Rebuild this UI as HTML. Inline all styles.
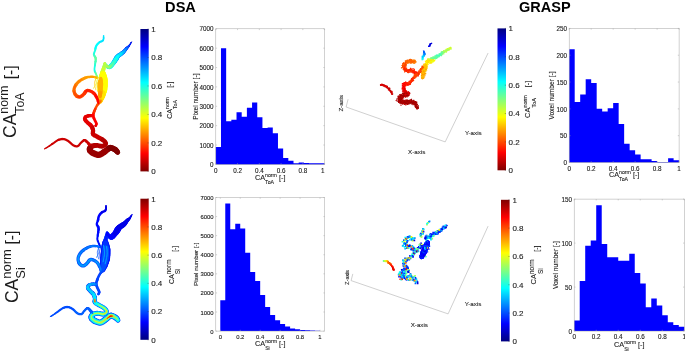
<!DOCTYPE html>
<html><head><meta charset="utf-8"><title>DSA vs GRASP</title>
<style>html,body{margin:0;padding:0;background:#fff;}svg{display:block;}#fig{width:685px;height:351px;overflow:hidden;will-change:transform;filter:blur(0.45px);}text{font-family:"Liberation Sans",sans-serif;}</style></head>
<body>
<div id="fig">
<svg width="685" height="351" viewBox="0 0 685 351" font-family="'Liberation Sans', sans-serif">
<rect width="685" height="351" fill="#fff"/>
<text x="180.50" y="11.80" font-size="14.60" text-anchor="middle" fill="#000" font-weight="bold">DSA</text>
<text x="544.80" y="11.90" font-size="14.50" text-anchor="middle" fill="#000" font-weight="bold">GRASP</text>
<g transform="translate(16.00 101.70) rotate(-90)" fill="#1c1c1c"><text x="-36.26" y="0" font-size="17.50">CA</text><text x="-11.94" y="-7.80" font-size="12.30">norm</text><text x="-11.94" y="8.10" font-size="12.30">ToA</text><text x="22.39" y="-0.50" font-size="15.60">[-]</text></g>
<g transform="translate(17.50 266.90) rotate(-90)" fill="#1c1c1c"><text x="-36.18" y="0" font-size="17.50">CA</text><text x="-11.87" y="-7.00" font-size="13.00">norm</text><text x="-11.87" y="7.60" font-size="13.00">Si</text><text x="22.31" y="-0.50" font-size="15.60">[-]</text></g>
<linearGradient id="cb1433" x1="0" y1="0" x2="0" y2="1"><stop offset="0.0000" stop-color="#000080"/><stop offset="0.0312" stop-color="#00009f"/><stop offset="0.0625" stop-color="#0000bf"/><stop offset="0.0938" stop-color="#0000df"/><stop offset="0.1250" stop-color="#0000ff"/><stop offset="0.1562" stop-color="#0020ff"/><stop offset="0.1875" stop-color="#0040ff"/><stop offset="0.2188" stop-color="#0060ff"/><stop offset="0.2500" stop-color="#0080ff"/><stop offset="0.2812" stop-color="#009fff"/><stop offset="0.3125" stop-color="#00bfff"/><stop offset="0.3438" stop-color="#00dfff"/><stop offset="0.3750" stop-color="#00ffff"/><stop offset="0.4062" stop-color="#20ffdf"/><stop offset="0.4375" stop-color="#40ffbf"/><stop offset="0.4688" stop-color="#60ff9f"/><stop offset="0.5000" stop-color="#80ff80"/><stop offset="0.5312" stop-color="#9fff60"/><stop offset="0.5625" stop-color="#bfff40"/><stop offset="0.5938" stop-color="#dfff20"/><stop offset="0.6250" stop-color="#ffff00"/><stop offset="0.6562" stop-color="#ffdf00"/><stop offset="0.6875" stop-color="#ffbf00"/><stop offset="0.7188" stop-color="#ff9f00"/><stop offset="0.7500" stop-color="#ff8000"/><stop offset="0.7812" stop-color="#ff6000"/><stop offset="0.8125" stop-color="#ff4000"/><stop offset="0.8438" stop-color="#ff2000"/><stop offset="0.8750" stop-color="#ff0000"/><stop offset="0.9062" stop-color="#df0000"/><stop offset="0.9375" stop-color="#bf0000"/><stop offset="0.9688" stop-color="#9f0000"/><stop offset="1.0000" stop-color="#800000"/></linearGradient>
<rect x="140.40" y="29.00" width="8.30" height="142.40" fill="url(#cb1433)"/>
<line x1="147.50" y1="29.00" x2="148.70" y2="29.00" stroke="#333" stroke-width="0.4"/>
<text x="151.20" y="31.88" font-size="8.00" text-anchor="start" fill="#1c1c1c" stroke="#1c1c1c" stroke-width="0.12">1</text>
<line x1="147.50" y1="57.48" x2="148.70" y2="57.48" stroke="#333" stroke-width="0.4"/>
<text x="151.20" y="60.36" font-size="8.00" text-anchor="start" fill="#1c1c1c" stroke="#1c1c1c" stroke-width="0.12">0.8</text>
<line x1="147.50" y1="85.96" x2="148.70" y2="85.96" stroke="#333" stroke-width="0.4"/>
<text x="151.20" y="88.84" font-size="8.00" text-anchor="start" fill="#1c1c1c" stroke="#1c1c1c" stroke-width="0.12">0.6</text>
<line x1="147.50" y1="114.44" x2="148.70" y2="114.44" stroke="#333" stroke-width="0.4"/>
<text x="151.20" y="117.32" font-size="8.00" text-anchor="start" fill="#1c1c1c" stroke="#1c1c1c" stroke-width="0.12">0.4</text>
<line x1="147.50" y1="142.92" x2="148.70" y2="142.92" stroke="#333" stroke-width="0.4"/>
<text x="151.20" y="145.80" font-size="8.00" text-anchor="start" fill="#1c1c1c" stroke="#1c1c1c" stroke-width="0.12">0.2</text>
<line x1="147.50" y1="171.40" x2="148.70" y2="171.40" stroke="#333" stroke-width="0.4"/>
<text x="151.20" y="174.28" font-size="8.00" text-anchor="start" fill="#1c1c1c" stroke="#1c1c1c" stroke-width="0.12">0</text>
<g transform="translate(172.20 100.15) rotate(-90)" fill="#1c1c1c" stroke="#1c1c1c" stroke-width="0.10"><text x="-18.55" y="0" font-size="7.00">CA</text><text x="-8.83" y="-3.40" font-size="5.20">norm</text><text x="-8.83" y="5.00" font-size="5.20">ToA</text><text x="12.33" y="0.00" font-size="7.00">[-]</text></g>
<linearGradient id="cb1602" x1="0" y1="0" x2="0" y2="1"><stop offset="0.0000" stop-color="#800000"/><stop offset="0.0312" stop-color="#9f0000"/><stop offset="0.0625" stop-color="#bf0000"/><stop offset="0.0938" stop-color="#df0000"/><stop offset="0.1250" stop-color="#ff0000"/><stop offset="0.1562" stop-color="#ff2000"/><stop offset="0.1875" stop-color="#ff4000"/><stop offset="0.2188" stop-color="#ff6000"/><stop offset="0.2500" stop-color="#ff8000"/><stop offset="0.2812" stop-color="#ff9f00"/><stop offset="0.3125" stop-color="#ffbf00"/><stop offset="0.3438" stop-color="#ffdf00"/><stop offset="0.3750" stop-color="#ffff00"/><stop offset="0.4062" stop-color="#dfff20"/><stop offset="0.4375" stop-color="#bfff40"/><stop offset="0.4688" stop-color="#9fff60"/><stop offset="0.5000" stop-color="#80ff80"/><stop offset="0.5312" stop-color="#60ff9f"/><stop offset="0.5625" stop-color="#40ffbf"/><stop offset="0.5938" stop-color="#20ffdf"/><stop offset="0.6250" stop-color="#00ffff"/><stop offset="0.6562" stop-color="#00dfff"/><stop offset="0.6875" stop-color="#00bfff"/><stop offset="0.7188" stop-color="#009fff"/><stop offset="0.7500" stop-color="#0080ff"/><stop offset="0.7812" stop-color="#0060ff"/><stop offset="0.8125" stop-color="#0040ff"/><stop offset="0.8438" stop-color="#0020ff"/><stop offset="0.8750" stop-color="#0000ff"/><stop offset="0.9062" stop-color="#0000df"/><stop offset="0.9375" stop-color="#0000bf"/><stop offset="0.9688" stop-color="#00009f"/><stop offset="1.0000" stop-color="#000080"/></linearGradient>
<rect x="140.40" y="198.70" width="8.30" height="141.10" fill="url(#cb1602)"/>
<line x1="147.50" y1="198.70" x2="148.70" y2="198.70" stroke="#333" stroke-width="0.4"/>
<text x="151.20" y="201.58" font-size="8.00" text-anchor="start" fill="#1c1c1c" stroke="#1c1c1c" stroke-width="0.12">1</text>
<line x1="147.50" y1="226.92" x2="148.70" y2="226.92" stroke="#333" stroke-width="0.4"/>
<text x="151.20" y="229.80" font-size="8.00" text-anchor="start" fill="#1c1c1c" stroke="#1c1c1c" stroke-width="0.12">0.8</text>
<line x1="147.50" y1="255.14" x2="148.70" y2="255.14" stroke="#333" stroke-width="0.4"/>
<text x="151.20" y="258.02" font-size="8.00" text-anchor="start" fill="#1c1c1c" stroke="#1c1c1c" stroke-width="0.12">0.6</text>
<line x1="147.50" y1="283.36" x2="148.70" y2="283.36" stroke="#333" stroke-width="0.4"/>
<text x="151.20" y="286.24" font-size="8.00" text-anchor="start" fill="#1c1c1c" stroke="#1c1c1c" stroke-width="0.12">0.4</text>
<line x1="147.50" y1="311.58" x2="148.70" y2="311.58" stroke="#333" stroke-width="0.4"/>
<text x="151.20" y="314.46" font-size="8.00" text-anchor="start" fill="#1c1c1c" stroke="#1c1c1c" stroke-width="0.12">0.2</text>
<line x1="147.50" y1="339.80" x2="148.70" y2="339.80" stroke="#333" stroke-width="0.4"/>
<text x="151.20" y="342.68" font-size="8.00" text-anchor="start" fill="#1c1c1c" stroke="#1c1c1c" stroke-width="0.12">0</text>
<g transform="translate(173.80 265.00) rotate(-90)" fill="#1c1c1c" stroke="#1c1c1c" stroke-width="0.10"><text x="-19.00" y="0" font-size="7.00">CA</text><text x="-9.28" y="-3.20" font-size="6.50">norm</text><text x="-9.28" y="6.00" font-size="6.50">Si</text><text x="13.22" y="3.30" font-size="6.50">[-]</text></g>
<linearGradient id="cb5003" x1="0" y1="0" x2="0" y2="1"><stop offset="0.0000" stop-color="#000080"/><stop offset="0.0312" stop-color="#00009f"/><stop offset="0.0625" stop-color="#0000bf"/><stop offset="0.0938" stop-color="#0000df"/><stop offset="0.1250" stop-color="#0000ff"/><stop offset="0.1562" stop-color="#0020ff"/><stop offset="0.1875" stop-color="#0040ff"/><stop offset="0.2188" stop-color="#0060ff"/><stop offset="0.2500" stop-color="#0080ff"/><stop offset="0.2812" stop-color="#009fff"/><stop offset="0.3125" stop-color="#00bfff"/><stop offset="0.3438" stop-color="#00dfff"/><stop offset="0.3750" stop-color="#00ffff"/><stop offset="0.4062" stop-color="#20ffdf"/><stop offset="0.4375" stop-color="#40ffbf"/><stop offset="0.4688" stop-color="#60ff9f"/><stop offset="0.5000" stop-color="#80ff80"/><stop offset="0.5312" stop-color="#9fff60"/><stop offset="0.5625" stop-color="#bfff40"/><stop offset="0.5938" stop-color="#dfff20"/><stop offset="0.6250" stop-color="#ffff00"/><stop offset="0.6562" stop-color="#ffdf00"/><stop offset="0.6875" stop-color="#ffbf00"/><stop offset="0.7188" stop-color="#ff9f00"/><stop offset="0.7500" stop-color="#ff8000"/><stop offset="0.7812" stop-color="#ff6000"/><stop offset="0.8125" stop-color="#ff4000"/><stop offset="0.8438" stop-color="#ff2000"/><stop offset="0.8750" stop-color="#ff0000"/><stop offset="0.9062" stop-color="#df0000"/><stop offset="0.9375" stop-color="#bf0000"/><stop offset="0.9688" stop-color="#9f0000"/><stop offset="1.0000" stop-color="#800000"/></linearGradient>
<rect x="497.50" y="28.40" width="8.50" height="141.90" fill="url(#cb5003)"/>
<line x1="504.80" y1="28.40" x2="506.00" y2="28.40" stroke="#333" stroke-width="0.4"/>
<text x="508.50" y="31.28" font-size="8.00" text-anchor="start" fill="#1c1c1c" stroke="#1c1c1c" stroke-width="0.12">1</text>
<line x1="504.80" y1="56.78" x2="506.00" y2="56.78" stroke="#333" stroke-width="0.4"/>
<text x="508.50" y="59.66" font-size="8.00" text-anchor="start" fill="#1c1c1c" stroke="#1c1c1c" stroke-width="0.12">0.8</text>
<line x1="504.80" y1="85.16" x2="506.00" y2="85.16" stroke="#333" stroke-width="0.4"/>
<text x="508.50" y="88.04" font-size="8.00" text-anchor="start" fill="#1c1c1c" stroke="#1c1c1c" stroke-width="0.12">0.6</text>
<line x1="504.80" y1="113.54" x2="506.00" y2="113.54" stroke="#333" stroke-width="0.4"/>
<text x="508.50" y="116.42" font-size="8.00" text-anchor="start" fill="#1c1c1c" stroke="#1c1c1c" stroke-width="0.12">0.4</text>
<line x1="504.80" y1="141.92" x2="506.00" y2="141.92" stroke="#333" stroke-width="0.4"/>
<text x="508.50" y="144.80" font-size="8.00" text-anchor="start" fill="#1c1c1c" stroke="#1c1c1c" stroke-width="0.12">0.2</text>
<line x1="504.80" y1="170.30" x2="506.00" y2="170.30" stroke="#333" stroke-width="0.4"/>
<text x="508.50" y="173.18" font-size="8.00" text-anchor="start" fill="#1c1c1c" stroke="#1c1c1c" stroke-width="0.12">0</text>
<g transform="translate(530.30 99.25) rotate(-90)" fill="#1c1c1c" stroke="#1c1c1c" stroke-width="0.10"><text x="-18.65" y="0" font-size="7.40">CA</text><text x="-8.37" y="-3.00" font-size="5.50">norm</text><text x="-8.37" y="5.50" font-size="5.50">ToA</text><text x="12.07" y="0.00" font-size="7.40">[-]</text></g>
<linearGradient id="cb5209" x1="0" y1="0" x2="0" y2="1"><stop offset="0.0000" stop-color="#800000"/><stop offset="0.0312" stop-color="#9f0000"/><stop offset="0.0625" stop-color="#bf0000"/><stop offset="0.0938" stop-color="#df0000"/><stop offset="0.1250" stop-color="#ff0000"/><stop offset="0.1562" stop-color="#ff2000"/><stop offset="0.1875" stop-color="#ff4000"/><stop offset="0.2188" stop-color="#ff6000"/><stop offset="0.2500" stop-color="#ff8000"/><stop offset="0.2812" stop-color="#ff9f00"/><stop offset="0.3125" stop-color="#ffbf00"/><stop offset="0.3438" stop-color="#ffdf00"/><stop offset="0.3750" stop-color="#ffff00"/><stop offset="0.4062" stop-color="#dfff20"/><stop offset="0.4375" stop-color="#bfff40"/><stop offset="0.4688" stop-color="#9fff60"/><stop offset="0.5000" stop-color="#80ff80"/><stop offset="0.5312" stop-color="#60ff9f"/><stop offset="0.5625" stop-color="#40ffbf"/><stop offset="0.5938" stop-color="#20ffdf"/><stop offset="0.6250" stop-color="#00ffff"/><stop offset="0.6562" stop-color="#00dfff"/><stop offset="0.6875" stop-color="#00bfff"/><stop offset="0.7188" stop-color="#009fff"/><stop offset="0.7500" stop-color="#0080ff"/><stop offset="0.7812" stop-color="#0060ff"/><stop offset="0.8125" stop-color="#0040ff"/><stop offset="0.8438" stop-color="#0020ff"/><stop offset="0.8750" stop-color="#0000ff"/><stop offset="0.9062" stop-color="#0000df"/><stop offset="0.9375" stop-color="#0000bf"/><stop offset="0.9688" stop-color="#00009f"/><stop offset="1.0000" stop-color="#000080"/></linearGradient>
<rect x="501.00" y="199.80" width="8.60" height="141.60" fill="url(#cb5209)"/>
<line x1="508.40" y1="199.80" x2="509.60" y2="199.80" stroke="#333" stroke-width="0.4"/>
<text x="512.40" y="202.68" font-size="8.00" text-anchor="start" fill="#1c1c1c" stroke="#1c1c1c" stroke-width="0.12">1</text>
<line x1="508.40" y1="228.12" x2="509.60" y2="228.12" stroke="#333" stroke-width="0.4"/>
<text x="512.40" y="231.00" font-size="8.00" text-anchor="start" fill="#1c1c1c" stroke="#1c1c1c" stroke-width="0.12">0.8</text>
<line x1="508.40" y1="256.44" x2="509.60" y2="256.44" stroke="#333" stroke-width="0.4"/>
<text x="512.40" y="259.32" font-size="8.00" text-anchor="start" fill="#1c1c1c" stroke="#1c1c1c" stroke-width="0.12">0.6</text>
<line x1="508.40" y1="284.76" x2="509.60" y2="284.76" stroke="#333" stroke-width="0.4"/>
<text x="512.40" y="287.64" font-size="8.00" text-anchor="start" fill="#1c1c1c" stroke="#1c1c1c" stroke-width="0.12">0.4</text>
<line x1="508.40" y1="313.08" x2="509.60" y2="313.08" stroke="#333" stroke-width="0.4"/>
<text x="512.40" y="315.96" font-size="8.00" text-anchor="start" fill="#1c1c1c" stroke="#1c1c1c" stroke-width="0.12">0.2</text>
<line x1="508.40" y1="341.40" x2="509.60" y2="341.40" stroke="#333" stroke-width="0.4"/>
<text x="512.40" y="344.28" font-size="8.00" text-anchor="start" fill="#1c1c1c" stroke="#1c1c1c" stroke-width="0.12">0</text>
<g transform="translate(536.40 265.10) rotate(-90)" fill="#1c1c1c" stroke="#1c1c1c" stroke-width="0.10"><text x="-19.50" y="0" font-size="7.60">CA</text><text x="-8.94" y="-2.80" font-size="6.50">norm</text><text x="-8.94" y="6.30" font-size="6.50">Si</text><text x="13.46" y="2.50" font-size="6.80">[-]</text></g>
<path d="M215.80 164.40V146.97H220.98V164.40ZM220.98 164.40V48.17H226.16V164.40ZM226.16 164.40V121.20H231.34V164.40ZM231.34 164.40V119.65H236.52V164.40ZM236.52 164.40V112.29H241.70V164.40ZM241.70 164.40V116.84H246.89V164.40ZM246.89 164.40V107.64H252.07V164.40ZM252.07 164.40V102.61H257.25V164.40ZM257.25 164.40V117.33H262.43V164.40ZM262.43 164.40V128.04H267.61V164.40ZM267.61 164.40V127.59H272.79V164.40ZM272.79 164.40V133.31H277.97V164.40ZM277.97 164.40V148.61H283.15V164.40ZM283.15 164.40V158.01H288.33V164.40ZM288.33 164.40V160.72H293.51V164.40ZM293.51 164.40V163.24H298.70V164.40ZM298.70 164.40V162.56H303.88V164.40ZM303.88 164.40V163.04H309.06V164.40ZM309.06 164.40V163.24H314.24V164.40ZM314.24 164.40V163.24H319.42V164.40ZM319.42 164.40V163.24H324.60V164.40Z" fill="#0000ff"/>
<rect x="215.80" y="28.80" width="108.80" height="135.60" fill="none" stroke="#a4a4a4" stroke-width="0.5"/>
<text x="215.80" y="173.06" font-size="6.30" text-anchor="middle" fill="#1c1c1c" stroke="#1c1c1c" stroke-width="0.12">0</text>
<text x="237.56" y="173.06" font-size="6.30" text-anchor="middle" fill="#1c1c1c" stroke="#1c1c1c" stroke-width="0.12">0.2</text>
<text x="259.32" y="173.06" font-size="6.30" text-anchor="middle" fill="#1c1c1c" stroke="#1c1c1c" stroke-width="0.12">0.4</text>
<text x="281.08" y="173.06" font-size="6.30" text-anchor="middle" fill="#1c1c1c" stroke="#1c1c1c" stroke-width="0.12">0.6</text>
<text x="302.84" y="173.06" font-size="6.30" text-anchor="middle" fill="#1c1c1c" stroke="#1c1c1c" stroke-width="0.12">0.8</text>
<text x="322.80" y="173.06" font-size="6.30" text-anchor="middle" fill="#1c1c1c" stroke="#1c1c1c" stroke-width="0.12">1</text>
<text x="213.50" y="167.07" font-size="6.30" text-anchor="end" fill="#1c1c1c" stroke="#1c1c1c" stroke-width="0.12">0</text>
<text x="213.50" y="147.70" font-size="6.30" text-anchor="end" fill="#1c1c1c" stroke="#1c1c1c" stroke-width="0.12">1000</text>
<text x="213.50" y="128.33" font-size="6.30" text-anchor="end" fill="#1c1c1c" stroke="#1c1c1c" stroke-width="0.12">2000</text>
<text x="213.50" y="108.95" font-size="6.30" text-anchor="end" fill="#1c1c1c" stroke="#1c1c1c" stroke-width="0.12">3000</text>
<text x="213.50" y="89.58" font-size="6.30" text-anchor="end" fill="#1c1c1c" stroke="#1c1c1c" stroke-width="0.12">4000</text>
<text x="213.50" y="70.21" font-size="6.30" text-anchor="end" fill="#1c1c1c" stroke="#1c1c1c" stroke-width="0.12">5000</text>
<text x="213.50" y="50.84" font-size="6.30" text-anchor="end" fill="#1c1c1c" stroke="#1c1c1c" stroke-width="0.12">6000</text>
<text x="213.50" y="31.47" font-size="6.30" text-anchor="end" fill="#1c1c1c" stroke="#1c1c1c" stroke-width="0.12">7000</text>
<path d="M215.80 164.40v-1.3M215.80 28.80v1.3M237.56 164.40v-1.3M237.56 28.80v1.3M259.32 164.40v-1.3M259.32 28.80v1.3M281.08 164.40v-1.3M281.08 28.80v1.3M302.84 164.40v-1.3M302.84 28.80v1.3M324.60 164.40v-1.3M324.60 28.80v1.3M215.80 164.40h1.3M324.60 164.40h-1.3M215.80 145.03h1.3M324.60 145.03h-1.3M215.80 125.66h1.3M324.60 125.66h-1.3M215.80 106.29h1.3M324.60 106.29h-1.3M215.80 86.91h1.3M324.60 86.91h-1.3M215.80 67.54h1.3M324.60 67.54h-1.3M215.80 48.17h1.3M324.60 48.17h-1.3M215.80 28.80h1.3M324.60 28.80h-1.3" stroke="#a4a4a4" stroke-width="0.5" fill="none"/>
<text x="197.60" y="96.60" font-size="6.60" text-anchor="middle" fill="#1c1c1c" transform="rotate(-90 197.60 96.60)" stroke="#1c1c1c" stroke-width="0.12">Pixel number [-]</text>
<g transform="translate(270.20 180.00) rotate(0)" fill="#1c1c1c" stroke="#1c1c1c" stroke-width="0.10"><text x="-15.25" y="0" font-size="7.30">CA</text><text x="-5.11" y="-3.00" font-size="5.20">norm</text><text x="-5.11" y="4.00" font-size="5.20">ToA</text><text x="8.76" y="0.00" font-size="7.30">[-]</text></g>
<path d="M220.29 331.10V300.37H225.27V331.10ZM225.27 331.10V203.42H230.26V331.10ZM230.26 331.10V229.37H235.25V331.10ZM235.25 331.10V223.84H240.23V331.10ZM240.23 331.10V228.42H245.22V331.10ZM245.22 331.10V252.85H250.21V331.10ZM250.21 331.10V271.93H255.19V331.10ZM255.19 331.10V280.90H260.18V331.10ZM260.18 331.10V295.03H265.16V331.10ZM265.16 331.10V306.96H270.15V331.10ZM270.15 331.10V314.88H275.14V331.10ZM275.14 331.10V320.22H280.12V331.10ZM280.12 331.10V324.04H285.11V331.10ZM285.11 331.10V326.52H290.10V331.10ZM290.10 331.10V328.43H295.08V331.10ZM295.08 331.10V329.29H300.07V331.10ZM300.07 331.10V329.95H305.05V331.10ZM305.05 331.10V330.24H310.04V331.10ZM310.04 331.10V330.62H315.03V331.10ZM315.03 331.10V330.81H320.01V331.10Z" fill="#0000ff"/>
<rect x="215.80" y="197.50" width="108.90" height="133.60" fill="none" stroke="#a4a4a4" stroke-width="0.5"/>
<text x="220.29" y="338.86" font-size="5.90" text-anchor="middle" fill="#1c1c1c" stroke="#1c1c1c" stroke-width="0.12">0</text>
<text x="240.23" y="338.86" font-size="5.90" text-anchor="middle" fill="#1c1c1c" stroke="#1c1c1c" stroke-width="0.12">0.2</text>
<text x="260.18" y="338.86" font-size="5.90" text-anchor="middle" fill="#1c1c1c" stroke="#1c1c1c" stroke-width="0.12">0.4</text>
<text x="280.12" y="338.86" font-size="5.90" text-anchor="middle" fill="#1c1c1c" stroke="#1c1c1c" stroke-width="0.12">0.6</text>
<text x="300.07" y="338.86" font-size="5.90" text-anchor="middle" fill="#1c1c1c" stroke="#1c1c1c" stroke-width="0.12">0.8</text>
<text x="320.01" y="338.86" font-size="5.90" text-anchor="middle" fill="#1c1c1c" stroke="#1c1c1c" stroke-width="0.12">1</text>
<text x="213.50" y="333.62" font-size="5.90" text-anchor="end" fill="#1c1c1c" stroke="#1c1c1c" stroke-width="0.12">0</text>
<text x="213.50" y="314.54" font-size="5.90" text-anchor="end" fill="#1c1c1c" stroke="#1c1c1c" stroke-width="0.12">1000</text>
<text x="213.50" y="295.45" font-size="5.90" text-anchor="end" fill="#1c1c1c" stroke="#1c1c1c" stroke-width="0.12">2000</text>
<text x="213.50" y="276.37" font-size="5.90" text-anchor="end" fill="#1c1c1c" stroke="#1c1c1c" stroke-width="0.12">3000</text>
<text x="213.50" y="257.28" font-size="5.90" text-anchor="end" fill="#1c1c1c" stroke="#1c1c1c" stroke-width="0.12">4000</text>
<text x="213.50" y="238.20" font-size="5.90" text-anchor="end" fill="#1c1c1c" stroke="#1c1c1c" stroke-width="0.12">5000</text>
<text x="213.50" y="219.11" font-size="5.90" text-anchor="end" fill="#1c1c1c" stroke="#1c1c1c" stroke-width="0.12">6000</text>
<text x="213.50" y="200.02" font-size="5.90" text-anchor="end" fill="#1c1c1c" stroke="#1c1c1c" stroke-width="0.12">7000</text>
<path d="M220.29 331.10v-1.3M220.29 197.50v1.3M240.23 331.10v-1.3M240.23 197.50v1.3M260.18 331.10v-1.3M260.18 197.50v1.3M280.12 331.10v-1.3M280.12 197.50v1.3M300.07 331.10v-1.3M300.07 197.50v1.3M320.01 331.10v-1.3M320.01 197.50v1.3M215.80 331.10h1.3M324.70 331.10h-1.3M215.80 312.01h1.3M324.70 312.01h-1.3M215.80 292.93h1.3M324.70 292.93h-1.3M215.80 273.84h1.3M324.70 273.84h-1.3M215.80 254.76h1.3M324.70 254.76h-1.3M215.80 235.67h1.3M324.70 235.67h-1.3M215.80 216.59h1.3M324.70 216.59h-1.3M215.80 197.50h1.3M324.70 197.50h-1.3" stroke="#a4a4a4" stroke-width="0.5" fill="none"/>
<text x="197.60" y="264.30" font-size="6.20" text-anchor="middle" fill="#1c1c1c" transform="rotate(-90 197.60 264.30)" stroke="#1c1c1c" stroke-width="0.12">Pixel number [-]</text>
<g transform="translate(270.25 346.00) rotate(0)" fill="#1c1c1c" stroke="#1c1c1c" stroke-width="0.10"><text x="-15.25" y="0" font-size="7.30">CA</text><text x="-5.11" y="-3.00" font-size="5.20">norm</text><text x="-5.11" y="4.00" font-size="5.20">Si</text><text x="8.76" y="0.00" font-size="7.30">[-]</text></g>
<path d="M569.20 162.50V49.32H574.70V162.50ZM574.70 162.50V101.89H580.19V162.50ZM580.19 162.50V94.38H585.69V162.50ZM585.69 162.50V79.36H591.18V162.50ZM591.18 162.50V83.11H596.68V162.50ZM596.68 162.50V108.86H602.17V162.50ZM602.17 162.50V111.54H607.67V162.50ZM607.67 162.50V108.32H613.16V162.50ZM613.16 162.50V102.96H618.66V162.50ZM618.66 162.50V123.88H624.15V162.50ZM624.15 162.50V143.73H629.64V162.50ZM629.64 162.50V150.16H635.14V162.50ZM635.14 162.50V154.45H640.63V162.50ZM640.63 162.50V159.28H646.13V162.50ZM646.13 162.50V159.28H651.62V162.50ZM651.62 162.50V160.89H657.12V162.50ZM657.12 162.50V161.96H662.62V162.50ZM662.62 162.50V161.96H668.11V162.50ZM668.11 162.50V158.21H673.61V162.50ZM673.61 162.50V160.35H679.10V162.50Z" fill="#0000ff"/>
<rect x="569.20" y="28.40" width="109.90" height="134.10" fill="none" stroke="#a4a4a4" stroke-width="0.5"/>
<text x="569.20" y="170.86" font-size="6.30" text-anchor="middle" fill="#1c1c1c" stroke="#1c1c1c" stroke-width="0.12">0</text>
<text x="591.18" y="170.86" font-size="6.30" text-anchor="middle" fill="#1c1c1c" stroke="#1c1c1c" stroke-width="0.12">0.2</text>
<text x="613.16" y="170.86" font-size="6.30" text-anchor="middle" fill="#1c1c1c" stroke="#1c1c1c" stroke-width="0.12">0.4</text>
<text x="635.14" y="170.86" font-size="6.30" text-anchor="middle" fill="#1c1c1c" stroke="#1c1c1c" stroke-width="0.12">0.6</text>
<text x="657.12" y="170.86" font-size="6.30" text-anchor="middle" fill="#1c1c1c" stroke="#1c1c1c" stroke-width="0.12">0.8</text>
<text x="679.10" y="170.86" font-size="6.30" text-anchor="middle" fill="#1c1c1c" stroke="#1c1c1c" stroke-width="0.12">1</text>
<text x="566.90" y="165.17" font-size="6.30" text-anchor="end" fill="#1c1c1c" stroke="#1c1c1c" stroke-width="0.12">0</text>
<text x="566.90" y="138.35" font-size="6.30" text-anchor="end" fill="#1c1c1c" stroke="#1c1c1c" stroke-width="0.12">50</text>
<text x="566.90" y="111.53" font-size="6.30" text-anchor="end" fill="#1c1c1c" stroke="#1c1c1c" stroke-width="0.12">100</text>
<text x="566.90" y="84.71" font-size="6.30" text-anchor="end" fill="#1c1c1c" stroke="#1c1c1c" stroke-width="0.12">150</text>
<text x="566.90" y="57.89" font-size="6.30" text-anchor="end" fill="#1c1c1c" stroke="#1c1c1c" stroke-width="0.12">200</text>
<text x="566.90" y="31.07" font-size="6.30" text-anchor="end" fill="#1c1c1c" stroke="#1c1c1c" stroke-width="0.12">250</text>
<path d="M569.20 162.50v-1.3M569.20 28.40v1.3M591.18 162.50v-1.3M591.18 28.40v1.3M613.16 162.50v-1.3M613.16 28.40v1.3M635.14 162.50v-1.3M635.14 28.40v1.3M657.12 162.50v-1.3M657.12 28.40v1.3M679.10 162.50v-1.3M679.10 28.40v1.3M569.20 162.50h1.3M679.10 162.50h-1.3M569.20 135.68h1.3M679.10 135.68h-1.3M569.20 108.86h1.3M679.10 108.86h-1.3M569.20 82.04h1.3M679.10 82.04h-1.3M569.20 55.22h1.3M679.10 55.22h-1.3M569.20 28.40h1.3M679.10 28.40h-1.3" stroke="#a4a4a4" stroke-width="0.5" fill="none"/>
<text x="554.00" y="95.45" font-size="6.60" text-anchor="middle" fill="#1c1c1c" transform="rotate(-90 554.00 95.45)" stroke="#1c1c1c" stroke-width="0.12">Voxel number [-]</text>
<g transform="translate(624.15 177.00) rotate(0)" fill="#1c1c1c" stroke="#1c1c1c" stroke-width="0.10"><text x="-15.25" y="0" font-size="7.30">CA</text><text x="-5.11" y="-3.00" font-size="5.20">norm</text><text x="-5.11" y="4.00" font-size="5.20">ToA</text><text x="8.76" y="0.00" font-size="7.30">[-]</text></g>
<path d="M574.20 331.10V320.54H579.71V331.10ZM579.71 331.10V280.94H585.21V331.10ZM585.21 331.10V245.74H590.72V331.10ZM590.72 331.10V240.46H596.22V331.10ZM596.22 331.10V205.26H601.73V331.10ZM601.73 331.10V243.98H607.23V331.10ZM607.23 331.10V257.18H612.74V331.10ZM612.74 331.10V257.18H618.24V331.10ZM618.24 331.10V260.70H623.75V331.10ZM623.75 331.10V260.70H629.25V331.10ZM629.25 331.10V253.66H634.75V331.10ZM634.75 331.10V273.02H640.26V331.10ZM640.26 331.10V283.58H645.76V331.10ZM645.76 331.10V307.34H651.27V331.10ZM651.27 331.10V298.54H656.77V331.10ZM656.77 331.10V305.58H662.28V331.10ZM662.28 331.10V315.26H667.78V331.10ZM667.78 331.10V322.30H673.29V331.10ZM673.29 331.10V324.94H678.79V331.10ZM678.79 331.10V326.70H684.30V331.10Z" fill="#0000ff"/>
<rect x="574.20" y="199.10" width="110.10" height="132.00" fill="none" stroke="#a4a4a4" stroke-width="0.5"/>
<text x="574.20" y="339.46" font-size="6.30" text-anchor="middle" fill="#1c1c1c" stroke="#1c1c1c" stroke-width="0.12">0</text>
<text x="596.22" y="339.46" font-size="6.30" text-anchor="middle" fill="#1c1c1c" stroke="#1c1c1c" stroke-width="0.12">0.2</text>
<text x="618.24" y="339.46" font-size="6.30" text-anchor="middle" fill="#1c1c1c" stroke="#1c1c1c" stroke-width="0.12">0.4</text>
<text x="640.26" y="339.46" font-size="6.30" text-anchor="middle" fill="#1c1c1c" stroke="#1c1c1c" stroke-width="0.12">0.6</text>
<text x="662.28" y="339.46" font-size="6.30" text-anchor="middle" fill="#1c1c1c" stroke="#1c1c1c" stroke-width="0.12">0.8</text>
<text x="684.30" y="339.46" font-size="6.30" text-anchor="middle" fill="#1c1c1c" stroke="#1c1c1c" stroke-width="0.12">1</text>
<text x="571.90" y="333.77" font-size="6.30" text-anchor="end" fill="#1c1c1c" stroke="#1c1c1c" stroke-width="0.12">0</text>
<text x="571.90" y="289.77" font-size="6.30" text-anchor="end" fill="#1c1c1c" stroke="#1c1c1c" stroke-width="0.12">50</text>
<text x="571.90" y="245.77" font-size="6.30" text-anchor="end" fill="#1c1c1c" stroke="#1c1c1c" stroke-width="0.12">100</text>
<text x="571.90" y="201.77" font-size="6.30" text-anchor="end" fill="#1c1c1c" stroke="#1c1c1c" stroke-width="0.12">150</text>
<path d="M574.20 331.10v-1.3M574.20 199.10v1.3M596.22 331.10v-1.3M596.22 199.10v1.3M618.24 331.10v-1.3M618.24 199.10v1.3M640.26 331.10v-1.3M640.26 199.10v1.3M662.28 331.10v-1.3M662.28 199.10v1.3M684.30 331.10v-1.3M684.30 199.10v1.3M574.20 331.10h1.3M684.30 331.10h-1.3M574.20 287.10h1.3M684.30 287.10h-1.3M574.20 243.10h1.3M684.30 243.10h-1.3M574.20 199.10h1.3M684.30 199.10h-1.3" stroke="#a4a4a4" stroke-width="0.5" fill="none"/>
<text x="558.50" y="265.10" font-size="6.60" text-anchor="middle" fill="#1c1c1c" transform="rotate(-90 558.50 265.10)" stroke="#1c1c1c" stroke-width="0.12">Voxel number [-]</text>
<g transform="translate(629.25 347.00) rotate(0)" fill="#1c1c1c" stroke="#1c1c1c" stroke-width="0.10"><text x="-15.25" y="0" font-size="7.30">CA</text><text x="-5.11" y="-3.00" font-size="5.20">norm</text><text x="-5.11" y="4.00" font-size="5.20">Si</text><text x="8.76" y="0.00" font-size="7.30">[-]</text></g>
<g id="dsa-toa">
<path d="M103.6 35.7L103.6 36.1M103.6 36.1L103.6 36.6M103.6 36.6L103.6 37.2M103.6 37.2L103.6 37.9" stroke="#00e5ff" stroke-width="1.50" stroke-linecap="round" fill="none"/>
<path d="M103.6 37.9L103.6 38.5M103.6 38.5L103.5 39.2M103.5 39.2L103.3 39.8M103.3 39.8L103.1 40.3" stroke="#00e5ff" stroke-width="1.75" stroke-linecap="round" fill="none"/>
<path d="M103.1 40.3L102.8 40.7M102.8 40.7L102.3 41.0M102.3 41.0L101.8 41.2M101.8 41.2L101.2 41.5M101.2 41.5L100.7 41.7M100.7 41.7L100.1 41.9M100.1 41.9L99.6 42.2M99.6 42.2L99.1 42.5M99.1 42.5L98.7 42.9" stroke="#00e5ff" stroke-width="2.00" stroke-linecap="round" fill="none"/>
<path d="M98.7 42.9L98.3 43.3M98.3 43.3L97.9 43.7M97.9 43.7L97.5 44.1M95.5 48.2L95.4 48.8M95.4 48.8L95.3 49.4" stroke="#00ffff" stroke-width="2.00" stroke-linecap="round" fill="none"/>
<path d="M97.5 44.1L97.1 44.6M97.1 44.6L96.8 45.0M96.8 45.0L96.5 45.5M96.5 45.5L96.2 46.0M96.2 46.0L96.0 46.5M96.0 46.5L95.8 47.1M95.8 47.1L95.7 47.6M95.7 47.6L95.5 48.2" stroke="#00ffff" stroke-width="2.25" stroke-linecap="round" fill="none"/>
<path d="M95.3 49.4L95.2 50.0M95.2 50.0L95.1 50.5M95.1 50.5L94.9 51.0M94.9 51.0L94.7 51.5M94.7 51.5L94.5 52.0M94.5 52.0L94.3 52.5M94.3 52.5L94.1 53.0M94.1 53.0L94.0 53.5M94.0 53.5L93.9 54.0M93.9 54.0L93.9 54.5" stroke="#1affe5" stroke-width="2.00" stroke-linecap="round" fill="none"/>
<path d="M93.9 54.5L94.0 55.0M94.0 55.0L94.2 55.5M94.2 55.5L94.5 55.9M94.5 55.9L94.8 56.4M95.4 62.0L95.3 62.7M95.3 62.7L95.2 63.5M95.2 63.5L95.1 64.2" stroke="#33ffcc" stroke-width="2.00" stroke-linecap="round" fill="none"/>
<path d="M94.8 56.4L95.1 56.9M95.1 56.9L95.3 57.4M95.3 57.4L95.6 57.9M95.7 59.1L95.7 59.8M95.7 59.8L95.7 60.5M95.7 60.5L95.6 61.2" stroke="#4cffb3" stroke-width="2.25" stroke-linecap="round" fill="none"/>
<path d="M95.6 57.9L95.7 58.5M95.7 58.5L95.7 59.1" stroke="#66ff99" stroke-width="2.25" stroke-linecap="round" fill="none"/>
<path d="M95.6 61.2L95.4 62.0" stroke="#4cffb3" stroke-width="2.00" stroke-linecap="round" fill="none"/>
<path d="M95.1 64.2L95.0 64.9M95.0 64.9L94.9 65.7M94.7 71.1L94.9 71.6M94.9 71.6L95.1 72.1M95.1 72.1L95.4 72.6" stroke="#33ffcc" stroke-width="1.75" stroke-linecap="round" fill="none"/>
<path d="M94.9 65.7L94.8 66.4M94.8 66.4L94.7 67.2M94.7 67.2L94.6 67.9M94.6 67.9L94.5 68.6M94.5 68.6L94.5 69.3M94.5 69.3L94.5 69.9M94.5 69.9L94.6 70.5M94.6 70.5L94.7 71.1" stroke="#1affe5" stroke-width="1.75" stroke-linecap="round" fill="none"/>
<path d="M95.4 72.6L95.6 73.1M95.6 73.1L95.8 73.5" stroke="#4cffb3" stroke-width="1.75" stroke-linecap="round" fill="none"/>
<path d="M95.8 73.5L96.0 74.0M96.0 74.0L96.2 74.5M96.2 74.5L96.4 75.0M96.4 75.0L96.6 75.4" stroke="#66ff99" stroke-width="1.75" stroke-linecap="round" fill="none"/>
<path d="M96.6 75.4L96.8 75.9M96.8 75.9L97.0 76.3M97.0 76.3L97.2 76.7M97.2 76.7L97.3 77.1" stroke="#80ff80" stroke-width="1.75" stroke-linecap="round" fill="none"/>
<path d="M97.3 77.1L97.4 77.3" stroke="#99ff66" stroke-width="1.75" stroke-linecap="round" fill="none"/>
<path d="M131.5 42.0L131.3 42.3" stroke="#0000b3" stroke-width="0.75" stroke-linecap="round" fill="none"/>
<path d="M131.3 42.3L131.1 42.7M131.1 42.7L130.8 43.2" stroke="#0000b3" stroke-width="1.00" stroke-linecap="round" fill="none"/>
<path d="M130.8 43.2L130.4 43.8M130.4 43.8L130.1 44.4" stroke="#0000cc" stroke-width="1.25" stroke-linecap="round" fill="none"/>
<path d="M130.1 44.4L129.7 44.9M129.7 44.9L129.3 45.4" stroke="#0000cc" stroke-width="1.50" stroke-linecap="round" fill="none"/>
<path d="M129.3 45.4L129.0 45.9M129.0 45.9L128.7 46.3" stroke="#0000e5" stroke-width="1.75" stroke-linecap="round" fill="none"/>
<path d="M128.7 46.3L128.4 46.6M128.4 46.6L128.0 46.9" stroke="#0000e5" stroke-width="2.00" stroke-linecap="round" fill="none"/>
<path d="M128.0 46.9L127.7 47.2" stroke="#0000e5" stroke-width="2.25" stroke-linecap="round" fill="none"/>
<path d="M127.7 47.2L127.4 47.5" stroke="#0000ff" stroke-width="2.25" stroke-linecap="round" fill="none"/>
<path d="M127.4 47.5L127.1 47.8M127.1 47.8L126.7 48.2" stroke="#0000ff" stroke-width="2.50" stroke-linecap="round" fill="none"/>
<path d="M126.7 48.2L126.4 48.5" stroke="#0000ff" stroke-width="2.75" stroke-linecap="round" fill="none"/>
<path d="M126.4 48.5L126.1 48.9" stroke="#001aff" stroke-width="2.75" stroke-linecap="round" fill="none"/>
<path d="M126.1 48.9L125.8 49.3M125.8 49.3L125.5 49.7" stroke="#001aff" stroke-width="3.00" stroke-linecap="round" fill="none"/>
<path d="M125.5 49.7L125.1 50.1" stroke="#0033ff" stroke-width="3.00" stroke-linecap="round" fill="none"/>
<path d="M125.1 50.1L124.8 50.5M124.8 50.5L124.5 50.9" stroke="#0033ff" stroke-width="3.25" stroke-linecap="round" fill="none"/>
<path d="M124.5 50.9L124.2 51.3M124.2 51.3L123.8 51.7M123.8 51.7L123.4 52.1" stroke="#004cff" stroke-width="3.50" stroke-linecap="round" fill="none"/>
<path d="M123.4 52.1L123.0 52.4" stroke="#004cff" stroke-width="3.75" stroke-linecap="round" fill="none"/>
<path d="M123.0 52.4L122.6 52.7M122.6 52.7L122.2 53.0" stroke="#0066ff" stroke-width="3.75" stroke-linecap="round" fill="none"/>
<path d="M122.2 53.0L121.8 53.3M121.8 53.3L121.4 53.6" stroke="#0066ff" stroke-width="4.00" stroke-linecap="round" fill="none"/>
<path d="M121.4 53.6L121.0 53.9M121.0 53.9L120.6 54.2M120.6 54.2L120.2 54.5M120.2 54.5L119.9 54.7M119.9 54.7L119.6 54.9M119.6 54.9L119.3 55.1M119.3 55.1L119.0 55.3" stroke="#0080ff" stroke-width="4.25" stroke-linecap="round" fill="none"/>
<path d="M119.0 55.3L118.7 55.5M117.8 56.3L117.6 56.6M117.6 56.6L117.3 56.9" stroke="#0099ff" stroke-width="4.25" stroke-linecap="round" fill="none"/>
<path d="M118.7 55.5L118.4 55.7M118.4 55.7L118.1 56.0M118.1 56.0L117.8 56.3" stroke="#0099ff" stroke-width="4.00" stroke-linecap="round" fill="none"/>
<path d="M117.3 56.9L117.1 57.3M117.1 57.3L116.9 57.6" stroke="#0099ff" stroke-width="4.50" stroke-linecap="round" fill="none"/>
<path d="M116.9 57.6L116.7 58.0M116.7 58.0L116.4 58.3" stroke="#0099ff" stroke-width="4.75" stroke-linecap="round" fill="none"/>
<path d="M116.4 58.3L116.2 58.7M116.0 59.1L115.7 59.5M115.7 59.5L115.5 59.9M115.5 59.9L115.2 60.3M115.2 60.3L115.0 60.7M115.0 60.7L114.7 61.1" stroke="#00b3ff" stroke-width="4.75" stroke-linecap="round" fill="none"/>
<path d="M116.2 58.7L116.0 59.1" stroke="#00b3ff" stroke-width="5.00" stroke-linecap="round" fill="none"/>
<path d="M114.7 61.1L114.5 61.5" stroke="#00ccff" stroke-width="4.75" stroke-linecap="round" fill="none"/>
<path d="M114.5 61.5L114.2 61.9M114.2 61.9L113.9 62.3M113.9 62.3L113.6 62.7M113.6 62.7L113.3 63.1" stroke="#00ccff" stroke-width="4.50" stroke-linecap="round" fill="none"/>
<path d="M113.3 63.1L113.0 63.6M113.0 63.6L112.7 64.0M112.7 64.0L112.3 64.4M112.3 64.4L112.0 64.8M112.0 64.8L111.7 65.1" stroke="#00e5ff" stroke-width="4.50" stroke-linecap="round" fill="none"/>
<path d="M111.7 65.1L111.4 65.4M111.4 65.4L111.1 65.8" stroke="#00ffff" stroke-width="4.50" stroke-linecap="round" fill="none"/>
<path d="M111.1 65.8L110.7 66.1M110.7 66.1L110.4 66.4" stroke="#00ffff" stroke-width="4.25" stroke-linecap="round" fill="none"/>
<path d="M110.4 66.4L110.1 66.7" stroke="#1affe5" stroke-width="4.25" stroke-linecap="round" fill="none"/>
<path d="M110.1 66.7L109.8 66.9M109.8 66.9L109.4 67.1M109.4 67.1L109.1 67.2" stroke="#1affe5" stroke-width="4.00" stroke-linecap="round" fill="none"/>
<path d="M109.1 67.2L108.8 67.2M108.8 67.2L108.4 67.1" stroke="#33ffcc" stroke-width="3.75" stroke-linecap="round" fill="none"/>
<path d="M108.4 67.1L108.1 67.0M108.1 67.0L107.7 66.8" stroke="#33ffcc" stroke-width="3.50" stroke-linecap="round" fill="none"/>
<path d="M107.7 66.8L107.4 66.6" stroke="#33ffcc" stroke-width="3.25" stroke-linecap="round" fill="none"/>
<path d="M107.4 66.6L107.1 66.3" stroke="#4cffb3" stroke-width="3.25" stroke-linecap="round" fill="none"/>
<path d="M107.1 66.3L106.8 66.1M106.8 66.1L106.5 65.8" stroke="#4cffb3" stroke-width="3.00" stroke-linecap="round" fill="none"/>
<path d="M106.5 65.8L106.2 65.5M106.2 65.5L106.0 65.2" stroke="#4cffb3" stroke-width="2.75" stroke-linecap="round" fill="none"/>
<path d="M106.0 65.2L105.7 64.8" stroke="#4cffb3" stroke-width="2.50" stroke-linecap="round" fill="none"/>
<path d="M105.7 64.8L105.5 64.4" stroke="#66ff99" stroke-width="2.50" stroke-linecap="round" fill="none"/>
<path d="M105.5 64.4L105.3 64.0M105.3 64.0L105.1 63.7" stroke="#66ff99" stroke-width="2.25" stroke-linecap="round" fill="none"/>
<path d="M105.1 63.7L104.9 63.4M104.9 63.4L104.8 63.2" stroke="#66ff99" stroke-width="2.00" stroke-linecap="round" fill="none"/>
<path d="M104.8 63.2L104.7 63.6" stroke="#b3ff4c" stroke-width="2.25" stroke-linecap="round" fill="none"/>
<path d="M104.7 63.6L104.6 64.1" stroke="#b3ff4c" stroke-width="2.50" stroke-linecap="round" fill="none"/>
<path d="M104.6 64.1L104.5 64.7M104.5 64.7L104.3 65.4" stroke="#b3ff4c" stroke-width="2.75" stroke-linecap="round" fill="none"/>
<path d="M104.3 65.4L104.2 66.2" stroke="#b3ff4c" stroke-width="3.00" stroke-linecap="round" fill="none"/>
<path d="M104.2 66.2L104.0 66.9M104.0 66.9L103.9 67.6" stroke="#b3ff4c" stroke-width="3.25" stroke-linecap="round" fill="none"/>
<path d="M103.9 67.6L103.7 68.3" stroke="#b3ff4c" stroke-width="3.50" stroke-linecap="round" fill="none"/>
<path d="M103.7 68.3L103.5 68.9" stroke="#b3ff4c" stroke-width="3.75" stroke-linecap="round" fill="none"/>
<path d="M103.5 68.9L103.4 69.6" stroke="#ccff33" stroke-width="3.75" stroke-linecap="round" fill="none"/>
<path d="M103.4 69.6L103.2 70.3M103.2 70.3L103.0 70.9" stroke="#ccff33" stroke-width="4.00" stroke-linecap="round" fill="none"/>
<path d="M103.0 70.9L102.8 71.6" stroke="#ccff33" stroke-width="4.25" stroke-linecap="round" fill="none"/>
<path d="M102.8 71.6L102.7 72.2M102.7 72.2L102.5 72.9" stroke="#ccff33" stroke-width="4.50" stroke-linecap="round" fill="none"/>
<path d="M102.5 72.9L102.4 73.5" stroke="#ccff33" stroke-width="4.75" stroke-linecap="round" fill="none"/>
<path d="M102.4 73.5L102.3 74.1M102.3 74.1L102.2 74.8" stroke="#ccff33" stroke-width="5.00" stroke-linecap="round" fill="none"/>
<path d="M102.2 74.8L102.1 75.4" stroke="#ccff33" stroke-width="5.25" stroke-linecap="round" fill="none"/>
<path d="M102.1 75.4L102.0 76.1M102.0 76.1L102.0 76.7" stroke="#e5ff1a" stroke-width="5.50" stroke-linecap="round" fill="none"/>
<path d="M102.0 76.7L101.9 77.2" stroke="#e5ff1a" stroke-width="5.75" stroke-linecap="round" fill="none"/>
<path d="M101.9 77.2L101.8 77.7M101.8 77.7L101.8 78.0" stroke="#e5ff1a" stroke-width="6.00" stroke-linecap="round" fill="none"/>
<path d="M103.0 73.0L103.0 73.5" stroke="#e5ff1a" stroke-width="5.00" stroke-linecap="round" fill="none"/>
<path d="M103.0 73.5L103.1 74.2" stroke="#e5ff1a" stroke-width="5.50" stroke-linecap="round" fill="none"/>
<path d="M103.1 74.2L103.2 75.1" stroke="#ffff00" stroke-width="5.75" stroke-linecap="round" fill="none"/>
<path d="M103.2 75.1L103.2 76.0" stroke="#ffff00" stroke-width="6.25" stroke-linecap="round" fill="none"/>
<path d="M103.2 76.0L103.3 77.0" stroke="#ffff00" stroke-width="6.75" stroke-linecap="round" fill="none"/>
<path d="M103.3 77.0L103.4 78.0" stroke="#ffff00" stroke-width="7.25" stroke-linecap="round" fill="none"/>
<path d="M103.4 78.0L103.4 79.0" stroke="#ffff00" stroke-width="7.75" stroke-linecap="round" fill="none"/>
<path d="M103.4 79.0L103.4 80.0M102.2 91.8L102.1 92.8" stroke="#ffff00" stroke-width="8.25" stroke-linecap="round" fill="none"/>
<path d="M103.4 80.0L103.4 81.0M102.4 90.9L102.2 91.8" stroke="#ffff00" stroke-width="8.50" stroke-linecap="round" fill="none"/>
<path d="M103.4 81.0L103.3 81.9M103.3 81.9L103.3 82.9M102.5 89.9L102.4 90.9" stroke="#ffff00" stroke-width="8.75" stroke-linecap="round" fill="none"/>
<path d="M103.3 82.9L103.2 84.0M103.2 84.0L103.1 85.0" stroke="#ffff00" stroke-width="9.00" stroke-linecap="round" fill="none"/>
<path d="M103.1 85.0L103.0 86.0M102.7 89.0L102.5 89.9" stroke="#ffff00" stroke-width="9.25" stroke-linecap="round" fill="none"/>
<path d="M103.0 86.0L102.9 87.0M102.9 87.0L102.8 88.0M102.8 88.0L102.7 89.0" stroke="#ffff00" stroke-width="9.50" stroke-linecap="round" fill="none"/>
<path d="M102.1 92.8L101.9 93.7" stroke="#ffff00" stroke-width="8.00" stroke-linecap="round" fill="none"/>
<path d="M101.9 93.7L101.8 94.6" stroke="#ffe500" stroke-width="7.50" stroke-linecap="round" fill="none"/>
<path d="M101.8 94.6L101.6 95.5" stroke="#ffe500" stroke-width="7.25" stroke-linecap="round" fill="none"/>
<path d="M101.6 95.5L101.4 96.4" stroke="#ffe500" stroke-width="6.75" stroke-linecap="round" fill="none"/>
<path d="M101.4 96.4L101.3 97.3" stroke="#ffe500" stroke-width="6.25" stroke-linecap="round" fill="none"/>
<path d="M101.3 97.3L101.1 98.3" stroke="#ffe500" stroke-width="5.75" stroke-linecap="round" fill="none"/>
<path d="M101.1 98.3L100.9 99.2" stroke="#ffe500" stroke-width="5.25" stroke-linecap="round" fill="none"/>
<path d="M100.9 99.2L100.7 100.1" stroke="#ffe500" stroke-width="4.75" stroke-linecap="round" fill="none"/>
<path d="M100.7 100.1L100.5 100.9" stroke="#ffcc00" stroke-width="4.25" stroke-linecap="round" fill="none"/>
<path d="M100.5 100.9L100.4 101.5" stroke="#ffcc00" stroke-width="3.75" stroke-linecap="round" fill="none"/>
<path d="M100.4 101.5L100.3 102.0" stroke="#ffcc00" stroke-width="3.00" stroke-linecap="round" fill="none"/>
<path d="M97.5 78.0L97.2 77.9M97.2 77.9L96.8 77.8M96.8 77.8L96.4 77.6M96.4 77.6L95.9 77.4M95.9 77.4L95.4 77.3M95.4 77.3L94.8 77.1M94.8 77.1L94.2 77.0M94.2 77.0L93.5 76.9M93.5 76.9L92.8 76.9M92.8 76.9L92.0 76.8" stroke="#ffb300" stroke-width="2.25" stroke-linecap="round" fill="none"/>
<path d="M92.0 76.8L91.2 76.8M91.2 76.8L90.4 76.8M90.4 76.8L89.5 76.9M89.5 76.9L88.6 77.0M88.6 77.0L87.7 77.1M87.7 77.1L86.9 77.3" stroke="#ffb300" stroke-width="2.50" stroke-linecap="round" fill="none"/>
<path d="M86.9 77.3L86.1 77.6M86.1 77.6L85.2 77.9" stroke="#ffb300" stroke-width="2.75" stroke-linecap="round" fill="none"/>
<path d="M85.2 77.9L84.3 78.3M84.3 78.3L83.4 78.7" stroke="#ff9900" stroke-width="2.75" stroke-linecap="round" fill="none"/>
<path d="M83.4 78.7L82.5 79.2M82.5 79.2L81.7 79.6M81.7 79.6L80.9 80.1M80.9 80.1L80.2 80.6M80.2 80.6L79.5 81.1" stroke="#ff9900" stroke-width="3.00" stroke-linecap="round" fill="none"/>
<path d="M79.5 81.1L78.9 81.6M78.9 81.6L78.3 82.1M78.3 82.1L77.7 82.7M77.7 82.7L77.2 83.2M77.2 83.2L76.7 83.8M76.7 83.8L76.2 84.4" stroke="#ff9900" stroke-width="3.25" stroke-linecap="round" fill="none"/>
<path d="M76.2 84.4L75.8 85.0M75.8 85.0L75.4 85.6M75.4 85.6L75.1 86.3M75.1 86.3L74.8 86.9M74.8 86.9L74.5 87.6M74.5 87.6L74.3 88.3M74.3 88.3L74.1 89.0M74.1 89.0L74.0 89.7M74.0 89.7L74.0 90.3M74.0 90.3L74.0 91.0" stroke="#ff8000" stroke-width="3.25" stroke-linecap="round" fill="none"/>
<path d="M74.0 91.0L74.1 91.6M74.1 91.6L74.3 92.3M74.3 92.3L74.5 93.0M74.5 93.0L74.8 93.6M74.8 93.6L75.1 94.2" stroke="#ff6600" stroke-width="3.25" stroke-linecap="round" fill="none"/>
<path d="M75.1 94.2L75.4 94.7M75.4 94.7L75.8 95.2M75.8 95.2L76.2 95.6M76.2 95.6L76.6 96.0M76.6 96.0L77.1 96.3" stroke="#ff6600" stroke-width="3.50" stroke-linecap="round" fill="none"/>
<path d="M77.1 96.3L77.7 96.5M77.7 96.5L78.2 96.7M78.2 96.7L78.7 96.9M78.7 96.9L79.3 96.9M79.3 96.9L79.8 96.9M79.8 96.9L80.3 96.8M80.3 96.8L80.8 96.5M80.8 96.5L81.3 96.2M81.3 96.2L81.9 95.8M81.9 95.8L82.4 95.4M82.4 95.4L82.9 94.9M82.9 94.9L83.4 94.5M83.4 94.5L83.8 94.1M83.8 94.1L84.2 93.7M84.2 93.7L84.6 93.2" stroke="#ff4c00" stroke-width="3.50" stroke-linecap="round" fill="none"/>
<path d="M84.6 93.2L84.9 92.7M84.9 92.7L85.3 92.2M85.3 92.2L85.6 91.7" stroke="#ff3300" stroke-width="3.50" stroke-linecap="round" fill="none"/>
<path d="M85.6 91.7L85.9 91.3M85.9 91.3L86.3 90.9M86.3 90.9L86.7 90.7M86.7 90.7L87.1 90.6M87.1 90.6L87.6 90.5M87.6 90.5L88.1 90.5M88.1 90.5L88.6 90.6M88.6 90.6L89.2 90.7M89.2 90.7L89.7 90.8M89.7 90.8L90.2 91.0M90.2 91.0L90.7 91.2M90.7 91.2L91.2 91.4M91.2 91.4L91.7 91.7M91.7 91.7L92.2 92.0M92.2 92.0L92.7 92.4M92.7 92.4L93.2 92.7M93.2 92.7L93.7 93.2" stroke="#ff3300" stroke-width="3.25" stroke-linecap="round" fill="none"/>
<path d="M93.7 93.2L94.2 93.6M94.2 93.6L94.6 94.1M94.6 94.1L95.0 94.6M95.0 94.6L95.4 95.2M95.4 95.2L95.8 95.9M95.8 95.9L96.2 96.6M96.2 96.6L96.6 97.2" stroke="#ff1a00" stroke-width="3.25" stroke-linecap="round" fill="none"/>
<path d="M96.6 97.2L96.9 97.9M96.9 97.9L97.2 98.6M97.2 98.6L97.5 99.2M97.5 99.2L97.7 99.8M97.7 99.8L97.9 100.4M97.9 100.4L98.1 101.1" stroke="#ff1a00" stroke-width="3.00" stroke-linecap="round" fill="none"/>
<path d="M98.1 101.1L98.2 101.7M98.2 101.7L98.3 102.2M98.3 102.2L98.4 102.7M98.4 102.7L98.5 103.2" stroke="#ff1a00" stroke-width="2.75" stroke-linecap="round" fill="none"/>
<path d="M98.5 103.2L98.6 103.5" stroke="#ff1a00" stroke-width="2.50" stroke-linecap="round" fill="none"/>
<path d="M100.7 100.9L100.4 101.2M100.4 101.2L100.1 101.6M100.1 101.6L99.6 102.1" stroke="#ff8000" stroke-width="2.50" stroke-linecap="round" fill="none"/>
<path d="M99.6 102.1L99.2 102.7M99.2 102.7L98.7 103.3M98.7 103.3L98.2 103.9M98.2 103.9L97.7 104.5" stroke="#ff6600" stroke-width="2.50" stroke-linecap="round" fill="none"/>
<path d="M97.7 104.5L97.3 105.1M97.3 105.1L96.9 105.7M96.9 105.7L96.6 106.3M96.6 106.3L96.2 107.0M96.2 107.0L95.9 107.6M95.9 107.6L95.6 108.3M95.6 108.3L95.3 109.0" stroke="#ff4c00" stroke-width="2.50" stroke-linecap="round" fill="none"/>
<path d="M95.3 109.0L95.0 109.6M95.0 109.6L94.7 110.3M94.7 110.3L94.4 110.9" stroke="#ff3300" stroke-width="2.50" stroke-linecap="round" fill="none"/>
<path d="M94.4 110.9L94.2 111.6M94.2 111.6L93.9 112.3M93.9 112.3L93.7 112.9M93.7 112.9L93.5 113.6" stroke="#ff3300" stroke-width="2.75" stroke-linecap="round" fill="none"/>
<path d="M93.5 113.6L93.3 114.2M93.3 114.2L93.2 114.8M93.2 114.8L93.2 115.4M93.2 115.4L93.2 116.0M93.2 116.0L93.3 116.5M93.3 116.5L93.5 117.1M93.5 117.1L93.7 117.6M93.7 117.6L93.9 118.2" stroke="#ff1a00" stroke-width="2.75" stroke-linecap="round" fill="none"/>
<path d="M93.9 118.2L94.2 118.7M94.2 118.7L94.4 119.2M94.4 119.2L94.6 119.7M94.6 119.7L94.8 120.2M94.8 120.2L95.1 120.7M95.1 120.7L95.4 121.3M95.4 121.3L95.6 121.8M95.6 121.8L95.9 122.3M95.9 122.3L96.1 122.7M96.1 122.7L96.3 123.2M96.3 123.2L96.4 123.6M96.4 123.6L96.4 124.0" stroke="#ff0000" stroke-width="2.75" stroke-linecap="round" fill="none"/>
<path d="M96.4 124.0L96.3 124.4M96.3 124.4L96.2 124.7M96.2 124.7L96.1 125.0" stroke="#ff0000" stroke-width="2.50" stroke-linecap="round" fill="none"/>
<path d="M96.1 125.0L95.9 125.3M95.9 125.3L95.7 125.6" stroke="#ff0000" stroke-width="2.25" stroke-linecap="round" fill="none"/>
<path d="M95.7 125.6L95.6 125.8" stroke="#e50000" stroke-width="2.25" stroke-linecap="round" fill="none"/>
<path d="M95.6 125.8L95.5 126.0" stroke="#e50000" stroke-width="2.00" stroke-linecap="round" fill="none"/>
<path d="M93.2 115.8L92.9 115.8M92.9 115.8L92.6 115.7M92.6 115.7L92.1 115.7" stroke="#ff0000" stroke-width="3.00" stroke-linecap="round" fill="none"/>
<path d="M92.1 115.7L91.6 115.6M91.6 115.6L91.1 115.6M91.1 115.6L90.6 115.6" stroke="#ff0000" stroke-width="3.25" stroke-linecap="round" fill="none"/>
<path d="M90.6 115.6L90.1 115.6M90.1 115.6L89.6 115.6M89.6 115.6L89.1 115.7M89.1 115.7L88.6 115.8" stroke="#e50000" stroke-width="3.25" stroke-linecap="round" fill="none"/>
<path d="M88.6 115.8L88.1 115.9M88.1 115.9L87.5 116.0M87.5 116.0L87.0 116.2M87.0 116.2L86.6 116.4M86.6 116.4L86.1 116.6M86.1 116.6L85.8 116.8M85.8 116.8L85.5 117.1" stroke="#e50000" stroke-width="3.50" stroke-linecap="round" fill="none"/>
<path d="M85.5 117.1L85.3 117.3M85.3 117.3L85.1 117.6M85.1 117.6L84.9 118.0M84.9 118.0L84.8 118.3M84.8 118.3L84.8 118.7M84.8 118.7L84.8 119.0M84.8 119.0L84.9 119.4M84.9 119.4L85.1 119.8M85.1 119.8L85.3 120.2M85.3 120.2L85.6 120.5" stroke="#e50000" stroke-width="3.75" stroke-linecap="round" fill="none"/>
<path d="M85.6 120.5L86.0 121.0M86.0 121.0L86.4 121.4M86.4 121.4L86.8 121.8M86.8 121.8L87.2 122.2M87.2 122.2L87.6 122.6M87.6 122.6L88.0 123.0M88.0 123.0L88.5 123.4M88.5 123.4L89.0 123.8M89.0 123.8L89.5 124.2M89.5 124.2L90.0 124.7" stroke="#e50000" stroke-width="4.00" stroke-linecap="round" fill="none"/>
<path d="M90.0 124.7L90.5 125.1M90.5 125.1L90.9 125.5M90.9 125.5L91.3 126.0M91.3 126.0L91.6 126.5M91.6 126.5L91.9 127.0" stroke="#e50000" stroke-width="4.25" stroke-linecap="round" fill="none"/>
<path d="M91.9 127.0L92.1 127.4M92.1 127.4L92.4 127.9M92.4 127.9L92.6 128.5M92.6 128.5L92.7 129.0M93.1 130.5L93.1 131.1M93.1 131.1L93.0 131.6M93.0 131.6L92.9 132.2M92.9 132.2L92.9 132.7M92.9 132.7L92.9 133.3M92.9 133.3L93.0 133.8" stroke="#cc0000" stroke-width="4.25" stroke-linecap="round" fill="none"/>
<path d="M92.7 129.0L92.9 129.5M92.9 129.5L93.0 130.0M93.0 130.0L93.1 130.5" stroke="#cc0000" stroke-width="4.00" stroke-linecap="round" fill="none"/>
<path d="M93.0 133.8L93.2 134.2M93.2 134.2L93.5 134.6M93.5 134.6L93.9 134.9M93.9 134.9L94.4 135.3M94.4 135.3L94.9 135.5M94.9 135.5L95.5 135.8M95.5 135.8L96.1 136.1M96.1 136.1L96.7 136.4M96.7 136.4L97.3 136.8M97.3 136.8L98.0 137.2M98.0 137.2L98.7 137.6M98.7 137.6L99.6 138.0M99.6 138.0L100.4 138.4M100.4 138.4L101.2 138.9M101.2 138.9L102.0 139.3" stroke="#cc0000" stroke-width="4.50" stroke-linecap="round" fill="none"/>
<path d="M102.0 139.3L102.7 139.8M102.7 139.8L103.3 140.2M103.3 140.2L103.8 140.6M103.8 140.6L104.3 141.1M104.3 141.1L104.8 141.5M104.8 141.5L105.1 142.0M105.1 142.0L105.4 142.5M105.4 142.5L105.7 142.9M105.7 142.9L105.8 143.3M105.8 143.3L105.8 143.7M105.8 143.7L105.7 144.1M105.7 144.1L105.4 144.5M105.4 144.5L105.1 144.9M105.1 144.9L104.6 145.2M104.6 145.2L104.1 145.5M104.1 145.5L103.6 145.8M103.6 145.8L103.0 146.1M103.0 146.1L102.4 146.2M102.4 146.2L101.8 146.2" stroke="#b30000" stroke-width="4.50" stroke-linecap="round" fill="none"/>
<path d="M101.8 146.2L101.1 146.2M101.1 146.2L100.3 146.1M100.3 146.1L99.5 145.9M99.5 145.9L98.7 145.7M98.7 145.7L97.9 145.5M97.9 145.5L97.1 145.4M97.1 145.4L96.4 145.4M96.4 145.4L95.7 145.4" stroke="#b30000" stroke-width="4.75" stroke-linecap="round" fill="none"/>
<path d="M95.7 145.4L95.0 145.5M95.0 145.5L94.3 145.6M94.3 145.6L93.6 145.8M93.6 145.8L92.9 145.9M92.9 145.9L92.3 146.1M92.3 146.1L91.8 146.4" stroke="#b30000" stroke-width="5.00" stroke-linecap="round" fill="none"/>
<path d="M91.8 146.4L91.3 146.6M91.3 146.6L90.9 146.9M90.9 146.9L90.5 147.2" stroke="#b30000" stroke-width="5.25" stroke-linecap="round" fill="none"/>
<path d="M90.5 147.2L90.2 147.6" stroke="#990000" stroke-width="5.25" stroke-linecap="round" fill="none"/>
<path d="M90.2 147.6L90.0 148.0M90.0 148.0L89.8 148.4M89.8 148.4L89.6 148.8M89.6 148.8L89.6 149.2" stroke="#990000" stroke-width="5.50" stroke-linecap="round" fill="none"/>
<path d="M89.6 149.2L89.6 149.6M89.6 149.6L89.7 150.0M89.7 150.0L89.9 150.4M89.9 150.4L90.1 150.8" stroke="#990000" stroke-width="5.75" stroke-linecap="round" fill="none"/>
<path d="M90.1 150.8L90.4 151.1M90.4 151.1L90.8 151.5M90.8 151.5L91.2 151.9M91.2 151.9L91.7 152.3M91.7 152.3L92.3 152.6M92.3 152.6L93.0 153.0M104.3 151.9L105.0 151.4M105.0 151.4L105.7 150.9M105.7 150.9L106.3 150.4M106.3 150.4L107.0 149.9M107.0 149.9L107.6 149.3M107.6 149.3L108.2 148.8M108.2 148.8L108.8 148.4" stroke="#990000" stroke-width="6.00" stroke-linecap="round" fill="none"/>
<path d="M93.0 153.0L93.7 153.3M93.7 153.3L94.6 153.7M94.6 153.7L95.4 154.1M95.4 154.1L96.4 154.4M96.4 154.4L97.3 154.7M97.3 154.7L98.2 154.8M98.2 154.8L99.0 154.8M99.0 154.8L99.8 154.6M99.8 154.6L100.6 154.3M100.6 154.3L101.3 153.9M101.3 153.9L102.1 153.5M102.1 153.5L102.8 152.9M102.8 152.9L103.6 152.4M103.6 152.4L104.3 151.9" stroke="#990000" stroke-width="6.25" stroke-linecap="round" fill="none"/>
<path d="M108.8 148.4L109.5 148.1M109.5 148.1L110.1 147.9M110.1 147.9L110.8 147.9" stroke="#800000" stroke-width="6.00" stroke-linecap="round" fill="none"/>
<path d="M110.8 147.9L111.4 148.0M111.4 148.0L112.1 148.1M112.1 148.1L112.8 148.4M112.8 148.4L113.5 148.7M113.5 148.7L114.1 149.1M114.1 149.1L114.7 149.4" stroke="#800000" stroke-width="5.75" stroke-linecap="round" fill="none"/>
<path d="M114.7 149.4L115.2 149.7M115.2 149.7L115.7 150.0M115.7 150.0L116.1 150.4" stroke="#800000" stroke-width="5.50" stroke-linecap="round" fill="none"/>
<path d="M116.1 150.4L116.5 150.8M116.5 150.8L116.8 151.2" stroke="#800000" stroke-width="5.25" stroke-linecap="round" fill="none"/>
<path d="M116.8 151.2L117.1 151.5M117.1 151.5L117.4 151.9" stroke="#800000" stroke-width="5.00" stroke-linecap="round" fill="none"/>
<path d="M117.4 151.9L117.6 152.2M117.6 152.2L117.8 152.4" stroke="#800000" stroke-width="4.75" stroke-linecap="round" fill="none"/>
<path d="M90.5 145.8L90.2 145.5" stroke="#b30000" stroke-width="3.25" stroke-linecap="round" fill="none"/>
<path d="M90.2 145.5L89.8 145.0" stroke="#b30000" stroke-width="3.00" stroke-linecap="round" fill="none"/>
<path d="M89.8 145.0L89.4 144.5M89.4 144.5L88.9 144.0M88.9 144.0L88.4 143.4" stroke="#cc0000" stroke-width="3.00" stroke-linecap="round" fill="none"/>
<path d="M88.4 143.4L87.9 142.8M87.9 142.8L87.4 142.3M87.4 142.3L87.0 141.9M87.0 141.9L86.6 141.6M86.6 141.6L86.3 141.2" stroke="#cc0000" stroke-width="2.75" stroke-linecap="round" fill="none"/>
<path d="M86.3 141.2L86.0 140.9M86.0 140.9L85.7 140.7M85.7 140.7L85.4 140.4M85.4 140.4L85.1 140.3M85.1 140.3L84.8 140.2M84.8 140.2L84.4 140.2M84.4 140.2L84.0 140.3M84.0 140.3L83.6 140.5" stroke="#cc0000" stroke-width="2.50" stroke-linecap="round" fill="none"/>
<path d="M83.6 140.5L83.2 140.8M83.2 140.8L82.8 141.1M82.8 141.1L82.3 141.5M82.3 141.5L81.9 141.9M81.9 141.9L81.4 142.3M81.4 142.3L81.0 142.7M81.0 142.7L80.6 143.1M80.6 143.1L80.2 143.6M80.2 143.6L79.8 144.1M79.8 144.1L79.4 144.7M79.4 144.7L78.9 145.2M78.9 145.2L78.5 145.6M78.5 145.6L78.1 146.0M78.1 146.0L77.6 146.2M77.6 146.2L77.1 146.3M77.1 146.3L76.6 146.4M76.6 146.4L76.1 146.3M76.1 146.3L75.6 146.2M75.6 146.2L75.0 146.1M75.0 146.1L74.5 145.9M74.5 145.9L73.9 145.6M73.9 145.6L73.3 145.3M73.3 145.3L72.7 144.9M72.7 144.9L72.1 144.4M72.1 144.4L71.4 143.8M71.4 143.8L70.8 143.2M70.8 143.2L70.1 142.6M70.1 142.6L69.5 142.0M69.5 142.0L68.8 141.5M68.8 141.5L68.2 141.0M68.2 141.0L67.6 140.6M67.6 140.6L66.9 140.3M66.9 140.3L66.3 139.9M66.3 139.9L65.7 139.7M65.7 139.7L65.0 139.4M65.0 139.4L64.4 139.2M64.4 139.2L63.7 139.1M63.7 139.1L63.1 139.0M63.1 139.0L62.5 139.0M62.5 139.0L61.8 139.0M61.8 139.0L61.2 139.1M61.2 139.1L60.5 139.3M60.5 139.3L59.8 139.4M59.8 139.4L59.2 139.7M59.2 139.7L58.5 139.9" stroke="#cc0000" stroke-width="2.25" stroke-linecap="round" fill="none"/>
<path d="M58.5 139.9L57.9 140.2M57.9 140.2L57.3 140.5M57.3 140.5L56.6 140.9M56.6 140.9L56.0 141.3M56.0 141.3L55.3 141.8M55.3 141.8L54.7 142.2M54.7 142.2L54.1 142.7M54.1 142.7L53.4 143.2M53.4 143.2L52.8 143.6M52.8 143.6L52.1 144.0" stroke="#cc0000" stroke-width="2.00" stroke-linecap="round" fill="none"/>
<path d="M52.1 144.0L51.5 144.5M51.5 144.5L50.8 144.9M50.8 144.9L50.1 145.4M50.1 145.4L49.5 145.8" stroke="#cc0000" stroke-width="1.75" stroke-linecap="round" fill="none"/>
<path d="M49.5 145.8L48.8 146.3M48.8 146.3L48.2 146.7M48.2 146.7L47.7 147.0M47.7 147.0L47.2 147.3M47.2 147.3L46.7 147.6" stroke="#cc0000" stroke-width="1.50" stroke-linecap="round" fill="none"/>
<path d="M46.7 147.6L46.3 147.9M46.3 147.9L45.8 148.1M45.8 148.1L45.4 148.3M45.4 148.3L45.1 148.5" stroke="#cc0000" stroke-width="1.25" stroke-linecap="round" fill="none"/>
<path d="M45.1 148.5L44.8 148.7M44.8 148.7L44.6 148.8" stroke="#cc0000" stroke-width="1.00" stroke-linecap="round" fill="none"/>
<path d="M131.5 42.0L131.3 42.3" stroke="#001aff" stroke-width="0.50" stroke-linecap="round" fill="none"/>
<path d="M131.3 42.3L131.1 42.7M131.1 42.7L130.8 43.2M130.8 43.2L130.4 43.8" stroke="#001aff" stroke-width="0.75" stroke-linecap="round" fill="none"/>
<path d="M130.4 43.8L130.1 44.4" stroke="#001aff" stroke-width="1.00" stroke-linecap="round" fill="none"/>
<path d="M130.1 44.4L129.7 44.9M129.7 44.9L129.3 45.4" stroke="#0033ff" stroke-width="1.00" stroke-linecap="round" fill="none"/>
<path d="M129.3 45.4L129.0 45.9M129.0 45.9L128.7 46.3" stroke="#0033ff" stroke-width="1.25" stroke-linecap="round" fill="none"/>
<path d="M128.7 46.3L128.4 46.6M128.4 46.6L128.0 46.9M128.0 46.9L127.7 47.2" stroke="#004cff" stroke-width="1.50" stroke-linecap="round" fill="none"/>
<path d="M127.7 47.2L127.4 47.5" stroke="#004cff" stroke-width="1.75" stroke-linecap="round" fill="none"/>
<path d="M127.4 47.5L127.1 47.8M127.1 47.8L126.7 48.2" stroke="#0066ff" stroke-width="1.75" stroke-linecap="round" fill="none"/>
<path d="M126.7 48.2L126.4 48.5M126.4 48.5L126.1 48.9" stroke="#0066ff" stroke-width="2.00" stroke-linecap="round" fill="none"/>
<path d="M126.1 48.9L125.8 49.3" stroke="#0080ff" stroke-width="2.00" stroke-linecap="round" fill="none"/>
<path d="M125.8 49.3L125.5 49.7M125.5 49.7L125.1 50.1" stroke="#0080ff" stroke-width="2.25" stroke-linecap="round" fill="none"/>
<path d="M125.1 50.1L124.8 50.5M124.8 50.5L124.5 50.9" stroke="#0099ff" stroke-width="2.25" stroke-linecap="round" fill="none"/>
<path d="M124.5 50.9L124.2 51.3M124.2 51.3L123.8 51.7" stroke="#0099ff" stroke-width="2.50" stroke-linecap="round" fill="none"/>
<path d="M123.8 51.7L123.4 52.1M123.4 52.1L123.0 52.4" stroke="#00b3ff" stroke-width="2.50" stroke-linecap="round" fill="none"/>
<path d="M123.0 52.4L122.6 52.7M122.6 52.7L122.2 53.0" stroke="#00b3ff" stroke-width="2.75" stroke-linecap="round" fill="none"/>
<path d="M122.2 53.0L121.8 53.3M121.8 53.3L121.4 53.6" stroke="#00ccff" stroke-width="2.75" stroke-linecap="round" fill="none"/>
<path d="M121.4 53.6L121.0 53.9M121.0 53.9L120.6 54.2" stroke="#00ccff" stroke-width="3.00" stroke-linecap="round" fill="none"/>
<path d="M120.6 54.2L120.2 54.5M120.2 54.5L119.9 54.7M119.9 54.7L119.6 54.9M119.6 54.9L119.3 55.1M119.3 55.1L119.0 55.3M119.0 55.3L118.7 55.5M118.7 55.5L118.4 55.7M118.1 56.0L117.8 56.3" stroke="#00e5ff" stroke-width="3.00" stroke-linecap="round" fill="none"/>
<path d="M118.4 55.7L118.1 56.0" stroke="#00e5ff" stroke-width="2.75" stroke-linecap="round" fill="none"/>
<path d="M117.8 56.3L117.6 56.6M117.6 56.6L117.3 56.9M117.3 56.9L117.1 57.3" stroke="#00ffff" stroke-width="3.00" stroke-linecap="round" fill="none"/>
<path d="M117.1 57.3L116.9 57.6M116.9 57.6L116.7 58.0M116.7 58.0L116.4 58.3" stroke="#00ffff" stroke-width="3.25" stroke-linecap="round" fill="none"/>
<path d="M116.4 58.3L116.2 58.7M116.2 58.7L116.0 59.1M116.0 59.1L115.7 59.5" stroke="#00ffff" stroke-width="3.50" stroke-linecap="round" fill="none"/>
<path d="M115.7 59.5L115.5 59.9" stroke="#1affe5" stroke-width="3.50" stroke-linecap="round" fill="none"/>
<path d="M115.5 59.9L115.2 60.3M115.2 60.3L115.0 60.7M115.0 60.7L114.7 61.1M114.7 61.1L114.5 61.5M114.5 61.5L114.2 61.9" stroke="#1affe5" stroke-width="3.25" stroke-linecap="round" fill="none"/>
<path d="M114.2 61.9L113.9 62.3M113.9 62.3L113.6 62.7M113.6 62.7L113.3 63.1M113.3 63.1L113.0 63.6M113.0 63.6L112.7 64.0" stroke="#33ffcc" stroke-width="3.25" stroke-linecap="round" fill="none"/>
<path d="M112.7 64.0L112.3 64.4M112.3 64.4L112.0 64.8M112.0 64.8L111.7 65.1M111.7 65.1L111.4 65.4M111.4 65.4L111.1 65.8" stroke="#4cffb3" stroke-width="3.25" stroke-linecap="round" fill="none"/>
<path d="M111.1 65.8L110.7 66.1M110.7 66.1L110.4 66.4M110.4 66.4L110.1 66.7M110.1 66.7L109.8 66.9" stroke="#66ff99" stroke-width="3.00" stroke-linecap="round" fill="none"/>
<path d="M109.8 66.9L109.4 67.1M109.4 67.1L109.1 67.2M109.1 67.2L108.8 67.2" stroke="#80ff80" stroke-width="2.75" stroke-linecap="round" fill="none"/>
<path d="M108.8 67.2L108.4 67.1M108.4 67.1L108.1 67.0" stroke="#80ff80" stroke-width="2.50" stroke-linecap="round" fill="none"/>
<path d="M108.1 67.0L107.7 66.8" stroke="#99ff66" stroke-width="2.50" stroke-linecap="round" fill="none"/>
<path d="M107.7 66.8L107.4 66.6M107.4 66.6L107.1 66.3" stroke="#99ff66" stroke-width="2.25" stroke-linecap="round" fill="none"/>
<path d="M107.1 66.3L106.8 66.1" stroke="#99ff66" stroke-width="2.00" stroke-linecap="round" fill="none"/>
<path d="M106.8 66.1L106.5 65.8M106.5 65.8L106.2 65.5" stroke="#b3ff4c" stroke-width="2.00" stroke-linecap="round" fill="none"/>
<path d="M106.2 65.5L106.0 65.2M106.0 65.2L105.7 64.8M105.7 64.8L105.5 64.4M105.5 64.4L105.3 64.0" stroke="#b3ff4c" stroke-width="1.75" stroke-linecap="round" fill="none"/>
<path d="M105.3 64.0L105.1 63.7" stroke="#b3ff4c" stroke-width="1.50" stroke-linecap="round" fill="none"/>
<path d="M105.1 63.7L104.9 63.4M104.9 63.4L104.8 63.2" stroke="#ccff33" stroke-width="1.50" stroke-linecap="round" fill="none"/>
<path d="M97.5 78.0L97.2 77.9M97.2 77.9L96.8 77.8" stroke="#ffb300" stroke-width="1.25" stroke-linecap="round" fill="none"/>
<path d="M96.8 77.8L96.4 77.6M96.4 77.6L95.9 77.4M95.9 77.4L95.4 77.3M95.4 77.3L94.8 77.1M94.8 77.1L94.2 77.0" stroke="#ff9900" stroke-width="1.25" stroke-linecap="round" fill="none"/>
<path d="M94.2 77.0L93.5 76.9M93.5 76.9L92.8 76.9M92.8 76.9L92.0 76.8M92.0 76.8L91.2 76.8M91.2 76.8L90.4 76.8M90.4 76.8L89.5 76.9M89.5 76.9L88.6 77.0M88.6 77.0L87.7 77.1M87.7 77.1L86.9 77.3M86.9 77.3L86.1 77.6M86.1 77.6L85.2 77.9" stroke="#ff9900" stroke-width="1.50" stroke-linecap="round" fill="none"/>
<path d="M85.2 77.9L84.3 78.3M84.3 78.3L83.4 78.7M83.4 78.7L82.5 79.2M82.5 79.2L81.7 79.6" stroke="#ff9900" stroke-width="1.75" stroke-linecap="round" fill="none"/>
<path d="M81.7 79.6L80.9 80.1M80.9 80.1L80.2 80.6M80.2 80.6L79.5 81.1" stroke="#ff8000" stroke-width="1.75" stroke-linecap="round" fill="none"/>
<path d="M79.5 81.1L78.9 81.6M78.9 81.6L78.3 82.1M78.3 82.1L77.7 82.7M77.7 82.7L77.2 83.2M77.2 83.2L76.7 83.8M76.7 83.8L76.2 84.4M76.2 84.4L75.8 85.0M75.8 85.0L75.4 85.6" stroke="#ff8000" stroke-width="2.00" stroke-linecap="round" fill="none"/>
<path d="M75.4 85.6L75.1 86.3M75.1 86.3L74.8 86.9M74.8 86.9L74.5 87.6M74.5 87.6L74.3 88.3M74.3 88.3L74.1 89.0M74.1 89.0L74.0 89.7M74.0 89.7L74.0 90.3M74.0 90.3L74.0 91.0M74.0 91.0L74.1 91.6M74.1 91.6L74.3 92.3" stroke="#ff6600" stroke-width="2.00" stroke-linecap="round" fill="none"/>
<path d="M74.3 92.3L74.5 93.0M74.5 93.0L74.8 93.6M74.8 93.6L75.1 94.2M75.1 94.2L75.4 94.7M75.4 94.7L75.8 95.2M75.8 95.2L76.2 95.6M76.2 95.6L76.6 96.0M76.6 96.0L77.1 96.3M77.1 96.3L77.7 96.5M77.7 96.5L78.2 96.7" stroke="#ff4c00" stroke-width="2.00" stroke-linecap="round" fill="none"/>
<path d="M78.2 96.7L78.7 96.9M78.7 96.9L79.3 96.9M79.3 96.9L79.8 96.9M79.8 96.9L80.3 96.8M80.3 96.8L80.8 96.5M80.8 96.5L81.3 96.2M81.3 96.2L81.9 95.8M81.9 95.8L82.4 95.4M82.4 95.4L82.9 94.9M82.9 94.9L83.4 94.5M83.4 94.5L83.8 94.1M83.8 94.1L84.2 93.7M84.2 93.7L84.6 93.2M84.6 93.2L84.9 92.7M84.9 92.7L85.3 92.2M85.3 92.2L85.6 91.7M85.6 91.7L85.9 91.3" stroke="#ff3300" stroke-width="2.00" stroke-linecap="round" fill="none"/>
<path d="M85.9 91.3L86.3 90.9M86.3 90.9L86.7 90.7M86.7 90.7L87.1 90.6M87.1 90.6L87.6 90.5M87.6 90.5L88.1 90.5M88.1 90.5L88.6 90.6M88.6 90.6L89.2 90.7M89.2 90.7L89.7 90.8M89.7 90.8L90.2 91.0M90.2 91.0L90.7 91.2M90.7 91.2L91.2 91.4M91.2 91.4L91.7 91.7M91.7 91.7L92.2 92.0M92.2 92.0L92.7 92.4M92.7 92.4L93.2 92.7M93.2 92.7L93.7 93.2M93.7 93.2L94.2 93.6M94.2 93.6L94.6 94.1M94.6 94.1L95.0 94.6M95.0 94.6L95.4 95.2" stroke="#ff1a00" stroke-width="2.00" stroke-linecap="round" fill="none"/>
<path d="M95.4 95.2L95.8 95.9M95.8 95.9L96.2 96.6M96.2 96.6L96.6 97.2" stroke="#ff0000" stroke-width="2.00" stroke-linecap="round" fill="none"/>
<path d="M96.6 97.2L96.9 97.9M96.9 97.9L97.2 98.6M97.2 98.6L97.5 99.2M97.5 99.2L97.7 99.8M97.7 99.8L97.9 100.4M97.9 100.4L98.1 101.1M98.1 101.1L98.2 101.7M98.2 101.7L98.3 102.2M98.3 102.2L98.4 102.7" stroke="#ff0000" stroke-width="1.75" stroke-linecap="round" fill="none"/>
<path d="M98.4 102.7L98.5 103.2M98.5 103.2L98.6 103.5" stroke="#ff0000" stroke-width="1.50" stroke-linecap="round" fill="none"/>
<path d="M93.2 115.8L92.9 115.8M92.9 115.8L92.6 115.7M92.6 115.7L92.1 115.7" stroke="#ff0000" stroke-width="1.75" stroke-linecap="round" fill="none"/>
<path d="M92.1 115.7L91.6 115.6M91.6 115.6L91.1 115.6M91.1 115.6L90.6 115.6" stroke="#ff0000" stroke-width="2.00" stroke-linecap="round" fill="none"/>
<path d="M90.6 115.6L90.1 115.6M90.1 115.6L89.6 115.6M89.6 115.6L89.1 115.7M89.1 115.7L88.6 115.8M88.6 115.8L88.1 115.9M88.1 115.9L87.5 116.0M87.5 116.0L87.0 116.2M87.0 116.2L86.6 116.4" stroke="#e50000" stroke-width="2.00" stroke-linecap="round" fill="none"/>
<path d="M86.6 116.4L86.1 116.6M86.1 116.6L85.8 116.8M85.8 116.8L85.5 117.1M85.5 117.1L85.3 117.3M85.3 117.3L85.1 117.6M85.1 117.6L84.9 118.0M84.9 118.0L84.8 118.3M84.8 118.3L84.8 118.7M84.8 118.7L84.8 119.0M84.8 119.0L84.9 119.4M84.9 119.4L85.1 119.8M85.1 119.8L85.3 120.2M85.3 120.2L85.6 120.5M85.6 120.5L86.0 121.0M86.0 121.0L86.4 121.4M86.4 121.4L86.8 121.8" stroke="#e50000" stroke-width="2.25" stroke-linecap="round" fill="none"/>
<path d="M86.8 121.8L87.2 122.2M87.2 122.2L87.6 122.6M87.6 122.6L88.0 123.0M88.0 123.0L88.5 123.4M88.5 123.4L89.0 123.8M89.0 123.8L89.5 124.2M89.5 124.2L90.0 124.7M90.0 124.7L90.5 125.1M90.5 125.1L90.9 125.5M90.9 125.5L91.3 126.0M91.3 126.0L91.6 126.5M91.6 126.5L91.9 127.0" stroke="#e50000" stroke-width="2.50" stroke-linecap="round" fill="none"/>
<path d="M91.9 127.0L92.1 127.4M92.1 127.4L92.4 127.9M92.4 127.9L92.6 128.5M92.6 128.5L92.7 129.0M92.7 129.0L92.9 129.5M92.9 129.5L93.0 130.0M93.0 130.0L93.1 130.5M93.1 130.5L93.1 131.1M93.1 131.1L93.0 131.6M93.0 131.6L92.9 132.2M92.9 132.2L92.9 132.7M92.9 132.7L92.9 133.3M92.9 133.3L93.0 133.8" stroke="#cc0000" stroke-width="2.50" stroke-linecap="round" fill="none"/>
<path d="M93.0 133.8L93.2 134.2M93.2 134.2L93.5 134.6M93.5 134.6L93.9 134.9M93.9 134.9L94.4 135.3M94.4 135.3L94.9 135.5M94.9 135.5L95.5 135.8M95.5 135.8L96.1 136.1M96.1 136.1L96.7 136.4M96.7 136.4L97.3 136.8M97.3 136.8L98.0 137.2M98.0 137.2L98.7 137.6M98.7 137.6L99.6 138.0M99.6 138.0L100.4 138.4M100.4 138.4L101.2 138.9M101.2 138.9L102.0 139.3" stroke="#cc0000" stroke-width="2.75" stroke-linecap="round" fill="none"/>
<path d="M102.0 139.3L102.7 139.8M102.7 139.8L103.3 140.2M103.3 140.2L103.8 140.6M103.8 140.6L104.3 141.1M104.3 141.1L104.8 141.5M104.8 141.5L105.1 142.0M105.1 142.0L105.4 142.5M105.4 142.5L105.7 142.9M105.7 142.9L105.8 143.3M105.8 143.3L105.8 143.7M105.8 143.7L105.7 144.1M105.7 144.1L105.4 144.5M105.4 144.5L105.1 144.9M105.1 144.9L104.6 145.2M104.6 145.2L104.1 145.5M104.1 145.5L103.6 145.8M103.6 145.8L103.0 146.1M103.0 146.1L102.4 146.2M102.4 146.2L101.8 146.2M101.8 146.2L101.1 146.2M101.1 146.2L100.3 146.1M100.3 146.1L99.5 145.9M99.5 145.9L98.7 145.7M98.7 145.7L97.9 145.5M97.9 145.5L97.1 145.4M97.1 145.4L96.4 145.4" stroke="#b30000" stroke-width="2.75" stroke-linecap="round" fill="none"/>
<path d="M96.4 145.4L95.7 145.4M95.7 145.4L95.0 145.5M95.0 145.5L94.3 145.6M94.3 145.6L93.6 145.8M93.6 145.8L92.9 145.9M92.9 145.9L92.3 146.1M92.3 146.1L91.8 146.4M91.8 146.4L91.3 146.6" stroke="#b30000" stroke-width="3.00" stroke-linecap="round" fill="none"/>
<path d="M91.3 146.6L90.9 146.9M90.9 146.9L90.5 147.2" stroke="#b30000" stroke-width="3.25" stroke-linecap="round" fill="none"/>
<path d="M90.5 147.2L90.2 147.6M90.2 147.6L90.0 148.0M90.0 148.0L89.8 148.4M89.8 148.4L89.6 148.8M89.6 148.8L89.6 149.2" stroke="#990000" stroke-width="3.25" stroke-linecap="round" fill="none"/>
<path d="M89.6 149.2L89.6 149.6M89.6 149.6L89.7 150.0M89.7 150.0L89.9 150.4M89.9 150.4L90.1 150.8M90.1 150.8L90.4 151.1M90.4 151.1L90.8 151.5M90.8 151.5L91.2 151.9M91.2 151.9L91.7 152.3M106.3 150.4L107.0 149.9M107.0 149.9L107.6 149.3M107.6 149.3L108.2 148.8M108.2 148.8L108.8 148.4" stroke="#990000" stroke-width="3.50" stroke-linecap="round" fill="none"/>
<path d="M91.7 152.3L92.3 152.6M92.3 152.6L93.0 153.0M93.0 153.0L93.7 153.3M93.7 153.3L94.6 153.7M94.6 153.7L95.4 154.1M95.4 154.1L96.4 154.4M96.4 154.4L97.3 154.7M97.3 154.7L98.2 154.8M98.2 154.8L99.0 154.8M99.0 154.8L99.8 154.6M99.8 154.6L100.6 154.3M100.6 154.3L101.3 153.9M101.3 153.9L102.1 153.5M102.1 153.5L102.8 152.9M102.8 152.9L103.6 152.4M103.6 152.4L104.3 151.9M104.3 151.9L105.0 151.4M105.0 151.4L105.7 150.9M105.7 150.9L106.3 150.4" stroke="#990000" stroke-width="3.75" stroke-linecap="round" fill="none"/>
<path d="M108.8 148.4L109.5 148.1M109.5 148.1L110.1 147.9M110.1 147.9L110.8 147.9M110.8 147.9L111.4 148.0M111.4 148.0L112.1 148.1M112.1 148.1L112.8 148.4M112.8 148.4L113.5 148.7M113.5 148.7L114.1 149.1M114.1 149.1L114.7 149.4" stroke="#800000" stroke-width="3.50" stroke-linecap="round" fill="none"/>
<path d="M114.7 149.4L115.2 149.7M115.2 149.7L115.7 150.0M115.7 150.0L116.1 150.4M116.1 150.4L116.5 150.8" stroke="#800000" stroke-width="3.25" stroke-linecap="round" fill="none"/>
<path d="M116.5 150.8L116.8 151.2M116.8 151.2L117.1 151.5M117.1 151.5L117.4 151.9" stroke="#800000" stroke-width="3.00" stroke-linecap="round" fill="none"/>
<path d="M117.4 151.9L117.6 152.2M117.6 152.2L117.8 152.4" stroke="#800000" stroke-width="2.75" stroke-linecap="round" fill="none"/>
<path d="M100.8 78.0L100.8 78.5" stroke="#ffb300" stroke-width="2.50" stroke-linecap="round" fill="none" opacity="0.85"/>
<path d="M100.8 78.5L100.7 79.1" stroke="#ffb300" stroke-width="3.00" stroke-linecap="round" fill="none" opacity="0.85"/>
<path d="M100.7 79.1L100.6 79.8" stroke="#ffb300" stroke-width="3.50" stroke-linecap="round" fill="none" opacity="0.85"/>
<path d="M100.6 79.8L100.6 80.6" stroke="#ffb300" stroke-width="4.00" stroke-linecap="round" fill="none" opacity="0.85"/>
<path d="M100.6 80.6L100.5 81.4" stroke="#ffb300" stroke-width="4.25" stroke-linecap="round" fill="none" opacity="0.85"/>
<path d="M100.5 81.4L100.4 82.3M100.2 91.0L100.2 91.8" stroke="#ffb300" stroke-width="4.75" stroke-linecap="round" fill="none" opacity="0.85"/>
<path d="M100.4 82.3L100.3 83.2M100.2 87.5L100.2 88.4M100.2 88.4L100.2 89.3M100.2 89.3L100.2 90.2" stroke="#ffb300" stroke-width="5.25" stroke-linecap="round" fill="none" opacity="0.85"/>
<path d="M100.3 83.2L100.3 84.0M100.2 85.7L100.2 86.6M100.2 86.6L100.2 87.5" stroke="#ffb300" stroke-width="5.50" stroke-linecap="round" fill="none" opacity="0.85"/>
<path d="M100.3 84.0L100.3 84.8M100.3 84.8L100.2 85.7" stroke="#ffb300" stroke-width="5.75" stroke-linecap="round" fill="none" opacity="0.85"/>
<path d="M100.2 90.2L100.2 91.0" stroke="#ffb300" stroke-width="5.00" stroke-linecap="round" fill="none" opacity="0.85"/>
<path d="M100.2 91.8L100.2 92.7" stroke="#ffb300" stroke-width="4.50" stroke-linecap="round" fill="none" opacity="0.85"/>
<path d="M100.2 92.7L100.2 93.6" stroke="#ff9900" stroke-width="4.25" stroke-linecap="round" fill="none" opacity="0.85"/>
<path d="M100.2 93.6L100.2 94.4" stroke="#ff9900" stroke-width="3.75" stroke-linecap="round" fill="none" opacity="0.85"/>
<path d="M100.2 94.4L100.2 95.2" stroke="#ff9900" stroke-width="3.50" stroke-linecap="round" fill="none" opacity="0.85"/>
<path d="M100.2 95.2L100.2 95.9" stroke="#ff9900" stroke-width="3.25" stroke-linecap="round" fill="none" opacity="0.85"/>
<path d="M100.2 95.9L100.2 96.5" stroke="#ff9900" stroke-width="3.00" stroke-linecap="round" fill="none" opacity="0.85"/>
<path d="M100.2 96.5L100.2 97.0" stroke="#ff9900" stroke-width="2.50" stroke-linecap="round" fill="none" opacity="0.85"/>
<path d="M96.5 77.5L96.3 77.9M96.3 77.9L96.1 78.5M96.1 78.5L95.8 79.1M95.8 79.1L95.4 79.8M95.4 79.8L95.1 80.6M95.1 80.6L94.8 81.4M94.8 81.4L94.6 82.2M94.6 82.2L94.5 83.0M94.5 83.0L94.5 83.9M94.5 83.9L94.6 84.8M94.6 84.8L94.8 85.8M94.8 85.8L95.0 86.8M95.0 86.8L95.3 87.8M95.3 87.8L95.5 88.7M95.5 88.7L95.7 89.4M95.7 89.4L95.8 90.0" stroke="#ffcc00" stroke-width="0.50" stroke-linecap="round" fill="none" opacity="0.80"/>
<path d="M94.5 76.8L94.7 77.2M94.7 77.2L94.9 77.8M94.9 77.8L95.2 78.5M95.2 78.5L95.5 79.3M95.5 79.3L95.8 80.1M95.8 80.1L96.0 80.9M96.0 80.9L96.2 81.7M96.2 81.7L96.2 82.5M96.2 82.5L96.1 83.3M96.1 83.3L95.8 84.1M95.8 84.1L95.4 85.0M95.4 85.0L95.0 85.9M95.0 85.9L94.5 86.7M94.5 86.7L94.1 87.4M94.1 87.4L93.7 88.0M93.7 88.0L93.5 88.5" stroke="#ffe500" stroke-width="0.50" stroke-linecap="round" fill="none" opacity="0.80"/>
<path d="M98.0 77.0L97.9 77.5M97.9 77.5L97.7 78.3M97.7 78.3L97.5 79.1M97.5 79.1L97.4 80.1M97.4 80.1L97.2 81.1M97.2 81.1L97.0 82.1M97.0 82.1L96.9 83.1M96.9 83.1L96.8 84.0M96.8 84.0L96.8 84.9M96.8 84.9L96.9 85.9M96.9 85.9L97.0 86.9M97.0 86.9L97.1 87.9M97.1 87.9L97.3 88.9" stroke="#e5ff1a" stroke-width="0.50" stroke-linecap="round" fill="none" opacity="0.80"/>
<path d="M97.3 88.9L97.4 89.7M97.4 89.7L97.5 90.5M97.5 90.5L97.6 91.0" stroke="#ffff00" stroke-width="0.50" stroke-linecap="round" fill="none" opacity="0.80"/>
</g>
<g id="dsa-si">
<path d="M106.0 205.8L106.0 206.1M106.0 206.1L106.0 206.7M106.0 206.7L106.0 207.2M106.0 207.2L106.0 207.9" stroke="#0000e6" stroke-width="1.75" stroke-linecap="round" fill="none"/>
<path d="M106.0 207.9L106.0 208.6M106.0 208.6L105.9 209.2M105.9 209.2L105.7 209.8" stroke="#0000e6" stroke-width="2.00" stroke-linecap="round" fill="none"/>
<path d="M105.7 209.8L105.5 210.3M105.5 210.3L105.2 210.7M105.2 210.7L104.8 211.0" stroke="#0000e6" stroke-width="2.25" stroke-linecap="round" fill="none"/>
<path d="M104.8 211.0L104.3 211.2M104.3 211.2L103.8 211.4M103.8 211.4L103.2 211.7M103.2 211.7L102.7 211.9M102.7 211.9L102.2 212.1" stroke="#0000ff" stroke-width="2.25" stroke-linecap="round" fill="none"/>
<path d="M102.2 212.1L101.8 212.5M101.8 212.5L101.3 212.8M101.3 212.8L101.0 213.2M101.0 213.2L100.6 213.6M100.6 213.6L100.2 214.0M100.2 214.0L99.9 214.5M99.9 214.5L99.6 214.9M99.6 214.9L99.3 215.4M99.3 215.4L99.0 215.9M99.0 215.9L98.8 216.4M98.8 216.4L98.6 216.9M98.6 216.9L98.5 217.5M98.5 217.5L98.4 218.1M98.4 218.1L98.3 218.6M98.3 218.6L98.2 219.2M98.2 219.2L98.1 219.8" stroke="#0000ff" stroke-width="2.50" stroke-linecap="round" fill="none"/>
<path d="M98.1 219.8L98.0 220.3M98.0 220.3L97.8 220.8M97.1 225.2L97.4 225.6M97.4 225.6L97.7 226.1M97.7 226.1L97.9 226.5M97.9 226.5L98.2 227.0M98.6 229.4L98.5 230.1M98.5 230.1L98.4 230.8M98.4 230.8L98.3 231.5M98.3 231.5L98.2 232.3" stroke="#001aff" stroke-width="2.50" stroke-linecap="round" fill="none"/>
<path d="M97.8 220.8L97.6 221.3M97.6 221.3L97.4 221.8M97.4 221.8L97.2 222.3M97.2 222.3L97.1 222.8M97.1 222.8L96.9 223.2M96.9 223.2L96.8 223.7M96.8 223.7L96.8 224.2M96.8 224.2L96.9 224.7M96.9 224.7L97.1 225.2M98.2 232.3L98.1 233.0M98.1 233.0L98.0 233.7M98.0 233.7L97.9 234.4" stroke="#001aff" stroke-width="2.25" stroke-linecap="round" fill="none"/>
<path d="M98.2 227.0L98.4 227.6M98.4 227.6L98.5 228.1M98.5 228.1L98.6 228.7M98.6 228.7L98.6 229.4" stroke="#001aff" stroke-width="2.75" stroke-linecap="round" fill="none"/>
<path d="M97.9 234.4L97.8 235.1M97.8 235.1L97.7 235.9" stroke="#0033ff" stroke-width="2.25" stroke-linecap="round" fill="none"/>
<path d="M97.7 235.9L97.6 236.6M97.6 236.6L97.5 237.3M97.5 237.3L97.4 238.0M97.4 238.0L97.4 238.7M97.4 238.7L97.4 239.3M97.4 239.3L97.5 239.9M97.5 239.9L97.6 240.4M97.6 240.4L97.8 241.0" stroke="#0033ff" stroke-width="2.00" stroke-linecap="round" fill="none"/>
<path d="M97.8 241.0L98.0 241.5M98.0 241.5L98.2 241.9M98.2 241.9L98.4 242.4M98.4 242.4L98.6 242.9M98.6 242.9L98.8 243.3M98.8 243.3L99.0 243.8M99.0 243.8L99.2 244.3M99.2 244.3L99.4 244.7M99.4 244.7L99.6 245.2M99.6 245.2L99.8 245.6M99.8 245.6L99.9 246.0M99.9 246.0L100.0 246.3M100.0 246.3L100.1 246.6" stroke="#004dff" stroke-width="2.00" stroke-linecap="round" fill="none"/>
<path d="M132.0 214.7L131.8 215.0" stroke="#0000e6" stroke-width="1.00" stroke-linecap="round" fill="none"/>
<path d="M131.8 215.0L131.5 215.4M131.5 215.4L131.3 215.8" stroke="#0000e6" stroke-width="1.25" stroke-linecap="round" fill="none"/>
<path d="M131.3 215.8L130.9 216.3" stroke="#0000e6" stroke-width="1.50" stroke-linecap="round" fill="none"/>
<path d="M130.9 216.3L130.6 216.9M130.6 216.9L130.3 217.4" stroke="#0000e6" stroke-width="1.75" stroke-linecap="round" fill="none"/>
<path d="M130.3 217.4L129.9 217.9" stroke="#0000e6" stroke-width="2.00" stroke-linecap="round" fill="none"/>
<path d="M129.9 217.9L129.6 218.3M129.6 218.3L129.3 218.6" stroke="#0000e6" stroke-width="2.25" stroke-linecap="round" fill="none"/>
<path d="M129.3 218.6L129.0 218.9" stroke="#0000e6" stroke-width="2.50" stroke-linecap="round" fill="none"/>
<path d="M129.0 218.9L128.7 219.2M128.7 219.2L128.4 219.5" stroke="#0000e6" stroke-width="2.75" stroke-linecap="round" fill="none"/>
<path d="M128.4 219.5L128.1 219.7" stroke="#0000e6" stroke-width="3.00" stroke-linecap="round" fill="none"/>
<path d="M128.1 219.7L127.8 220.0M127.8 220.0L127.5 220.3" stroke="#0000e6" stroke-width="3.25" stroke-linecap="round" fill="none"/>
<path d="M127.5 220.3L127.2 220.6" stroke="#0000e6" stroke-width="3.50" stroke-linecap="round" fill="none"/>
<path d="M127.2 220.6L126.9 220.9M126.9 220.9L126.6 221.3M126.6 221.3L126.3 221.6" stroke="#0000e6" stroke-width="3.75" stroke-linecap="round" fill="none"/>
<path d="M126.3 221.6L126.0 222.0M126.0 222.0L125.7 222.4" stroke="#0000e6" stroke-width="4.00" stroke-linecap="round" fill="none"/>
<path d="M125.7 222.4L125.4 222.8M125.4 222.8L125.1 223.1" stroke="#0000e6" stroke-width="4.25" stroke-linecap="round" fill="none"/>
<path d="M125.1 223.1L124.8 223.5M124.8 223.5L124.4 223.8" stroke="#0000e6" stroke-width="4.50" stroke-linecap="round" fill="none"/>
<path d="M124.4 223.8L124.1 224.1M124.1 224.1L123.7 224.4" stroke="#0000e6" stroke-width="4.75" stroke-linecap="round" fill="none"/>
<path d="M123.7 224.4L123.3 224.6M123.3 224.6L122.9 224.9" stroke="#0000e6" stroke-width="5.00" stroke-linecap="round" fill="none"/>
<path d="M122.9 224.9L122.5 225.2M122.5 225.2L122.2 225.4M120.9 226.2L120.6 226.4M120.6 226.4L120.3 226.6M120.3 226.6L120.0 226.8M120.0 226.8L119.7 226.9M119.7 226.9L119.5 227.2M119.5 227.2L119.2 227.4M119.2 227.4L119.0 227.7" stroke="#0000e6" stroke-width="5.25" stroke-linecap="round" fill="none"/>
<path d="M122.2 225.4L121.8 225.7M121.8 225.7L121.5 225.9M121.5 225.9L121.2 226.1M121.2 226.1L120.9 226.2M119.0 227.7L118.8 228.0" stroke="#0000e6" stroke-width="5.50" stroke-linecap="round" fill="none"/>
<path d="M118.8 228.0L118.6 228.3M118.6 228.3L118.4 228.6" stroke="#0000e6" stroke-width="5.75" stroke-linecap="round" fill="none"/>
<path d="M118.4 228.6L118.2 228.9M118.2 228.9L117.9 229.2" stroke="#0000e6" stroke-width="6.00" stroke-linecap="round" fill="none"/>
<path d="M117.9 229.2L117.7 229.6M117.7 229.6L117.5 229.9M117.5 229.9L117.3 230.3" stroke="#0000e6" stroke-width="6.25" stroke-linecap="round" fill="none"/>
<path d="M117.3 230.3L117.1 230.6" stroke="#0000ff" stroke-width="6.25" stroke-linecap="round" fill="none"/>
<path d="M117.1 230.6L116.8 231.0M116.8 231.0L116.6 231.4M116.6 231.4L116.4 231.7M116.4 231.7L116.1 232.1" stroke="#0000ff" stroke-width="6.00" stroke-linecap="round" fill="none"/>
<path d="M116.1 232.1L115.9 232.5M115.9 232.5L115.6 232.8M115.6 232.8L115.3 233.2M115.3 233.2L115.0 233.6M115.0 233.6L114.7 234.0M114.7 234.0L114.4 234.3M114.4 234.3L114.1 234.7M114.1 234.7L113.8 235.0M113.8 235.0L113.5 235.3M113.5 235.3L113.2 235.6M113.2 235.6L112.9 236.0" stroke="#0000ff" stroke-width="5.75" stroke-linecap="round" fill="none"/>
<path d="M112.9 236.0L112.6 236.3M112.6 236.3L112.3 236.5" stroke="#0000ff" stroke-width="5.50" stroke-linecap="round" fill="none"/>
<path d="M112.3 236.5L112.0 236.8M112.0 236.8L111.7 237.0" stroke="#0000ff" stroke-width="5.25" stroke-linecap="round" fill="none"/>
<path d="M111.7 237.0L111.4 237.1" stroke="#0000ff" stroke-width="5.00" stroke-linecap="round" fill="none"/>
<path d="M111.4 237.1L111.1 237.2" stroke="#001aff" stroke-width="5.00" stroke-linecap="round" fill="none"/>
<path d="M111.1 237.2L110.8 237.1M110.8 237.1L110.5 237.0" stroke="#001aff" stroke-width="4.75" stroke-linecap="round" fill="none"/>
<path d="M110.5 237.0L110.2 236.8" stroke="#001aff" stroke-width="4.50" stroke-linecap="round" fill="none"/>
<path d="M110.2 236.8L109.9 236.6M109.9 236.6L109.5 236.4" stroke="#001aff" stroke-width="4.25" stroke-linecap="round" fill="none"/>
<path d="M109.5 236.4L109.2 236.1" stroke="#001aff" stroke-width="4.00" stroke-linecap="round" fill="none"/>
<path d="M109.2 236.1L109.0 235.8M109.0 235.8L108.7 235.5" stroke="#001aff" stroke-width="3.75" stroke-linecap="round" fill="none"/>
<path d="M108.7 235.5L108.5 235.2" stroke="#001aff" stroke-width="3.50" stroke-linecap="round" fill="none"/>
<path d="M108.5 235.2L108.2 234.9M108.2 234.9L108.0 234.4" stroke="#001aff" stroke-width="3.25" stroke-linecap="round" fill="none"/>
<path d="M108.0 234.4L107.8 234.0M107.8 234.0L107.6 233.6" stroke="#001aff" stroke-width="3.00" stroke-linecap="round" fill="none"/>
<path d="M107.6 233.6L107.4 233.3M107.4 233.3L107.2 233.0" stroke="#001aff" stroke-width="2.75" stroke-linecap="round" fill="none"/>
<path d="M107.2 233.0L107.1 232.7" stroke="#001aff" stroke-width="2.50" stroke-linecap="round" fill="none"/>
<path d="M107.1 232.7L107.1 233.1" stroke="#001aff" stroke-width="2.25" stroke-linecap="round" fill="none"/>
<path d="M107.1 233.1L106.9 233.6" stroke="#0033ff" stroke-width="2.50" stroke-linecap="round" fill="none"/>
<path d="M106.9 233.6L106.8 234.2M106.8 234.2L106.7 234.9" stroke="#0033ff" stroke-width="2.75" stroke-linecap="round" fill="none"/>
<path d="M106.7 234.9L106.5 235.6" stroke="#0033ff" stroke-width="3.00" stroke-linecap="round" fill="none"/>
<path d="M106.5 235.6L106.4 236.4M106.4 236.4L106.2 237.1" stroke="#0033ff" stroke-width="3.25" stroke-linecap="round" fill="none"/>
<path d="M106.2 237.1L106.1 237.7" stroke="#0033ff" stroke-width="3.50" stroke-linecap="round" fill="none"/>
<path d="M106.1 237.7L105.9 238.4M105.9 238.4L105.8 239.0" stroke="#0033ff" stroke-width="3.75" stroke-linecap="round" fill="none"/>
<path d="M105.8 239.0L105.6 239.7M105.6 239.7L105.4 240.3" stroke="#0033ff" stroke-width="4.00" stroke-linecap="round" fill="none"/>
<path d="M105.4 240.3L105.3 241.0" stroke="#0033ff" stroke-width="4.25" stroke-linecap="round" fill="none"/>
<path d="M105.3 241.0L105.1 241.6M105.1 241.6L105.0 242.2" stroke="#0033ff" stroke-width="4.50" stroke-linecap="round" fill="none"/>
<path d="M105.0 242.2L104.9 242.8" stroke="#0033ff" stroke-width="4.75" stroke-linecap="round" fill="none"/>
<path d="M104.9 242.8L104.8 243.4M104.8 243.4L104.7 244.1" stroke="#0033ff" stroke-width="5.00" stroke-linecap="round" fill="none"/>
<path d="M104.7 244.1L104.6 244.7" stroke="#0033ff" stroke-width="5.25" stroke-linecap="round" fill="none"/>
<path d="M104.6 244.7L104.5 245.4M104.5 245.4L104.4 245.9" stroke="#004dff" stroke-width="5.50" stroke-linecap="round" fill="none"/>
<path d="M104.4 245.9L104.4 246.5" stroke="#004dff" stroke-width="5.75" stroke-linecap="round" fill="none"/>
<path d="M104.4 246.5L104.3 246.9M104.3 246.9L104.3 247.2" stroke="#004dff" stroke-width="6.00" stroke-linecap="round" fill="none"/>
<path d="M105.4 242.3L105.5 242.9" stroke="#001aff" stroke-width="5.25" stroke-linecap="round" fill="none"/>
<path d="M105.5 242.9L105.5 243.5" stroke="#001aff" stroke-width="5.75" stroke-linecap="round" fill="none"/>
<path d="M105.5 243.5L105.6 244.4M103.8 266.2L103.6 267.1" stroke="#001aff" stroke-width="6.25" stroke-linecap="round" fill="none"/>
<path d="M105.6 244.4L105.7 245.3M104.0 265.3L103.8 266.2" stroke="#001aff" stroke-width="6.75" stroke-linecap="round" fill="none"/>
<path d="M105.7 245.3L105.7 246.3M104.1 264.4L104.0 265.3" stroke="#001aff" stroke-width="7.25" stroke-linecap="round" fill="none"/>
<path d="M105.7 246.3L105.8 247.3M104.3 263.5L104.1 264.4" stroke="#001aff" stroke-width="7.75" stroke-linecap="round" fill="none"/>
<path d="M105.8 247.3L105.8 248.2" stroke="#001aff" stroke-width="8.25" stroke-linecap="round" fill="none"/>
<path d="M105.8 248.2L105.8 249.2M104.7 260.8L104.6 261.7" stroke="#001aff" stroke-width="8.75" stroke-linecap="round" fill="none"/>
<path d="M105.8 249.2L105.8 250.1M104.9 259.9L104.7 260.8" stroke="#001aff" stroke-width="9.00" stroke-linecap="round" fill="none"/>
<path d="M105.8 250.1L105.7 251.1" stroke="#001aff" stroke-width="9.25" stroke-linecap="round" fill="none"/>
<path d="M105.7 251.1L105.7 252.1M105.7 252.1L105.6 253.1M105.0 258.9L104.9 259.9" stroke="#001aff" stroke-width="9.50" stroke-linecap="round" fill="none"/>
<path d="M105.6 253.1L105.5 254.1M105.5 254.1L105.4 255.1M105.1 258.0L105.0 258.9" stroke="#001aff" stroke-width="9.75" stroke-linecap="round" fill="none"/>
<path d="M105.4 255.1L105.3 256.1M105.3 256.1L105.2 257.0M105.2 257.0L105.1 258.0" stroke="#001aff" stroke-width="10.00" stroke-linecap="round" fill="none"/>
<path d="M104.6 261.7L104.4 262.6" stroke="#001aff" stroke-width="8.50" stroke-linecap="round" fill="none"/>
<path d="M104.4 262.6L104.3 263.5" stroke="#001aff" stroke-width="8.00" stroke-linecap="round" fill="none"/>
<path d="M103.6 267.1L103.4 268.0" stroke="#001aff" stroke-width="5.50" stroke-linecap="round" fill="none"/>
<path d="M103.4 268.0L103.3 268.9" stroke="#001aff" stroke-width="5.00" stroke-linecap="round" fill="none"/>
<path d="M103.3 268.9L103.1 269.6" stroke="#001aff" stroke-width="4.50" stroke-linecap="round" fill="none"/>
<path d="M103.1 269.6L103.0 270.3" stroke="#001aff" stroke-width="3.75" stroke-linecap="round" fill="none"/>
<path d="M103.0 270.3L102.9 270.8" stroke="#001aff" stroke-width="3.25" stroke-linecap="round" fill="none"/>
<path d="M100.2 247.2L100.0 247.1M100.0 247.1L99.6 247.0M99.6 247.0L99.2 246.9M99.2 246.9L98.7 246.7M98.7 246.7L98.2 246.5M98.2 246.5L97.7 246.4M97.7 246.4L97.1 246.2M97.1 246.2L96.5 246.2M96.5 246.2L95.8 246.1M95.8 246.1L95.1 246.1" stroke="#004dff" stroke-width="2.25" stroke-linecap="round" fill="none"/>
<path d="M95.1 246.1L94.3 246.1M94.3 246.1L93.5 246.1M93.5 246.1L92.7 246.1M92.7 246.1L91.9 246.2M91.9 246.2L91.0 246.4M91.0 246.4L90.2 246.6M101.2 271.9L101.3 272.2" stroke="#004dff" stroke-width="2.50" stroke-linecap="round" fill="none"/>
<path d="M90.2 246.6L89.4 246.8M89.4 246.8L88.6 247.1M88.6 247.1L87.8 247.5M87.8 247.5L86.9 247.9M100.8 269.8L100.9 270.4M100.9 270.4L101.0 271.0M101.0 271.0L101.1 271.5M101.1 271.5L101.2 271.9" stroke="#004dff" stroke-width="2.75" stroke-linecap="round" fill="none"/>
<path d="M86.9 247.9L86.1 248.4M86.1 248.4L85.3 248.8M85.3 248.8L84.6 249.3M84.6 249.3L83.9 249.8M83.9 249.8L83.3 250.3M99.4 266.1L99.7 266.8M99.7 266.8L100.0 267.4M100.0 267.4L100.2 268.0M100.2 268.0L100.5 268.6M100.5 268.6L100.6 269.2M100.6 269.2L100.8 269.8" stroke="#004dff" stroke-width="3.00" stroke-linecap="round" fill="none"/>
<path d="M83.3 250.3L82.7 250.8M82.7 250.8L82.1 251.3M82.1 251.3L81.5 251.8M81.5 251.8L81.0 252.4M81.0 252.4L80.6 252.9M80.6 252.9L80.1 253.5M80.1 253.5L79.8 254.1M79.8 254.1L79.4 254.7M79.4 254.7L79.1 255.3M79.1 255.3L78.8 256.0M78.8 256.0L78.5 256.7M78.5 256.7L78.3 257.3M78.3 257.3L78.2 258.0M78.2 258.0L78.1 258.7M78.1 258.7L78.1 259.3M78.1 259.3L78.1 259.9M78.1 259.9L78.2 260.6M78.2 260.6L78.4 261.3M78.4 261.3L78.6 261.9M78.6 261.9L78.8 262.5M78.8 262.5L79.1 263.1M89.0 260.7L89.3 260.3M89.3 260.3L89.7 259.9M89.7 259.9L90.0 259.7M90.0 259.7L90.5 259.5M90.5 259.5L90.9 259.5M90.9 259.5L91.4 259.5M91.4 259.5L91.9 259.5M91.9 259.5L92.4 259.7M92.4 259.7L92.9 259.8M92.9 259.8L93.3 260.0M93.3 260.0L93.8 260.2M93.8 260.2L94.3 260.4M94.3 260.4L94.8 260.7M94.8 260.7L95.2 261.0M95.2 261.0L95.7 261.3M95.7 261.3L96.2 261.7M96.2 261.7L96.7 262.1M96.7 262.1L97.1 262.5M97.1 262.5L97.5 263.0M97.5 263.0L97.9 263.5M97.9 263.5L98.3 264.1M98.3 264.1L98.7 264.8M98.7 264.8L99.0 265.4M99.0 265.4L99.4 266.1" stroke="#004dff" stroke-width="3.25" stroke-linecap="round" fill="none"/>
<path d="M79.1 263.1L79.4 263.6M79.4 263.6L79.8 264.1M79.8 264.1L80.1 264.5M80.1 264.5L80.6 264.8M80.6 264.8L81.0 265.1M81.0 265.1L81.5 265.4M81.5 265.4L82.0 265.6M82.0 265.6L82.5 265.7M82.5 265.7L83.0 265.8M83.0 265.8L83.5 265.8M83.5 265.8L84.0 265.6M84.0 265.6L84.5 265.4M84.5 265.4L85.0 265.1M85.0 265.1L85.5 264.7M85.5 264.7L86.0 264.3M86.0 264.3L86.4 263.8M86.4 263.8L86.9 263.4M86.9 263.4L87.3 263.0M87.3 263.0L87.7 262.6M87.7 262.6L88.0 262.1M88.0 262.1L88.4 261.6M88.4 261.6L88.7 261.1M88.7 261.1L89.0 260.7" stroke="#004dff" stroke-width="3.50" stroke-linecap="round" fill="none"/>
<path d="M103.3 269.7L103.0 270.0M103.0 270.0L102.7 270.4M102.7 270.4L102.3 270.9M102.3 270.9L101.8 271.4M101.8 271.4L101.3 272.0M101.3 272.0L100.9 272.6M100.9 272.6L100.4 273.2M100.4 273.2L100.1 273.8M100.1 273.8L99.7 274.4M99.7 274.4L99.4 275.0M99.4 275.0L99.0 275.6M99.0 275.6L98.7 276.3M98.7 276.3L98.4 276.9M98.4 276.9L98.1 277.6M98.1 277.6L97.8 278.3M97.8 278.3L97.6 278.9M97.6 278.9L97.4 279.5M99.2 292.3L99.1 292.7M99.1 292.7L99.0 293.0M99.0 293.0L98.9 293.3" stroke="#0033ff" stroke-width="2.50" stroke-linecap="round" fill="none"/>
<path d="M97.4 279.5L97.1 280.2M97.1 280.2L96.9 280.8M96.9 280.8L96.7 281.4M96.7 281.4L96.5 282.1M96.5 282.1L96.3 282.7M96.3 282.7L96.2 283.3M96.2 283.3L96.2 283.9M96.2 283.9L96.2 284.5M96.2 284.5L96.3 285.0M96.3 285.0L96.5 285.5M96.5 285.5L96.6 286.1M96.6 286.1L96.9 286.6M96.9 286.6L97.1 287.1M97.1 287.1L97.3 287.6M97.3 287.6L97.5 288.1M97.5 288.1L97.7 288.6M97.7 288.6L98.0 289.1M98.0 289.1L98.2 289.6M98.2 289.6L98.5 290.1M98.5 290.1L98.7 290.6M98.7 290.6L98.9 291.1M98.9 291.1L99.1 291.5M99.1 291.5L99.2 291.9M99.2 291.9L99.2 292.3" stroke="#0033ff" stroke-width="2.75" stroke-linecap="round" fill="none"/>
<path d="M98.9 293.3L98.7 293.6M98.7 293.6L98.6 293.9M98.6 293.9L98.4 294.1" stroke="#0033ff" stroke-width="2.25" stroke-linecap="round" fill="none"/>
<path d="M98.4 294.1L98.4 294.3" stroke="#0033ff" stroke-width="2.00" stroke-linecap="round" fill="none"/>
<path d="M96.2 284.3L95.9 284.3M95.9 284.3L95.5 284.2M95.5 284.2L95.1 284.2" stroke="#0033ff" stroke-width="3.00" stroke-linecap="round" fill="none"/>
<path d="M95.1 284.2L94.6 284.1M94.6 284.1L94.1 284.1M94.1 284.1L93.6 284.0M93.6 284.0L93.1 284.0M93.1 284.0L92.6 284.1M92.6 284.1L92.1 284.2M92.1 284.2L91.6 284.3" stroke="#0033ff" stroke-width="3.25" stroke-linecap="round" fill="none"/>
<path d="M91.6 284.3L91.1 284.4M91.1 284.4L90.6 284.5M90.6 284.5L90.1 284.7M90.1 284.7L89.6 284.8M89.6 284.8L89.2 285.0M89.2 285.0L88.8 285.3M88.8 285.3L88.6 285.5" stroke="#0033ff" stroke-width="3.50" stroke-linecap="round" fill="none"/>
<path d="M88.6 285.5L88.3 285.8M88.3 285.8L88.1 286.1M88.1 286.1L87.9 286.4M87.9 286.4L87.8 286.8M87.8 286.8L87.8 287.1M87.8 287.1L87.8 287.5M87.8 287.5L87.8 287.8M87.8 287.8L87.9 288.2M87.9 288.2L88.1 288.6M88.1 288.6L88.4 288.9" stroke="#0033ff" stroke-width="3.75" stroke-linecap="round" fill="none"/>
<path d="M88.4 288.9L88.7 289.3M88.7 289.3L89.1 289.7M89.1 289.7L89.4 290.1M89.4 290.1L89.8 290.5M89.8 290.5L90.2 290.9M90.2 290.9L90.6 291.4M90.6 291.4L91.0 291.8M91.0 291.8L91.4 292.2M91.4 292.2L91.9 292.6M91.9 292.6L92.4 293.0M94.7 297.2L94.8 297.7M94.8 297.7L94.9 298.2M94.9 298.2L95.0 298.7" stroke="#0033ff" stroke-width="4.00" stroke-linecap="round" fill="none"/>
<path d="M92.4 293.0L92.8 293.4M92.8 293.4L93.2 293.8M93.2 293.8L93.5 294.3M93.5 294.3L93.8 294.7M93.8 294.7L94.0 295.2M94.0 295.2L94.2 295.7M94.2 295.7L94.4 296.2M94.4 296.2L94.6 296.7M94.6 296.7L94.7 297.2M95.0 298.7L94.9 299.3M94.9 299.3L94.9 299.8M94.9 299.8L94.8 300.3M94.8 300.3L94.7 300.9M94.7 300.9L94.7 301.4" stroke="#0033ff" stroke-width="4.25" stroke-linecap="round" fill="none"/>
<path d="M94.7 301.4L94.8 301.9" stroke="#004dff" stroke-width="4.25" stroke-linecap="round" fill="none"/>
<path d="M94.8 301.9L94.9 302.3M94.9 302.3L95.2 302.7M95.2 302.7L95.6 303.0M95.6 303.0L96.0 303.4M96.0 303.4L96.4 303.6M96.4 303.6L96.9 303.9M96.9 303.9L97.5 304.2M97.5 304.2L98.1 304.5M98.1 304.5L98.6 304.9M98.6 304.9L99.3 305.2M99.3 305.2L100.0 305.6M100.0 305.6L100.8 306.1M100.8 306.1L101.6 306.5M101.6 306.5L102.3 306.9M102.3 306.9L103.1 307.3M103.1 307.3L103.7 307.8M103.7 307.8L104.3 308.2M104.3 308.2L104.8 308.6M104.8 308.6L105.3 309.1M105.3 309.1L105.7 309.5M105.7 309.5L106.0 310.0M106.0 310.0L106.3 310.4M106.3 310.4L106.5 310.8M106.5 310.8L106.7 311.2M106.7 311.2L106.7 311.6M106.7 311.6L106.5 312.0M106.5 312.0L106.3 312.4M106.3 312.4L106.0 312.8M106.0 312.8L105.6 313.1M105.6 313.1L105.1 313.4M105.1 313.4L104.6 313.7M104.6 313.7L104.0 313.9M104.0 313.9L103.4 314.1M103.4 314.1L102.9 314.1" stroke="#004dff" stroke-width="4.50" stroke-linecap="round" fill="none"/>
<path d="M102.9 314.1L102.2 314.1M102.2 314.1L101.5 313.9M101.5 313.9L100.7 313.8M100.7 313.8L100.0 313.6M100.0 313.6L99.2 313.4M99.2 313.4L98.5 313.3M98.5 313.3L97.8 313.3M97.8 313.3L97.1 313.3M117.6 319.7L117.8 319.9M117.8 319.9L118.0 320.2" stroke="#004dff" stroke-width="4.75" stroke-linecap="round" fill="none"/>
<path d="M97.1 313.3L96.4 313.4M96.4 313.4L95.8 313.5M95.8 313.5L95.1 313.6M95.1 313.6L94.5 313.8M94.5 313.8L93.9 314.0M93.9 314.0L93.4 314.2M117.1 318.9L117.4 319.3M117.4 319.3L117.6 319.7" stroke="#004dff" stroke-width="5.00" stroke-linecap="round" fill="none"/>
<path d="M93.4 314.2L93.0 314.5M93.0 314.5L92.6 314.8M92.6 314.8L92.2 315.1M92.2 315.1L92.0 315.4M116.4 318.2L116.7 318.5M116.7 318.5L117.1 318.9" stroke="#004dff" stroke-width="5.25" stroke-linecap="round" fill="none"/>
<path d="M92.0 315.4L91.7 315.8M91.7 315.8L91.5 316.2M91.5 316.2L91.4 316.6M91.4 316.6L91.3 317.0M115.0 317.2L115.5 317.5M115.5 317.5L116.0 317.8M116.0 317.8L116.4 318.2" stroke="#004dff" stroke-width="5.50" stroke-linecap="round" fill="none"/>
<path d="M91.3 317.0L91.4 317.4M91.4 317.4L91.5 317.8M91.5 317.8L91.6 318.2M91.6 318.2L91.9 318.5M111.3 315.7L112.0 315.8M112.0 315.8L112.6 316.0M112.6 316.0L113.3 316.2M113.3 316.2L113.9 316.6M113.9 316.6L114.5 316.9M114.5 316.9L115.0 317.2" stroke="#004dff" stroke-width="5.75" stroke-linecap="round" fill="none"/>
<path d="M91.9 318.5L92.1 318.9M92.1 318.9L92.5 319.3M92.5 319.3L92.9 319.7M92.9 319.7L93.4 320.0M93.4 320.0L93.9 320.3M93.9 320.3L94.5 320.7M105.2 319.6L105.9 319.2M105.9 319.2L106.5 318.7M106.5 318.7L107.2 318.2M107.2 318.2L107.8 317.7M107.8 317.7L108.4 317.1M108.4 317.1L109.0 316.7M109.0 316.7L109.5 316.2M109.5 316.2L110.1 315.9M110.1 315.9L110.7 315.7M110.7 315.7L111.3 315.7" stroke="#004dff" stroke-width="6.00" stroke-linecap="round" fill="none"/>
<path d="M94.5 320.7L95.2 321.1M95.2 321.1L96.0 321.5M96.0 321.5L96.9 321.8M96.9 321.8L97.8 322.1M97.8 322.1L98.6 322.4M98.6 322.4L99.5 322.5M99.5 322.5L100.2 322.5M100.2 322.5L101.0 322.4M101.0 322.4L101.7 322.1M101.7 322.1L102.4 321.7M102.4 321.7L103.2 321.2M103.2 321.2L103.9 320.7M103.9 320.7L104.6 320.1M104.6 320.1L105.2 319.6" stroke="#004dff" stroke-width="6.25" stroke-linecap="round" fill="none"/>
<path d="M92.9 313.7L92.6 313.4" stroke="#004dff" stroke-width="3.25" stroke-linecap="round" fill="none"/>
<path d="M92.6 313.4L92.3 312.9M92.3 312.9L91.9 312.4M91.9 312.4L91.5 311.9M91.5 311.9L91.0 311.3" stroke="#004dff" stroke-width="3.00" stroke-linecap="round" fill="none"/>
<path d="M91.0 311.3L90.6 310.8M90.6 310.8L90.1 310.3M90.1 310.3L89.8 309.9M89.8 309.9L89.4 309.5M89.4 309.5L89.2 309.2" stroke="#004dff" stroke-width="2.75" stroke-linecap="round" fill="none"/>
<path d="M89.2 309.2L88.9 308.9M88.9 308.9L88.6 308.6M88.6 308.6L88.4 308.4M88.4 308.4L88.1 308.3M88.1 308.3L87.8 308.2M87.8 308.2L87.5 308.2M87.5 308.2L87.2 308.3M87.2 308.3L86.8 308.5" stroke="#004dff" stroke-width="2.50" stroke-linecap="round" fill="none"/>
<path d="M86.8 308.5L86.4 308.8M86.4 308.8L86.0 309.1M86.0 309.1L85.6 309.5M85.6 309.5L85.2 309.9M85.2 309.9L84.9 310.3M84.9 310.3L84.5 310.6M84.5 310.6L84.1 311.1M84.1 311.1L83.7 311.5M83.7 311.5L83.4 312.0M83.4 312.0L83.0 312.6M83.0 312.6L82.7 313.1M82.7 313.1L82.3 313.5M82.3 313.5L81.9 313.8M81.9 313.8L81.5 314.1M81.5 314.1L81.0 314.2M81.0 314.2L80.5 314.2M80.5 314.2L80.0 314.2M80.0 314.2L79.5 314.1M79.5 314.1L79.0 314.0M79.0 314.0L78.5 313.7M78.5 313.7L77.9 313.5M77.9 313.5L77.4 313.2M77.4 313.2L76.8 312.8M76.8 312.8L76.2 312.3M76.2 312.3L75.6 311.8M75.6 311.8L75.0 311.2M75.0 311.2L74.4 310.5M74.4 310.5L73.8 310.0M73.8 310.0L73.2 309.4M73.2 309.4L72.6 309.0M72.6 309.0L72.0 308.6M72.0 308.6L71.4 308.3M71.4 308.3L70.8 307.9M70.8 307.9L70.2 307.7M70.2 307.7L69.6 307.4M69.6 307.4L69.0 307.2M69.0 307.2L68.4 307.1M68.4 307.1L67.8 307.0M67.8 307.0L67.2 307.0M67.2 307.0L66.5 307.0M66.5 307.0L65.9 307.1M65.9 307.1L65.3 307.3M65.3 307.3L64.7 307.5M64.7 307.5L64.1 307.7M64.1 307.7L63.5 307.9" stroke="#004dff" stroke-width="2.25" stroke-linecap="round" fill="none"/>
<path d="M63.5 307.9L62.9 308.2M62.9 308.2L62.3 308.5M62.3 308.5L61.6 308.9M61.6 308.9L61.0 309.3M61.0 309.3L60.4 309.7M60.4 309.7L59.8 310.2M59.8 310.2L59.2 310.6M59.2 310.6L58.6 311.1M58.6 311.1L58.0 311.5M58.0 311.5L57.4 312.0" stroke="#004dff" stroke-width="2.00" stroke-linecap="round" fill="none"/>
<path d="M57.4 312.0L56.8 312.4M56.8 312.4L56.2 312.8M56.2 312.8L55.5 313.3M55.5 313.3L54.9 313.7" stroke="#004dff" stroke-width="1.75" stroke-linecap="round" fill="none"/>
<path d="M54.9 313.7L54.3 314.1M54.3 314.1L53.7 314.5M53.7 314.5L53.2 314.9M53.2 314.9L52.8 315.2M52.8 315.2L52.3 315.5" stroke="#004dff" stroke-width="1.50" stroke-linecap="round" fill="none"/>
<path d="M52.3 315.5L51.9 315.7M51.9 315.7L51.5 316.0M51.5 316.0L51.1 316.2M51.1 316.2L50.8 316.3" stroke="#004dff" stroke-width="1.25" stroke-linecap="round" fill="none"/>
<path d="M50.8 316.3L50.5 316.5M50.5 316.5L50.3 316.6" stroke="#004dff" stroke-width="1.00" stroke-linecap="round" fill="none"/>
<path d="M96.2 284.3L95.9 284.3M95.9 284.3L95.5 284.2M95.5 284.2L95.1 284.2" stroke="#0080ff" stroke-width="2.25" stroke-linecap="round" fill="none"/>
<path d="M95.1 284.2L94.6 284.1M94.6 284.1L94.1 284.1" stroke="#0080ff" stroke-width="2.50" stroke-linecap="round" fill="none"/>
<path d="M94.1 284.1L93.6 284.0M93.6 284.0L93.1 284.0M93.1 284.0L92.6 284.1M92.6 284.1L92.1 284.2M92.1 284.2L91.6 284.3M91.6 284.3L91.1 284.4M91.1 284.4L90.6 284.5" stroke="#0099ff" stroke-width="2.50" stroke-linecap="round" fill="none"/>
<path d="M90.6 284.5L90.1 284.7" stroke="#0099ff" stroke-width="2.75" stroke-linecap="round" fill="none"/>
<path d="M90.1 284.7L89.6 284.8M89.6 284.8L89.2 285.0M89.2 285.0L88.8 285.3M88.8 285.3L88.6 285.5M88.6 285.5L88.3 285.8M88.3 285.8L88.1 286.1M88.1 286.1L87.9 286.4M87.9 286.4L87.8 286.8" stroke="#00b2ff" stroke-width="2.75" stroke-linecap="round" fill="none"/>
<path d="M87.8 286.8L87.8 287.1M87.8 287.1L87.8 287.5" stroke="#00ccff" stroke-width="2.75" stroke-linecap="round" fill="none"/>
<path d="M87.8 287.5L87.8 287.8M87.8 287.8L87.9 288.2M87.9 288.2L88.1 288.6M88.1 288.6L88.4 288.9M88.4 288.9L88.7 289.3M88.7 289.3L89.1 289.7M89.1 289.7L89.4 290.1M89.4 290.1L89.8 290.5M89.8 290.5L90.2 290.9M90.2 290.9L90.6 291.4M90.6 291.4L91.0 291.8M91.0 291.8L91.4 292.2M91.4 292.2L91.9 292.6" stroke="#00ccff" stroke-width="3.00" stroke-linecap="round" fill="none"/>
<path d="M91.9 292.6L92.4 293.0M92.4 293.0L92.8 293.4M92.8 293.4L93.2 293.8M93.2 293.8L93.5 294.3M93.5 294.3L93.8 294.7" stroke="#00ccff" stroke-width="3.25" stroke-linecap="round" fill="none"/>
<path d="M93.8 294.7L94.0 295.2M94.0 295.2L94.2 295.7M94.2 295.7L94.4 296.2M94.4 296.2L94.6 296.7M94.6 296.7L94.7 297.2M94.7 297.2L94.8 297.7M94.9 298.2L95.0 298.7M95.0 298.7L94.9 299.3M94.9 299.3L94.9 299.8M94.9 299.8L94.8 300.3M94.8 300.3L94.7 300.9M94.7 300.9L94.7 301.4M94.7 301.4L94.8 301.9M94.8 301.9L94.9 302.3M94.9 302.3L95.2 302.7M95.2 302.7L95.6 303.0" stroke="#00e5ff" stroke-width="3.25" stroke-linecap="round" fill="none"/>
<path d="M94.8 297.7L94.9 298.2" stroke="#00e5ff" stroke-width="3.00" stroke-linecap="round" fill="none"/>
<path d="M95.6 303.0L96.0 303.4M96.0 303.4L96.4 303.6M96.4 303.6L96.9 303.9M96.9 303.9L97.5 304.2M97.5 304.2L98.1 304.5M98.1 304.5L98.6 304.9M98.6 304.9L99.3 305.2M99.3 305.2L100.0 305.6M100.0 305.6L100.8 306.1M100.8 306.1L101.6 306.5M101.6 306.5L102.3 306.9M102.3 306.9L103.1 307.3M103.1 307.3L103.7 307.8M103.7 307.8L104.3 308.2M104.3 308.2L104.8 308.6M104.8 308.6L105.3 309.1M105.3 309.1L105.7 309.5M105.7 309.5L106.0 310.0M106.0 310.0L106.3 310.4M106.3 310.4L106.5 310.8M106.5 310.8L106.7 311.2M106.7 311.2L106.7 311.6M106.7 311.6L106.5 312.0M106.5 312.0L106.3 312.4M106.3 312.4L106.0 312.8M106.0 312.8L105.6 313.1M105.6 313.1L105.1 313.4M105.1 313.4L104.6 313.7M104.6 313.7L104.0 313.9M104.0 313.9L103.4 314.1M103.4 314.1L102.9 314.1M102.9 314.1L102.2 314.1M102.2 314.1L101.5 313.9M101.5 313.9L100.7 313.8M100.7 313.8L100.0 313.6M100.0 313.6L99.2 313.4M99.2 313.4L98.5 313.3M117.8 319.9L118.0 320.2" stroke="#00e5ff" stroke-width="3.50" stroke-linecap="round" fill="none"/>
<path d="M98.5 313.3L97.8 313.3M97.8 313.3L97.1 313.3M97.1 313.3L96.4 313.4M96.4 313.4L95.8 313.5M95.8 313.5L95.1 313.6M95.1 313.6L94.5 313.8M94.5 313.8L93.9 314.0M117.1 318.9L117.4 319.3M117.4 319.3L117.6 319.7M117.6 319.7L117.8 319.9" stroke="#00e5ff" stroke-width="3.75" stroke-linecap="round" fill="none"/>
<path d="M93.9 314.0L93.4 314.2M93.4 314.2L93.0 314.5M93.0 314.5L92.6 314.8M92.6 314.8L92.2 315.1M92.2 315.1L92.0 315.4M92.0 315.4L91.7 315.8M116.0 317.8L116.4 318.2M116.4 318.2L116.7 318.5M116.7 318.5L117.1 318.9" stroke="#00e5ff" stroke-width="4.00" stroke-linecap="round" fill="none"/>
<path d="M91.7 315.8L91.5 316.2M91.5 316.2L91.4 316.6M91.4 316.6L91.3 317.0M91.3 317.0L91.4 317.4M91.4 317.4L91.5 317.8M113.3 316.2L113.9 316.6M113.9 316.6L114.5 316.9M114.5 316.9L115.0 317.2M115.0 317.2L115.5 317.5M115.5 317.5L116.0 317.8" stroke="#00e5ff" stroke-width="4.25" stroke-linecap="round" fill="none"/>
<path d="M91.5 317.8L91.6 318.2M91.6 318.2L91.9 318.5M91.9 318.5L92.1 318.9M92.1 318.9L92.5 319.3M92.5 319.3L92.9 319.7M92.9 319.7L93.4 320.0M93.4 320.0L93.9 320.3M106.5 318.7L107.2 318.2M107.2 318.2L107.8 317.7M107.8 317.7L108.4 317.1M108.4 317.1L109.0 316.7M109.0 316.7L109.5 316.2M109.5 316.2L110.1 315.9M110.1 315.9L110.7 315.7M110.7 315.7L111.3 315.7M111.3 315.7L112.0 315.8M112.0 315.8L112.6 316.0M112.6 316.0L113.3 316.2" stroke="#00e5ff" stroke-width="4.50" stroke-linecap="round" fill="none"/>
<path d="M93.9 320.3L94.5 320.7M94.5 320.7L95.2 321.1M95.2 321.1L96.0 321.5M96.0 321.5L96.9 321.8M96.9 321.8L97.8 322.1M97.8 322.1L98.6 322.4M98.6 322.4L99.5 322.5M99.5 322.5L100.2 322.5M100.2 322.5L101.0 322.4M101.0 322.4L101.7 322.1M101.7 322.1L102.4 321.7M102.4 321.7L103.2 321.2M103.2 321.2L103.9 320.7M103.9 320.7L104.6 320.1M104.6 320.1L105.2 319.6M105.2 319.6L105.9 319.2M105.9 319.2L106.5 318.7" stroke="#00e5ff" stroke-width="4.75" stroke-linecap="round" fill="none"/>
<path d="M106.0 205.8L106.0 206.1M106.0 206.1L106.0 206.7M106.0 206.7L106.0 207.2M106.0 207.2L106.0 207.9M106.0 207.9L106.0 208.6" stroke="#0000e6" stroke-width="0.75" stroke-linecap="round" fill="none"/>
<path d="M106.0 208.6L105.9 209.2M105.9 209.2L105.7 209.8M105.7 209.8L105.5 210.3M105.5 210.3L105.2 210.7M105.2 210.7L104.8 211.0M104.8 211.0L104.3 211.2M104.3 211.2L103.8 211.4M103.8 211.4L103.2 211.7M103.2 211.7L102.7 211.9M102.7 211.9L102.2 212.1M102.2 212.1L101.8 212.5M101.8 212.5L101.3 212.8M101.3 212.8L101.0 213.2" stroke="#0000e6" stroke-width="1.00" stroke-linecap="round" fill="none"/>
<path d="M101.0 213.2L100.6 213.6M100.6 213.6L100.2 214.0M98.4 218.1L98.3 218.6M98.3 218.6L98.2 219.2M98.2 219.2L98.1 219.8M98.1 219.8L98.0 220.3M98.0 220.3L97.8 220.8M97.8 220.8L97.6 221.3M97.6 221.3L97.4 221.8M97.4 221.8L97.2 222.3M97.2 222.3L97.1 222.8M97.1 222.8L96.9 223.2M96.9 223.2L96.8 223.7M96.8 223.7L96.8 224.2M96.8 224.2L96.9 224.7M96.9 224.7L97.1 225.2M97.1 225.2L97.4 225.6M97.4 225.6L97.7 226.1M98.4 230.8L98.3 231.5M98.3 231.5L98.2 232.3M98.2 232.3L98.1 233.0M98.1 233.0L98.0 233.7M98.0 233.7L97.9 234.4M97.9 234.4L97.8 235.1M97.8 235.1L97.7 235.9M97.7 235.9L97.6 236.6M97.6 236.6L97.5 237.3M97.5 237.3L97.4 238.0M97.4 238.0L97.4 238.7M97.4 238.7L97.4 239.3M97.4 239.3L97.5 239.9M97.5 239.9L97.6 240.4M97.6 240.4L97.8 241.0M97.8 241.0L98.0 241.5M98.0 241.5L98.2 241.9M98.2 241.9L98.4 242.4M98.4 242.4L98.6 242.9M98.6 242.9L98.8 243.3M98.8 243.3L99.0 243.8M99.0 243.8L99.2 244.3M99.2 244.3L99.4 244.7M99.4 244.7L99.6 245.2M99.6 245.2L99.8 245.6M99.8 245.6L99.9 246.0" stroke="#0000ff" stroke-width="1.00" stroke-linecap="round" fill="none"/>
<path d="M100.2 214.0L99.9 214.5M99.9 214.5L99.6 214.9M99.6 214.9L99.3 215.4M99.3 215.4L99.0 215.9M99.0 215.9L98.8 216.4M98.8 216.4L98.6 216.9M98.6 216.9L98.5 217.5M98.5 217.5L98.4 218.1M97.7 226.1L97.9 226.5M97.9 226.5L98.2 227.0M98.2 227.0L98.4 227.6M98.4 227.6L98.5 228.1M98.5 228.1L98.6 228.7M98.6 228.7L98.6 229.4M98.6 229.4L98.5 230.1M98.5 230.1L98.4 230.8" stroke="#0000ff" stroke-width="1.25" stroke-linecap="round" fill="none"/>
<path d="M99.9 246.0L100.0 246.3M100.0 246.3L100.1 246.6" stroke="#001aff" stroke-width="1.00" stroke-linecap="round" fill="none"/>
<path d="M132.0 214.7L131.8 215.0" stroke="#0000e6" stroke-width="0.50" stroke-linecap="round" fill="none"/>
<path d="M131.8 215.0L131.5 215.4M131.5 215.4L131.3 215.8" stroke="#0000e6" stroke-width="0.75" stroke-linecap="round" fill="none"/>
<path d="M131.3 215.8L130.9 216.3M130.9 216.3L130.6 216.9M130.6 216.9L130.3 217.4" stroke="#0000e6" stroke-width="1.00" stroke-linecap="round" fill="none"/>
<path d="M130.3 217.4L129.9 217.9M129.9 217.9L129.6 218.3" stroke="#0000e6" stroke-width="1.25" stroke-linecap="round" fill="none"/>
<path d="M129.6 218.3L129.3 218.6M129.3 218.6L129.0 218.9M129.0 218.9L128.7 219.2" stroke="#0000e6" stroke-width="1.50" stroke-linecap="round" fill="none"/>
<path d="M128.7 219.2L128.4 219.5M128.4 219.5L128.1 219.7" stroke="#0000e6" stroke-width="1.75" stroke-linecap="round" fill="none"/>
<path d="M128.1 219.7L127.8 220.0M127.8 220.0L127.5 220.3M127.5 220.3L127.2 220.6" stroke="#0000e6" stroke-width="2.00" stroke-linecap="round" fill="none"/>
<path d="M127.2 220.6L126.9 220.9M126.9 220.9L126.6 221.3M126.6 221.3L126.3 221.6" stroke="#0000e6" stroke-width="2.25" stroke-linecap="round" fill="none"/>
<path d="M126.3 221.6L126.0 222.0M126.0 222.0L125.7 222.4M125.7 222.4L125.4 222.8M125.4 222.8L125.1 223.1" stroke="#0000e6" stroke-width="2.50" stroke-linecap="round" fill="none"/>
<path d="M125.1 223.1L124.8 223.5M124.8 223.5L124.4 223.8M124.4 223.8L124.1 224.1" stroke="#0000e6" stroke-width="2.75" stroke-linecap="round" fill="none"/>
<path d="M124.1 224.1L123.7 224.4M123.7 224.4L123.3 224.6M123.3 224.6L122.9 224.9M122.9 224.9L122.5 225.2M119.7 226.9L119.5 227.2" stroke="#0000e6" stroke-width="3.00" stroke-linecap="round" fill="none"/>
<path d="M122.5 225.2L122.2 225.4M122.2 225.4L121.8 225.7M121.8 225.7L121.5 225.9M121.5 225.9L121.2 226.1M121.2 226.1L120.9 226.2M120.9 226.2L120.6 226.4M120.6 226.4L120.3 226.6M120.3 226.6L120.0 226.8M120.0 226.8L119.7 226.9M119.5 227.2L119.2 227.4M119.2 227.4L119.0 227.7M119.0 227.7L118.8 228.0" stroke="#0000e6" stroke-width="3.25" stroke-linecap="round" fill="none"/>
<path d="M118.8 228.0L118.6 228.3M118.6 228.3L118.4 228.6M118.4 228.6L118.2 228.9M116.8 231.0L116.6 231.4M116.6 231.4L116.4 231.7M116.4 231.7L116.1 232.1M116.1 232.1L115.9 232.5M115.9 232.5L115.6 232.8M115.6 232.8L115.3 233.2M115.3 233.2L115.0 233.6M115.0 233.6L114.7 234.0M114.7 234.0L114.4 234.3M114.4 234.3L114.1 234.7M114.1 234.7L113.8 235.0M113.8 235.0L113.5 235.3M113.5 235.3L113.2 235.6M113.2 235.6L112.9 236.0" stroke="#0000e6" stroke-width="3.50" stroke-linecap="round" fill="none"/>
<path d="M118.2 228.9L117.9 229.2M117.9 229.2L117.7 229.6M117.7 229.6L117.5 229.9M117.5 229.9L117.3 230.3M117.3 230.3L117.1 230.6M117.1 230.6L116.8 231.0" stroke="#0000e6" stroke-width="3.75" stroke-linecap="round" fill="none"/>
<path d="M112.9 236.0L112.6 236.3M112.6 236.3L112.3 236.5M112.3 236.5L112.0 236.8" stroke="#0000ff" stroke-width="3.25" stroke-linecap="round" fill="none"/>
<path d="M112.0 236.8L111.7 237.0M111.7 237.0L111.4 237.1M111.4 237.1L111.1 237.2M111.1 237.2L110.8 237.1" stroke="#0000ff" stroke-width="3.00" stroke-linecap="round" fill="none"/>
<path d="M110.8 237.1L110.5 237.0M110.5 237.0L110.2 236.8" stroke="#0000ff" stroke-width="2.75" stroke-linecap="round" fill="none"/>
<path d="M110.2 236.8L109.9 236.6M109.9 236.6L109.5 236.4M109.5 236.4L109.2 236.1" stroke="#0000ff" stroke-width="2.50" stroke-linecap="round" fill="none"/>
<path d="M109.2 236.1L109.0 235.8M109.0 235.8L108.7 235.5" stroke="#0000ff" stroke-width="2.25" stroke-linecap="round" fill="none"/>
<path d="M108.7 235.5L108.5 235.2M108.5 235.2L108.2 234.9M108.2 234.9L108.0 234.4" stroke="#0000ff" stroke-width="2.00" stroke-linecap="round" fill="none"/>
<path d="M108.0 234.4L107.8 234.0M107.8 234.0L107.6 233.6M107.6 233.6L107.4 233.3" stroke="#0000ff" stroke-width="1.75" stroke-linecap="round" fill="none"/>
<path d="M107.4 233.3L107.2 233.0M107.2 233.0L107.1 232.7" stroke="#0000ff" stroke-width="1.50" stroke-linecap="round" fill="none"/>
<path d="M107.1 232.7L107.1 233.1" stroke="#0000ff" stroke-width="1.25" stroke-linecap="round" fill="none"/>
<path d="M107.1 233.1L106.9 233.6M106.9 233.6L106.8 234.2" stroke="#0000ff" stroke-width="1.50" stroke-linecap="round" fill="none"/>
<path d="M106.8 234.2L106.7 234.9M106.7 234.9L106.5 235.6" stroke="#0000ff" stroke-width="1.75" stroke-linecap="round" fill="none"/>
<path d="M106.5 235.6L106.4 236.4" stroke="#0000ff" stroke-width="2.00" stroke-linecap="round" fill="none"/>
<path d="M106.4 236.4L106.2 237.1M106.2 237.1L106.1 237.7" stroke="#001aff" stroke-width="2.00" stroke-linecap="round" fill="none"/>
<path d="M106.1 237.7L105.9 238.4M105.9 238.4L105.8 239.0" stroke="#001aff" stroke-width="2.25" stroke-linecap="round" fill="none"/>
<path d="M105.8 239.0L105.6 239.7M105.6 239.7L105.4 240.3M105.4 240.3L105.3 241.0" stroke="#001aff" stroke-width="2.50" stroke-linecap="round" fill="none"/>
<path d="M105.3 241.0L105.1 241.6M105.1 241.6L105.0 242.2M105.0 242.2L104.9 242.8" stroke="#001aff" stroke-width="2.75" stroke-linecap="round" fill="none"/>
<path d="M104.9 242.8L104.8 243.4M104.8 243.4L104.7 244.1" stroke="#001aff" stroke-width="3.00" stroke-linecap="round" fill="none"/>
<path d="M104.7 244.1L104.6 244.7M104.6 244.7L104.5 245.4M104.5 245.4L104.4 245.9" stroke="#001aff" stroke-width="3.25" stroke-linecap="round" fill="none"/>
<path d="M104.4 245.9L104.4 246.5M104.4 246.5L104.3 246.9" stroke="#001aff" stroke-width="3.50" stroke-linecap="round" fill="none"/>
<path d="M104.3 246.9L104.3 247.2" stroke="#001aff" stroke-width="3.75" stroke-linecap="round" fill="none"/>
<path d="M105.4 242.3L105.5 242.9" stroke="#0033ff" stroke-width="3.75" stroke-linecap="round" fill="none"/>
<path d="M105.5 242.9L105.5 243.5" stroke="#0033ff" stroke-width="4.00" stroke-linecap="round" fill="none"/>
<path d="M105.5 243.5L105.6 244.4" stroke="#0033ff" stroke-width="4.50" stroke-linecap="round" fill="none"/>
<path d="M105.6 244.4L105.7 245.3" stroke="#0033ff" stroke-width="4.75" stroke-linecap="round" fill="none"/>
<path d="M105.7 245.3L105.7 246.3" stroke="#0033ff" stroke-width="5.00" stroke-linecap="round" fill="none"/>
<path d="M105.7 246.3L105.8 247.3" stroke="#0033ff" stroke-width="5.50" stroke-linecap="round" fill="none"/>
<path d="M105.8 247.3L105.8 248.2" stroke="#0033ff" stroke-width="5.75" stroke-linecap="round" fill="none"/>
<path d="M105.8 248.2L105.8 249.2M104.7 260.8L104.6 261.7M104.6 261.7L104.4 262.6" stroke="#004dff" stroke-width="6.00" stroke-linecap="round" fill="none"/>
<path d="M105.8 249.2L105.8 250.1M104.9 259.9L104.7 260.8" stroke="#004dff" stroke-width="6.25" stroke-linecap="round" fill="none"/>
<path d="M105.8 250.1L105.7 251.1M105.7 251.1L105.7 252.1M105.0 258.9L104.9 259.9" stroke="#004dff" stroke-width="6.50" stroke-linecap="round" fill="none"/>
<path d="M105.7 252.1L105.6 253.1M105.6 253.1L105.5 254.1M105.1 258.0L105.0 258.9" stroke="#004dff" stroke-width="6.75" stroke-linecap="round" fill="none"/>
<path d="M105.5 254.1L105.4 255.1M105.4 255.1L105.3 256.1M105.3 256.1L105.2 257.0M105.2 257.0L105.1 258.0" stroke="#004dff" stroke-width="7.00" stroke-linecap="round" fill="none"/>
<path d="M104.4 262.6L104.3 263.5" stroke="#004dff" stroke-width="5.75" stroke-linecap="round" fill="none"/>
<path d="M104.3 263.5L104.1 264.4" stroke="#004dff" stroke-width="5.50" stroke-linecap="round" fill="none"/>
<path d="M104.1 264.4L104.0 265.3" stroke="#004dff" stroke-width="5.00" stroke-linecap="round" fill="none"/>
<path d="M104.0 265.3L103.8 266.2" stroke="#004dff" stroke-width="4.75" stroke-linecap="round" fill="none"/>
<path d="M103.8 266.2L103.6 267.1" stroke="#004dff" stroke-width="4.25" stroke-linecap="round" fill="none"/>
<path d="M103.6 267.1L103.4 268.0" stroke="#004dff" stroke-width="4.00" stroke-linecap="round" fill="none"/>
<path d="M103.4 268.0L103.3 268.9" stroke="#004dff" stroke-width="3.50" stroke-linecap="round" fill="none"/>
<path d="M103.3 268.9L103.1 269.6" stroke="#004dff" stroke-width="3.00" stroke-linecap="round" fill="none"/>
<path d="M103.1 269.6L103.0 270.3" stroke="#004dff" stroke-width="2.75" stroke-linecap="round" fill="none"/>
<path d="M103.0 270.3L102.9 270.8" stroke="#004dff" stroke-width="2.25" stroke-linecap="round" fill="none"/>
<path d="M100.2 247.2L100.0 247.1M100.0 247.1L99.6 247.0M99.6 247.0L99.2 246.9M99.2 246.9L98.7 246.7M98.7 246.7L98.2 246.5M98.2 246.5L97.7 246.4M97.7 246.4L97.1 246.2M97.1 246.2L96.5 246.2M96.5 246.2L95.8 246.1M95.8 246.1L95.1 246.1M95.1 246.1L94.3 246.1M94.3 246.1L93.5 246.1M93.5 246.1L92.7 246.1" stroke="#0080ff" stroke-width="1.25" stroke-linecap="round" fill="none"/>
<path d="M92.7 246.1L91.9 246.2M91.9 246.2L91.0 246.4M91.0 246.4L90.2 246.6M90.2 246.6L89.4 246.8M89.4 246.8L88.6 247.1M88.6 247.1L87.8 247.5M87.8 247.5L86.9 247.9M86.9 247.9L86.1 248.4M86.1 248.4L85.3 248.8M100.5 268.6L100.6 269.2M100.6 269.2L100.8 269.8M100.8 269.8L100.9 270.4M100.9 270.4L101.0 271.0" stroke="#0080ff" stroke-width="1.50" stroke-linecap="round" fill="none"/>
<path d="M85.3 248.8L84.6 249.3M84.6 249.3L83.9 249.8M83.9 249.8L83.3 250.3M83.3 250.3L82.7 250.8M82.7 250.8L82.1 251.3M82.1 251.3L81.5 251.8M81.5 251.8L81.0 252.4M81.0 252.4L80.6 252.9M80.6 252.9L80.1 253.5M80.1 253.5L79.8 254.1M79.8 254.1L79.4 254.7M79.4 254.7L79.1 255.3M91.4 259.5L91.9 259.5M91.9 259.5L92.4 259.7M92.4 259.7L92.9 259.8M92.9 259.8L93.3 260.0M93.3 260.0L93.8 260.2M93.8 260.2L94.3 260.4M94.3 260.4L94.8 260.7M94.8 260.7L95.2 261.0M95.2 261.0L95.7 261.3M95.7 261.3L96.2 261.7M98.7 264.8L99.0 265.4M99.0 265.4L99.4 266.1M99.4 266.1L99.7 266.8M99.7 266.8L100.0 267.4M100.0 267.4L100.2 268.0M100.2 268.0L100.5 268.6" stroke="#0080ff" stroke-width="1.75" stroke-linecap="round" fill="none"/>
<path d="M79.1 255.3L78.8 256.0M78.8 256.0L78.5 256.7M78.5 256.7L78.3 257.3M78.3 257.3L78.2 258.0M78.2 258.0L78.1 258.7M78.1 258.7L78.1 259.3M78.1 259.3L78.1 259.9M78.1 259.9L78.2 260.6M78.2 260.6L78.4 261.3M78.4 261.3L78.6 261.9M78.6 261.9L78.8 262.5M78.8 262.5L79.1 263.1M79.1 263.1L79.4 263.6M79.4 263.6L79.8 264.1M79.8 264.1L80.1 264.5M88.7 261.1L89.0 260.7M89.0 260.7L89.3 260.3M89.3 260.3L89.7 259.9M89.7 259.9L90.0 259.7M90.0 259.7L90.5 259.5M90.5 259.5L90.9 259.5M90.9 259.5L91.4 259.5M96.2 261.7L96.7 262.1M96.7 262.1L97.1 262.5M97.1 262.5L97.5 263.0M97.5 263.0L97.9 263.5M97.9 263.5L98.3 264.1M98.3 264.1L98.7 264.8" stroke="#0099ff" stroke-width="1.75" stroke-linecap="round" fill="none"/>
<path d="M80.1 264.5L80.6 264.8M80.6 264.8L81.0 265.1M81.0 265.1L81.5 265.4M81.5 265.4L82.0 265.6M82.0 265.6L82.5 265.7M82.5 265.7L83.0 265.8M83.0 265.8L83.5 265.8M83.5 265.8L84.0 265.6M84.0 265.6L84.5 265.4M84.5 265.4L85.0 265.1M85.0 265.1L85.5 264.7M85.5 264.7L86.0 264.3M86.0 264.3L86.4 263.8M86.4 263.8L86.9 263.4M86.9 263.4L87.3 263.0M87.3 263.0L87.7 262.6M87.7 262.6L88.0 262.1M88.0 262.1L88.4 261.6M88.4 261.6L88.7 261.1" stroke="#0099ff" stroke-width="2.00" stroke-linecap="round" fill="none"/>
<path d="M101.0 271.0L101.1 271.5M101.1 271.5L101.2 271.9M101.2 271.9L101.3 272.2" stroke="#0066ff" stroke-width="1.50" stroke-linecap="round" fill="none"/>
<path d="M103.3 269.7L103.0 270.0M103.0 270.0L102.7 270.4M102.7 270.4L102.3 270.9M102.3 270.9L101.8 271.4M101.8 271.4L101.3 272.0M101.3 272.0L100.9 272.6M100.9 272.6L100.4 273.2M100.4 273.2L100.1 273.8M100.1 273.8L99.7 274.4M99.7 274.4L99.4 275.0M99.4 275.0L99.0 275.6M99.0 275.6L98.7 276.3M98.7 276.3L98.4 276.9M98.4 276.9L98.1 277.6M98.1 277.6L97.8 278.3M97.8 278.3L97.6 278.9M97.6 278.9L97.4 279.5M97.4 279.5L97.1 280.2M97.1 280.2L96.9 280.8M96.9 280.8L96.7 281.4M96.7 281.4L96.5 282.1M96.5 282.1L96.3 282.7M98.5 290.1L98.7 290.6M98.7 290.6L98.9 291.1M98.9 291.1L99.1 291.5M99.1 291.5L99.2 291.9M99.2 291.9L99.2 292.3M99.2 292.3L99.1 292.7M99.1 292.7L99.0 293.0M99.0 293.0L98.9 293.3M98.9 293.3L98.7 293.6" stroke="#004dff" stroke-width="1.25" stroke-linecap="round" fill="none"/>
<path d="M96.3 282.7L96.2 283.3M96.2 283.3L96.2 283.9M96.2 283.9L96.2 284.5M96.2 284.5L96.3 285.0M96.3 285.0L96.5 285.5M96.5 285.5L96.6 286.1M96.6 286.1L96.9 286.6M96.9 286.6L97.1 287.1M97.1 287.1L97.3 287.6M97.3 287.6L97.5 288.1M97.5 288.1L97.7 288.6M97.7 288.6L98.0 289.1M98.0 289.1L98.2 289.6M98.2 289.6L98.5 290.1" stroke="#004dff" stroke-width="1.50" stroke-linecap="round" fill="none"/>
<path d="M98.7 293.6L98.6 293.9M98.6 293.9L98.4 294.1M98.4 294.1L98.4 294.3" stroke="#004dff" stroke-width="1.00" stroke-linecap="round" fill="none"/>
<path d="M96.2 284.3L95.9 284.3M95.9 284.3L95.5 284.2M95.5 284.2L95.1 284.2M95.1 284.2L94.6 284.1M94.6 284.1L94.1 284.1" stroke="#0080ff" stroke-width="1.50" stroke-linecap="round" fill="none"/>
<path d="M94.1 284.1L93.6 284.0M93.6 284.0L93.1 284.0" stroke="#0099ff" stroke-width="1.50" stroke-linecap="round" fill="none"/>
<path d="M93.1 284.0L92.6 284.1M92.6 284.1L92.1 284.2M92.1 284.2L91.6 284.3M91.6 284.3L91.1 284.4M91.1 284.4L90.6 284.5M90.6 284.5L90.1 284.7" stroke="#0099ff" stroke-width="1.75" stroke-linecap="round" fill="none"/>
<path d="M90.1 284.7L89.6 284.8M89.6 284.8L89.2 285.0M89.2 285.0L88.8 285.3M88.8 285.3L88.6 285.5M88.6 285.5L88.3 285.8M88.3 285.8L88.1 286.1M88.1 286.1L87.9 286.4M87.9 286.4L87.8 286.8" stroke="#00b2ff" stroke-width="1.75" stroke-linecap="round" fill="none"/>
<path d="M87.8 286.8L87.8 287.1" stroke="#00ccff" stroke-width="1.75" stroke-linecap="round" fill="none"/>
<path d="M87.8 287.1L87.8 287.5M87.8 287.5L87.8 287.8M87.8 287.8L87.9 288.2M87.9 288.2L88.1 288.6M88.1 288.6L88.4 288.9M88.4 288.9L88.7 289.3M88.7 289.3L89.1 289.7M89.1 289.7L89.4 290.1M89.4 290.1L89.8 290.5M89.8 290.5L90.2 290.9M90.2 290.9L90.6 291.4M90.6 291.4L91.0 291.8M91.0 291.8L91.4 292.2M91.4 292.2L91.9 292.6M91.9 292.6L92.4 293.0M92.4 293.0L92.8 293.4M92.8 293.4L93.2 293.8M93.2 293.8L93.5 294.3" stroke="#00ccff" stroke-width="2.00" stroke-linecap="round" fill="none"/>
<path d="M93.5 294.3L93.8 294.7M93.8 294.7L94.0 295.2M94.0 295.2L94.2 295.7M94.2 295.7L94.4 296.2M94.4 296.2L94.6 296.7M94.6 296.7L94.7 297.2M94.7 297.2L94.8 297.7M94.8 297.7L94.9 298.2M94.9 298.2L95.0 298.7M95.0 298.7L94.9 299.3M94.9 299.3L94.9 299.8M94.9 299.8L94.8 300.3" stroke="#00e5ff" stroke-width="2.00" stroke-linecap="round" fill="none"/>
<path d="M94.8 300.3L94.7 300.9M94.7 300.9L94.7 301.4M94.7 301.4L94.8 301.9M94.8 301.9L94.9 302.3" stroke="#00e5ff" stroke-width="2.25" stroke-linecap="round" fill="none"/>
<path d="M94.9 302.3L95.2 302.7M95.2 302.7L95.6 303.0M95.6 303.0L96.0 303.4M96.0 303.4L96.4 303.6M96.4 303.6L96.9 303.9M117.8 319.9L118.0 320.2" stroke="#00ffff" stroke-width="2.25" stroke-linecap="round" fill="none"/>
<path d="M96.9 303.9L97.5 304.2M97.5 304.2L98.1 304.5M98.1 304.5L98.6 304.9M98.6 304.9L99.3 305.2M99.3 305.2L100.0 305.6M100.0 305.6L100.8 306.1" stroke="#1affe5" stroke-width="2.25" stroke-linecap="round" fill="none"/>
<path d="M100.8 306.1L101.6 306.5M101.6 306.5L102.3 306.9M102.3 306.9L103.1 307.3M103.1 307.3L103.7 307.8M103.7 307.8L104.3 308.2M100.0 313.6L99.2 313.4" stroke="#33ffcc" stroke-width="2.25" stroke-linecap="round" fill="none"/>
<path d="M104.3 308.2L104.8 308.6M104.8 308.6L105.3 309.1M105.3 309.1L105.7 309.5M105.7 309.5L106.0 310.0M106.0 310.0L106.3 310.4M106.3 310.4L106.5 310.8M105.1 313.4L104.6 313.7M104.6 313.7L104.0 313.9M104.0 313.9L103.4 314.1M103.4 314.1L102.9 314.1M102.9 314.1L102.2 314.1M102.2 314.1L101.5 313.9M101.5 313.9L100.7 313.8M100.7 313.8L100.0 313.6" stroke="#4dffb2" stroke-width="2.25" stroke-linecap="round" fill="none"/>
<path d="M106.5 310.8L106.7 311.2M106.7 311.2L106.7 311.6M106.7 311.6L106.5 312.0M106.5 312.0L106.3 312.4M106.3 312.4L106.0 312.8M106.0 312.8L105.6 313.1M105.6 313.1L105.1 313.4" stroke="#66ff99" stroke-width="2.25" stroke-linecap="round" fill="none"/>
<path d="M99.2 313.4L98.5 313.3M98.5 313.3L97.8 313.3M97.8 313.3L97.1 313.3M97.1 313.3L96.4 313.4M96.4 313.4L95.8 313.5M95.8 313.5L95.1 313.6M116.7 318.5L117.1 318.9" stroke="#33ffcc" stroke-width="2.50" stroke-linecap="round" fill="none"/>
<path d="M95.1 313.6L94.5 313.8M94.5 313.8L93.9 314.0M93.9 314.0L93.4 314.2M93.4 314.2L93.0 314.5M93.0 314.5L92.6 314.8M117.1 318.9L117.4 319.3M117.4 319.3L117.6 319.7" stroke="#1affe5" stroke-width="2.50" stroke-linecap="round" fill="none"/>
<path d="M92.6 314.8L92.2 315.1M92.2 315.1L92.0 315.4M92.0 315.4L91.7 315.8M91.7 315.8L91.5 316.2M91.5 316.2L91.4 316.6M91.4 316.6L91.3 317.0M91.3 317.0L91.4 317.4M91.4 317.4L91.5 317.8" stroke="#1affe5" stroke-width="2.75" stroke-linecap="round" fill="none"/>
<path d="M91.5 317.8L91.6 318.2M91.6 318.2L91.9 318.5M91.9 318.5L92.1 318.9" stroke="#1affe5" stroke-width="3.00" stroke-linecap="round" fill="none"/>
<path d="M92.1 318.9L92.5 319.3M92.5 319.3L92.9 319.7M92.9 319.7L93.4 320.0M93.4 320.0L93.9 320.3M93.9 320.3L94.5 320.7M94.5 320.7L95.2 321.1M95.2 321.1L96.0 321.5" stroke="#33ffcc" stroke-width="3.00" stroke-linecap="round" fill="none"/>
<path d="M96.0 321.5L96.9 321.8M96.9 321.8L97.8 322.1M97.8 322.1L98.6 322.4" stroke="#4dffb2" stroke-width="3.00" stroke-linecap="round" fill="none"/>
<path d="M98.6 322.4L99.5 322.5M99.5 322.5L100.2 322.5M100.2 322.5L101.0 322.4" stroke="#4dffb2" stroke-width="3.25" stroke-linecap="round" fill="none"/>
<path d="M101.0 322.4L101.7 322.1" stroke="#66ff99" stroke-width="3.25" stroke-linecap="round" fill="none"/>
<path d="M101.7 322.1L102.4 321.7M102.4 321.7L103.2 321.2M103.2 321.2L103.9 320.7M103.9 320.7L104.6 320.1" stroke="#66ff99" stroke-width="3.00" stroke-linecap="round" fill="none"/>
<path d="M104.6 320.1L105.2 319.6M105.2 319.6L105.9 319.2M105.9 319.2L106.5 318.7M106.5 318.7L107.2 318.2M112.6 316.0L113.3 316.2" stroke="#80ff80" stroke-width="3.00" stroke-linecap="round" fill="none"/>
<path d="M107.2 318.2L107.8 317.7M107.8 317.7L108.4 317.1M108.4 317.1L109.0 316.7M109.0 316.7L109.5 316.2M111.3 315.7L112.0 315.8M112.0 315.8L112.6 316.0" stroke="#99ff66" stroke-width="3.00" stroke-linecap="round" fill="none"/>
<path d="M109.5 316.2L110.1 315.9M110.1 315.9L110.7 315.7M110.7 315.7L111.3 315.7" stroke="#b3ff4c" stroke-width="3.00" stroke-linecap="round" fill="none"/>
<path d="M113.3 316.2L113.9 316.6" stroke="#80ff80" stroke-width="2.75" stroke-linecap="round" fill="none"/>
<path d="M113.9 316.6L114.5 316.9M114.5 316.9L115.0 317.2" stroke="#66ff99" stroke-width="2.75" stroke-linecap="round" fill="none"/>
<path d="M115.0 317.2L115.5 317.5M115.5 317.5L116.0 317.8M116.0 317.8L116.4 318.2" stroke="#4dffb2" stroke-width="2.75" stroke-linecap="round" fill="none"/>
<path d="M116.4 318.2L116.7 318.5" stroke="#33ffcc" stroke-width="2.75" stroke-linecap="round" fill="none"/>
<path d="M117.6 319.7L117.8 319.9" stroke="#00ffff" stroke-width="2.50" stroke-linecap="round" fill="none"/>
<path d="M92.9 313.7L92.6 313.4M92.6 313.4L92.3 312.9" stroke="#0080ff" stroke-width="1.50" stroke-linecap="round" fill="none"/>
<path d="M92.3 312.9L91.9 312.4M91.9 312.4L91.5 311.9M91.5 311.9L91.0 311.3M91.0 311.3L90.6 310.8M90.6 310.8L90.1 310.3" stroke="#0066ff" stroke-width="1.50" stroke-linecap="round" fill="none"/>
<path d="M90.1 310.3L89.8 309.9M89.8 309.9L89.4 309.5M89.4 309.5L89.2 309.2M89.2 309.2L88.9 308.9M88.9 308.9L88.6 308.6M88.6 308.6L88.4 308.4M88.4 308.4L88.1 308.3M88.1 308.3L87.8 308.2M87.8 308.2L87.5 308.2M87.5 308.2L87.2 308.3M87.2 308.3L86.8 308.5M86.8 308.5L86.4 308.8M86.4 308.8L86.0 309.1M86.0 309.1L85.6 309.5M85.6 309.5L85.2 309.9M85.2 309.9L84.9 310.3M84.9 310.3L84.5 310.6M84.5 310.6L84.1 311.1M84.1 311.1L83.7 311.5M83.7 311.5L83.4 312.0M83.4 312.0L83.0 312.6M83.0 312.6L82.7 313.1M82.7 313.1L82.3 313.5M82.3 313.5L81.9 313.8M81.9 313.8L81.5 314.1M81.5 314.1L81.0 314.2M81.0 314.2L80.5 314.2M80.5 314.2L80.0 314.2M80.0 314.2L79.5 314.1M79.5 314.1L79.0 314.0M79.0 314.0L78.5 313.7M78.5 313.7L77.9 313.5M77.9 313.5L77.4 313.2M77.4 313.2L76.8 312.8M76.8 312.8L76.2 312.3M76.2 312.3L75.6 311.8M75.6 311.8L75.0 311.2M75.0 311.2L74.4 310.5M74.4 310.5L73.8 310.0" stroke="#0066ff" stroke-width="1.25" stroke-linecap="round" fill="none"/>
<path d="M73.8 310.0L73.2 309.4M73.2 309.4L72.6 309.0M72.6 309.0L72.0 308.6M72.0 308.6L71.4 308.3M71.4 308.3L70.8 307.9M70.8 307.9L70.2 307.7M70.2 307.7L69.6 307.4M69.6 307.4L69.0 307.2M69.0 307.2L68.4 307.1M68.4 307.1L67.8 307.0M67.8 307.0L67.2 307.0M67.2 307.0L66.5 307.0" stroke="#004dff" stroke-width="1.25" stroke-linecap="round" fill="none"/>
<path d="M66.5 307.0L65.9 307.1M65.9 307.1L65.3 307.3M65.3 307.3L64.7 307.5M64.7 307.5L64.1 307.7M64.1 307.7L63.5 307.9M63.5 307.9L62.9 308.2M62.9 308.2L62.3 308.5M62.3 308.5L61.6 308.9M61.6 308.9L61.0 309.3M61.0 309.3L60.4 309.7M60.4 309.7L59.8 310.2M59.8 310.2L59.2 310.6M59.2 310.6L58.6 311.1M58.6 311.1L58.0 311.5M58.0 311.5L57.4 312.0M57.4 312.0L56.8 312.4M56.8 312.4L56.2 312.8" stroke="#004dff" stroke-width="1.00" stroke-linecap="round" fill="none"/>
<path d="M56.2 312.8L55.5 313.3M55.5 313.3L54.9 313.7M54.9 313.7L54.3 314.1M54.3 314.1L53.7 314.5M53.7 314.5L53.2 314.9M53.2 314.9L52.8 315.2M52.8 315.2L52.3 315.5M52.3 315.5L51.9 315.7M51.9 315.7L51.5 316.0" stroke="#004dff" stroke-width="0.75" stroke-linecap="round" fill="none"/>
<path d="M51.5 316.0L51.1 316.2M51.1 316.2L50.8 316.3M50.8 316.3L50.5 316.5M50.5 316.5L50.3 316.6" stroke="#004dff" stroke-width="0.50" stroke-linecap="round" fill="none"/>
<path d="M98.6 304.9L99.1 305.1M99.1 305.1L99.7 305.5M94.5 313.8L93.9 314.0M93.9 314.0L93.4 314.2M93.4 314.2L93.0 314.5M93.0 314.5L92.6 314.8M92.6 314.8L92.2 315.1M92.2 315.1L92.0 315.4M92.0 315.4L91.7 315.8M91.7 315.8L91.5 316.2M91.5 316.2L91.4 316.6M91.4 316.6L91.3 317.0M91.3 317.0L91.4 317.4M91.4 317.4L91.5 317.8M91.5 317.8L91.6 318.2M91.6 318.2L91.9 318.5M117.1 318.9L117.4 319.3M117.4 319.3L117.6 319.7" stroke="#ccff33" stroke-width="0.75" stroke-linecap="round" fill="none" opacity="0.85"/>
<path d="M99.7 305.5L100.5 305.9M100.5 305.9L101.3 306.3M101.3 306.3L102.2 306.8M102.2 306.8L103.0 307.3M103.0 307.3L103.7 307.8M99.2 313.4L98.5 313.3M98.5 313.3L97.8 313.3M97.8 313.3L97.1 313.3M97.1 313.3L96.4 313.4M96.4 313.4L95.8 313.5M95.8 313.5L95.1 313.6M95.1 313.6L94.5 313.8M91.9 318.5L92.1 318.9M92.1 318.9L92.5 319.3M92.5 319.3L92.9 319.7M92.9 319.7L93.4 320.0M93.4 320.0L93.9 320.3M93.9 320.3L94.5 320.7M94.5 320.7L95.2 321.1M116.4 318.2L116.7 318.5M116.7 318.5L117.1 318.9" stroke="#e5ff1a" stroke-width="0.75" stroke-linecap="round" fill="none" opacity="0.85"/>
<path d="M103.7 307.8L104.3 308.2M104.3 308.2L104.8 308.6M104.8 308.6L105.3 309.1M105.3 309.1L105.7 309.5M105.7 309.5L106.0 310.0M106.0 310.0L106.3 310.4M104.0 313.9L103.4 314.1M103.4 314.1L102.9 314.1M102.9 314.1L102.2 314.1M102.2 314.1L101.5 313.9M101.5 313.9L100.7 313.8M100.7 313.8L100.0 313.6M100.0 313.6L99.2 313.4M95.2 321.1L96.0 321.5M96.0 321.5L96.9 321.8M96.9 321.8L97.8 322.1M97.8 322.1L98.6 322.4M98.6 322.4L99.5 322.5M99.5 322.5L100.2 322.5M115.5 317.5L116.0 317.8M116.0 317.8L116.4 318.2" stroke="#ffff00" stroke-width="0.75" stroke-linecap="round" fill="none" opacity="0.85"/>
<path d="M106.3 310.4L106.5 310.8M106.5 310.8L106.7 311.2M106.7 311.2L106.7 311.6M106.7 311.6L106.5 312.0M106.5 312.0L106.3 312.4M106.3 312.4L106.0 312.8M106.0 312.8L105.6 313.1M105.6 313.1L105.1 313.4M105.1 313.4L104.6 313.7M104.6 313.7L104.0 313.9M100.2 322.5L101.0 322.4M101.0 322.4L101.7 322.1M101.7 322.1L102.4 321.7M102.4 321.7L103.2 321.2M103.2 321.2L103.9 320.7M113.9 316.6L114.5 316.9M114.5 316.9L115.0 317.2M115.0 317.2L115.5 317.5" stroke="#ffe500" stroke-width="0.75" stroke-linecap="round" fill="none" opacity="0.85"/>
<path d="M103.9 320.7L104.6 320.1M104.6 320.1L105.2 319.6M105.2 319.6L105.9 319.2M105.9 319.2L106.5 318.7M106.5 318.7L107.2 318.2M112.6 316.0L113.3 316.2M113.3 316.2L113.9 316.6" stroke="#ffcc00" stroke-width="0.75" stroke-linecap="round" fill="none" opacity="0.85"/>
<path d="M107.2 318.2L107.8 317.7M107.8 317.7L108.4 317.1M108.4 317.1L109.0 316.7M109.0 316.7L109.5 316.2M109.5 316.2L110.1 315.9M111.3 315.7L112.0 315.8M112.0 315.8L112.6 316.0" stroke="#ffb300" stroke-width="0.75" stroke-linecap="round" fill="none" opacity="0.85"/>
<path d="M110.1 315.9L110.7 315.7M110.7 315.7L111.3 315.7" stroke="#ff9900" stroke-width="0.75" stroke-linecap="round" fill="none" opacity="0.85"/>
<path d="M117.6 319.7L117.8 319.9M117.8 319.9L118.0 320.2" stroke="#b3ff4c" stroke-width="0.75" stroke-linecap="round" fill="none" opacity="0.85"/>
<path d="M99.3 246.8L99.1 247.2M99.1 247.2L98.9 247.7M98.9 247.7L98.6 248.3M98.6 248.3L98.3 249.0M98.3 249.0L98.0 249.8M98.0 249.8L97.7 250.6M97.7 250.6L97.5 251.4M97.5 251.4L97.4 252.1M97.4 252.1L97.4 253.0M97.4 253.0L97.5 253.9M97.5 253.9L97.7 254.9M97.7 254.9L97.9 255.9M97.9 255.9L98.1 256.9M98.1 256.9L98.3 257.7M98.3 257.7L98.5 258.5M98.5 258.5L98.6 259.0" stroke="#004dff" stroke-width="0.50" stroke-linecap="round" fill="none" opacity="0.80"/>
<path d="M97.4 246.1L97.6 246.5M97.6 246.5L97.8 247.1M97.8 247.1L98.1 247.7M98.1 247.7L98.4 248.5M98.4 248.5L98.6 249.3M98.6 249.3L98.9 250.1M98.9 250.1L99.0 250.9M99.0 250.9L99.0 251.7M99.0 251.7L98.9 252.4M98.9 252.4L98.6 253.2M98.6 253.2L98.2 254.1M98.2 254.1L97.8 254.9M97.8 254.9L97.4 255.7M97.4 255.7L97.0 256.5M97.0 256.5L96.7 257.1M96.7 257.1L96.5 257.5" stroke="#0066ff" stroke-width="0.50" stroke-linecap="round" fill="none" opacity="0.80"/>
<path d="M100.7 246.3L100.6 246.8M100.6 246.8L100.5 247.5M100.5 247.5L100.3 248.3M100.3 248.3L100.1 249.3M100.1 249.3L99.9 250.2M99.9 250.2L99.8 251.2M99.8 251.2L99.6 252.2M99.6 252.2L99.6 253.1M99.6 253.1L99.6 254.0M99.6 254.0L99.7 255.0M99.7 255.0L99.8 256.0M99.8 256.0L99.9 257.0M99.9 257.0L100.0 257.9M100.0 257.9L100.2 258.7M100.2 258.7L100.3 259.5M100.3 259.5L100.3 260.0" stroke="#0033ff" stroke-width="0.50" stroke-linecap="round" fill="none" opacity="0.80"/>
<path d="M103.5 245.3L103.6 245.9M103.6 245.9L103.8 246.7M103.8 246.7L103.9 247.6M103.9 247.6L104.1 248.6M104.1 248.6L104.3 249.8M104.3 249.8L104.4 250.9M104.4 250.9L104.5 252.0M104.5 252.0L104.5 253.1M104.5 253.1L104.4 254.2M104.4 254.2L104.3 255.5M104.3 255.5L104.1 256.7M104.1 256.7L103.8 258.0M103.8 258.0L103.6 259.2M103.6 259.2L103.4 260.3M103.4 260.3L103.2 261.3M103.2 261.3L103.1 261.9" stroke="#00b2ff" stroke-width="0.75" stroke-linecap="round" fill="none" opacity="0.80"/>
<path d="M106.6 246.3L106.6 246.9M106.6 246.9L106.7 247.6M106.7 247.6L106.8 248.5M106.8 248.5L107.0 249.6M107.0 249.6L107.1 250.7M107.1 250.7L107.1 251.8M107.1 251.8L107.2 253.0M107.2 253.0L107.1 254.1M107.1 254.1L107.0 255.3M107.0 255.3L106.8 256.6M106.8 256.6L106.5 258.1M106.5 258.1L106.2 259.5M106.2 259.5L105.9 260.9M105.9 260.9L105.6 262.1M105.6 262.1L105.4 263.1M105.4 263.1L105.2 263.9" stroke="#00b2ff" stroke-width="0.75" stroke-linecap="round" fill="none" opacity="0.80"/>
<path d="M107.3 318.4L107.5 318.2" stroke="#ff6600" stroke-width="1.00" stroke-linecap="round" fill="none"/>
<path d="M107.5 318.2L107.8 318.0M107.8 318.0L108.2 317.7M111.8 316.2L112.1 316.2" stroke="#ff4c00" stroke-width="1.00" stroke-linecap="round" fill="none"/>
<path d="M108.2 317.7L108.6 317.4M108.6 317.4L109.0 317.1M111.2 316.2L111.5 316.2M111.5 316.2L111.8 316.2" stroke="#ff3300" stroke-width="1.00" stroke-linecap="round" fill="none"/>
<path d="M109.0 317.1L109.4 316.8M109.4 316.8L109.8 316.6M110.5 316.3L110.8 316.3M110.8 316.3L111.2 316.2" stroke="#ff1a00" stroke-width="1.00" stroke-linecap="round" fill="none"/>
<path d="M109.8 316.6L110.2 316.4M110.2 316.4L110.5 316.3" stroke="#ff0000" stroke-width="1.00" stroke-linecap="round" fill="none"/>
<path d="M112.1 316.2L112.3 316.2" stroke="#ff4c00" stroke-width="0.75" stroke-linecap="round" fill="none"/>
<path d="M112.3 316.2L112.5 316.2" stroke="#ff6600" stroke-width="0.75" stroke-linecap="round" fill="none"/>
<path d="M94.7 299.2L94.7 299.4M94.7 299.4L94.7 299.8" stroke="#ff9900" stroke-width="1.00" stroke-linecap="round" fill="none"/>
<path d="M94.7 299.8L94.8 300.2M94.8 300.2L94.8 300.6M94.8 300.6L94.9 301.1M94.9 301.1L94.9 301.5" stroke="#ff8000" stroke-width="1.00" stroke-linecap="round" fill="none"/>
<path d="M94.9 301.5L94.9 301.9M94.9 301.9L95.0 302.1" stroke="#ff6600" stroke-width="1.00" stroke-linecap="round" fill="none"/>
</g>
<path d="M348.1 99.2L346.1 107.0L445.2 141.9L488.1 53.0" fill="none" stroke="#a8a8a8" stroke-width="0.55"/>
<text x="342.60" y="103.30" font-size="6.10" text-anchor="middle" fill="#1c1c1c" transform="rotate(-90 342.60 103.30)" stroke="#1c1c1c" stroke-width="0.10">Z-axis</text>
<text x="416.70" y="154.40" font-size="6.20" text-anchor="middle" fill="#1c1c1c" stroke="#1c1c1c" stroke-width="0.10">X-axis</text>
<text x="473.30" y="134.80" font-size="6.20" text-anchor="middle" fill="#1c1c1c" stroke="#1c1c1c" stroke-width="0.10">Y-axis</text>
<path d="M352.8 273.9L351.1 280.6L448.1 313.9L488.1 226.1" fill="none" stroke="#a8a8a8" stroke-width="0.55"/>
<text x="349.30" y="277.30" font-size="5.40" text-anchor="middle" fill="#1c1c1c" transform="rotate(-90 349.30 277.30)" stroke="#1c1c1c" stroke-width="0.10">Z-axis</text>
<text x="419.30" y="326.50" font-size="6.20" text-anchor="middle" fill="#1c1c1c" stroke="#1c1c1c" stroke-width="0.10">X-axis</text>
<text x="473.00" y="306.10" font-size="6.20" text-anchor="middle" fill="#1c1c1c" stroke="#1c1c1c" stroke-width="0.10">Y-axis</text>
<g id="grasp-toa">
<path d="M431.3 43.0L431.1 43.3M431.1 43.3L430.8 43.7M430.8 43.7L430.4 44.2" stroke="#0000cc" stroke-width="1.00" stroke-linecap="round" fill="none"/>
<path d="M430.4 44.2L429.9 44.8M429.9 44.8L429.5 45.4M429.5 45.4L429.1 45.9M429.1 45.9L428.8 46.3M428.8 46.3L428.6 46.6" stroke="#0000e5" stroke-width="1.00" stroke-linecap="round" fill="none"/>
<path d="M431.0 42.9h1.20v1.20h-1.20zM430.2 43.3h1.20v1.20h-1.20zM430.4 42.9h1.20v1.20h-1.20zM429.3 43.5h1.20v1.20h-1.20zM429.0 43.5h1.20v1.20h-1.20zM429.5 45.4h1.20v1.20h-1.20zM428.6 45.0h1.20v1.20h-1.20zM428.2 45.9h1.20v1.20h-1.20z" fill="#0000df"/>
<path d="M429.7 44.6h1.20v1.20h-1.20z" fill="#0000bf"/>
<path d="M428.9 45.6h1.20v1.20h-1.20z" fill="#0000ff"/>
<path d="M423.5 51.0L423.6 51.3M423.6 51.3L423.8 51.6" stroke="#004cff" stroke-width="1.00" stroke-linecap="round" fill="none"/>
<path d="M423.8 51.6L424.0 52.0M424.0 52.0L424.2 52.5" stroke="#0066ff" stroke-width="1.00" stroke-linecap="round" fill="none"/>
<path d="M424.2 52.5L424.4 53.0" stroke="#0066ff" stroke-width="1.25" stroke-linecap="round" fill="none"/>
<path d="M424.4 53.0L424.5 53.5M424.5 53.5L424.6 54.0M424.6 54.0L424.6 54.4" stroke="#0080ff" stroke-width="1.25" stroke-linecap="round" fill="none"/>
<path d="M424.6 54.4L424.5 54.8M424.5 54.8L424.2 55.2M424.2 55.2L423.9 55.5" stroke="#0099ff" stroke-width="1.25" stroke-linecap="round" fill="none"/>
<path d="M423.9 55.5L423.6 55.9M423.6 55.9L423.2 56.3" stroke="#00b3ff" stroke-width="1.25" stroke-linecap="round" fill="none"/>
<path d="M423.2 56.3L422.9 56.6M422.9 56.6L422.6 57.0" stroke="#00ccff" stroke-width="1.25" stroke-linecap="round" fill="none"/>
<path d="M422.6 57.0L422.4 57.3" stroke="#00ccff" stroke-width="1.00" stroke-linecap="round" fill="none"/>
<path d="M422.4 57.3L422.3 57.6M422.3 57.6L422.3 58.0M422.3 58.0L422.3 58.4M422.3 58.4L422.4 58.7M422.4 58.7L422.5 59.1" stroke="#00e5ff" stroke-width="1.00" stroke-linecap="round" fill="none"/>
<path d="M422.5 59.1L422.6 59.4M422.6 59.4L422.7 59.6M422.7 59.6L422.7 59.8" stroke="#00ffff" stroke-width="0.75" stroke-linecap="round" fill="none"/>
<path d="M423.3 50.4h1.20v1.20h-1.20zM423.0 51.0h1.20v1.20h-1.20z" fill="#0040ff"/>
<path d="M423.6 51.0h1.20v1.20h-1.20zM423.7 52.9h1.20v1.20h-1.20zM422.9 53.3h1.20v1.20h-1.20zM423.7 53.4h1.20v1.20h-1.20zM424.6 53.3h1.20v1.20h-1.20zM424.4 54.0h1.20v1.20h-1.20zM424.1 53.9h1.20v1.20h-1.20z" fill="#0080ff"/>
<path d="M423.1 51.7h1.20v1.20h-1.20zM423.0 51.5h1.20v1.20h-1.20zM424.2 52.4h1.20v1.20h-1.20zM423.8 52.3h1.20v1.20h-1.20z" fill="#0060ff"/>
<path d="M423.0 54.3h1.20v1.20h-1.20zM422.9 53.9h1.20v1.20h-1.20zM423.7 55.2h1.20v1.20h-1.20zM422.7 55.4h1.20v1.20h-1.20z" fill="#009fff"/>
<path d="M423.4 55.3h1.20v1.20h-1.20zM421.6 55.8h1.20v1.20h-1.20zM422.4 56.1h1.20v1.20h-1.20zM422.0 56.8h1.20v1.20h-1.20z" fill="#00bfff"/>
<path d="M422.5 55.4h1.20v1.20h-1.20zM422.6 56.6h1.20v1.20h-1.20zM422.5 56.7h1.20v1.20h-1.20zM422.2 57.4h1.20v1.20h-1.20zM422.4 57.7h1.20v1.20h-1.20z" fill="#00dfff"/>
<path d="M421.9 58.3h1.20v1.20h-1.20zM422.3 58.6h1.20v1.20h-1.20z" fill="#00ffff"/>
<path d="M421.5 59.1h1.20v1.20h-1.20z" fill="#20ffdf"/>
<path d="M451.0 47.8L450.5 48.1M450.5 48.1L450.0 48.4M450.0 48.4L449.2 48.9M449.2 48.9L448.4 49.3" stroke="#ccff33" stroke-width="1.50" stroke-linecap="round" fill="none"/>
<path d="M448.4 49.3L447.6 49.9" stroke="#ccff33" stroke-width="1.75" stroke-linecap="round" fill="none"/>
<path d="M447.6 49.9L446.7 50.4M446.7 50.4L445.9 50.9M445.9 50.9L445.1 51.4M445.1 51.4L444.3 51.9" stroke="#b3ff4c" stroke-width="1.75" stroke-linecap="round" fill="none"/>
<path d="M444.3 51.9L443.5 52.4M443.5 52.4L442.7 52.9" stroke="#99ff66" stroke-width="1.75" stroke-linecap="round" fill="none"/>
<path d="M442.7 52.9L441.9 53.5M441.9 53.5L441.1 54.0" stroke="#80ff80" stroke-width="1.75" stroke-linecap="round" fill="none"/>
<path d="M441.1 54.0L440.3 54.5M440.3 54.5L439.5 55.0" stroke="#66ff99" stroke-width="1.75" stroke-linecap="round" fill="none"/>
<path d="M439.5 55.0L438.7 55.5M438.7 55.5L437.9 56.0" stroke="#4cffb3" stroke-width="1.75" stroke-linecap="round" fill="none"/>
<path d="M437.9 56.0L437.1 56.5" stroke="#4cffb3" stroke-width="2.00" stroke-linecap="round" fill="none"/>
<path d="M437.1 56.5L436.2 56.9M436.2 56.9L435.4 57.4M435.4 57.4L434.5 57.8M434.5 57.8L433.7 58.2" stroke="#66ff99" stroke-width="2.00" stroke-linecap="round" fill="none"/>
<path d="M433.7 58.2L433.0 58.6M433.0 58.6L432.2 59.0M432.2 59.0L431.5 59.3" stroke="#80ff80" stroke-width="2.00" stroke-linecap="round" fill="none"/>
<path d="M431.5 59.3L430.7 59.7M430.7 59.7L429.9 59.9" stroke="#99ff66" stroke-width="2.00" stroke-linecap="round" fill="none"/>
<path d="M429.9 59.9L429.2 60.2M429.2 60.2L428.5 60.5" stroke="#b3ff4c" stroke-width="2.00" stroke-linecap="round" fill="none"/>
<path d="M428.5 60.5L427.9 60.7M427.9 60.7L427.4 60.9" stroke="#ccff33" stroke-width="2.00" stroke-linecap="round" fill="none"/>
<path d="M427.4 60.9L427.0 61.0" stroke="#e5ff1a" stroke-width="2.00" stroke-linecap="round" fill="none"/>
<path d="M450.7 48.4h1.20v1.20h-1.20zM449.9 46.7h1.20v1.20h-1.20zM449.9 48.4h1.20v1.20h-1.20zM448.6 47.3h1.20v1.20h-1.20zM450.0 48.0h1.20v1.20h-1.20zM449.1 48.9h1.20v1.20h-1.20zM448.0 48.7h1.20v1.20h-1.20zM448.5 47.7h1.20v1.20h-1.20zM447.0 48.1h1.20v1.20h-1.20zM448.3 49.8h1.20v1.20h-1.20zM447.1 47.9h1.20v1.20h-1.20zM445.6 48.7h1.20v1.20h-1.20zM446.7 50.0h1.20v1.20h-1.20zM445.7 48.8h1.20v1.20h-1.20zM445.7 51.6h1.20v1.20h-1.20zM445.2 49.5h1.20v1.20h-1.20zM444.7 50.5h1.20v1.20h-1.20zM444.6 50.0h1.20v1.20h-1.20zM445.7 50.9h1.20v1.20h-1.20zM444.5 49.8h1.20v1.20h-1.20zM443.1 50.2h1.20v1.20h-1.20zM443.1 49.9h1.20v1.20h-1.20zM444.4 51.0h1.20v1.20h-1.20zM442.9 51.0h1.20v1.20h-1.20zM443.6 52.1h1.20v1.20h-1.20zM429.6 60.5h1.20v1.20h-1.20zM428.5 58.1h1.20v1.20h-1.20zM429.1 59.3h1.20v1.20h-1.20zM429.8 60.1h1.20v1.20h-1.20zM428.9 59.0h1.20v1.20h-1.20zM428.3 58.8h1.20v1.20h-1.20zM427.4 58.5h1.20v1.20h-1.20zM426.7 59.4h1.20v1.20h-1.20zM427.3 59.9h1.20v1.20h-1.20zM427.9 60.8h1.20v1.20h-1.20z" fill="#bfff40"/>
<path d="M449.6 47.2h1.20v1.20h-1.20zM449.5 47.7h1.20v1.20h-1.20zM448.1 49.0h1.20v1.20h-1.20zM446.7 47.9h1.20v1.20h-1.20zM447.4 48.9h1.20v1.20h-1.20zM427.3 58.6h1.20v1.20h-1.20zM427.0 58.6h1.20v1.20h-1.20zM427.4 61.6h1.20v1.20h-1.20zM426.8 60.4h1.20v1.20h-1.20z" fill="#dfff20"/>
<path d="M448.0 48.9h1.20v1.20h-1.20zM447.0 49.3h1.20v1.20h-1.20zM445.4 49.8h1.20v1.20h-1.20zM446.5 49.8h1.20v1.20h-1.20zM446.4 49.8h1.20v1.20h-1.20zM443.9 51.2h1.20v1.20h-1.20zM444.0 51.0h1.20v1.20h-1.20zM444.1 50.4h1.20v1.20h-1.20zM443.4 51.7h1.20v1.20h-1.20zM442.9 52.0h1.20v1.20h-1.20zM442.0 51.6h1.20v1.20h-1.20zM441.2 51.3h1.20v1.20h-1.20zM443.1 53.4h1.20v1.20h-1.20zM432.3 58.3h1.20v1.20h-1.20zM431.7 59.2h1.20v1.20h-1.20zM430.7 58.4h1.20v1.20h-1.20zM430.1 60.3h1.20v1.20h-1.20zM429.9 58.1h1.20v1.20h-1.20zM430.2 59.7h1.20v1.20h-1.20zM430.5 59.9h1.20v1.20h-1.20zM429.6 60.1h1.20v1.20h-1.20zM428.6 61.3h1.20v1.20h-1.20zM428.9 60.7h1.20v1.20h-1.20z" fill="#9fff60"/>
<path d="M441.9 51.1h1.20v1.20h-1.20zM443.1 51.8h1.20v1.20h-1.20zM441.0 51.8h1.20v1.20h-1.20zM441.6 51.2h1.20v1.20h-1.20zM441.6 54.0h1.20v1.20h-1.20zM441.6 53.6h1.20v1.20h-1.20zM441.4 53.6h1.20v1.20h-1.20zM440.2 54.6h1.20v1.20h-1.20zM440.1 53.8h1.20v1.20h-1.20zM434.9 56.1h1.20v1.20h-1.20zM435.9 57.9h1.20v1.20h-1.20zM434.6 58.1h1.20v1.20h-1.20zM434.3 57.8h1.20v1.20h-1.20zM434.9 58.3h1.20v1.20h-1.20zM432.2 57.0h1.20v1.20h-1.20zM432.1 56.5h1.20v1.20h-1.20zM433.5 57.4h1.20v1.20h-1.20zM432.9 56.4h1.20v1.20h-1.20zM432.6 57.9h1.20v1.20h-1.20zM432.2 57.1h1.20v1.20h-1.20zM431.3 57.6h1.20v1.20h-1.20zM432.4 58.5h1.20v1.20h-1.20zM430.5 57.0h1.20v1.20h-1.20zM430.3 57.2h1.20v1.20h-1.20zM431.5 60.2h1.20v1.20h-1.20zM430.8 59.8h1.20v1.20h-1.20zM430.5 60.1h1.20v1.20h-1.20z" fill="#80ff80"/>
<path d="M441.7 52.6h1.20v1.20h-1.20zM440.5 51.8h1.20v1.20h-1.20zM440.8 52.2h1.20v1.20h-1.20zM441.1 53.6h1.20v1.20h-1.20zM440.8 55.1h1.20v1.20h-1.20zM439.3 52.9h1.20v1.20h-1.20zM438.9 54.8h1.20v1.20h-1.20zM438.8 53.8h1.20v1.20h-1.20zM438.5 53.3h1.20v1.20h-1.20zM439.2 55.0h1.20v1.20h-1.20zM437.9 55.4h1.20v1.20h-1.20zM437.6 55.2h1.20v1.20h-1.20zM438.4 55.4h1.20v1.20h-1.20zM438.7 56.0h1.20v1.20h-1.20zM436.8 54.4h1.20v1.20h-1.20zM436.5 57.2h1.20v1.20h-1.20zM435.8 55.3h1.20v1.20h-1.20zM435.7 54.8h1.20v1.20h-1.20zM437.3 56.7h1.20v1.20h-1.20zM435.3 55.3h1.20v1.20h-1.20zM434.6 56.0h1.20v1.20h-1.20zM436.2 56.9h1.20v1.20h-1.20zM434.4 55.3h1.20v1.20h-1.20zM433.9 56.5h1.20v1.20h-1.20zM435.1 57.5h1.20v1.20h-1.20zM434.3 57.8h1.20v1.20h-1.20zM432.9 56.4h1.20v1.20h-1.20zM432.8 57.8h1.20v1.20h-1.20zM432.7 58.4h1.20v1.20h-1.20zM431.1 57.6h1.20v1.20h-1.20z" fill="#60ff9f"/>
<path d="M439.5 54.3h1.20v1.20h-1.20zM439.8 53.8h1.20v1.20h-1.20zM439.1 54.5h1.20v1.20h-1.20zM438.1 54.8h1.20v1.20h-1.20zM437.4 55.2h1.20v1.20h-1.20zM436.4 54.5h1.20v1.20h-1.20zM435.9 54.8h1.20v1.20h-1.20z" fill="#40ffbf"/>
<path d="M427.1 61.2h1.20v1.20h-1.20z" fill="#ffff00"/>
<path d="M434.5 60.5L434.1 60.6M434.1 60.6L433.7 60.8M433.7 60.8L433.1 61.0M433.1 61.0L432.4 61.2M432.4 61.2L431.8 61.4M431.8 61.4L431.1 61.6M431.1 61.6L430.5 61.7M430.5 61.7L430.0 61.8M430.0 61.8L429.5 61.8M429.5 61.8L429.1 61.7M429.1 61.7L428.6 61.6M428.6 61.6L428.2 61.5M428.2 61.5L427.8 61.3M427.8 61.3L427.5 61.2" stroke="#ffff00" stroke-width="1.75" stroke-linecap="round" fill="none"/>
<path d="M427.5 61.2L427.2 61.1M427.2 61.1L427.0 61.0" stroke="#ffe500" stroke-width="1.75" stroke-linecap="round" fill="none"/>
<path d="M433.5 60.1h1.20v1.20h-1.20zM432.9 59.8h1.20v1.20h-1.20zM433.2 60.4h1.20v1.20h-1.20zM431.8 59.9h1.20v1.20h-1.20zM432.1 61.2h1.20v1.20h-1.20zM432.5 61.2h1.20v1.20h-1.20zM430.9 59.8h1.20v1.20h-1.20zM430.7 59.2h1.20v1.20h-1.20zM430.5 61.3h1.20v1.20h-1.20zM431.1 62.2h1.20v1.20h-1.20zM429.7 60.0h1.20v1.20h-1.20zM428.3 60.8h1.20v1.20h-1.20zM428.5 61.6h1.20v1.20h-1.20zM428.0 61.1h1.20v1.20h-1.20zM427.7 61.7h1.20v1.20h-1.20zM427.3 61.9h1.20v1.20h-1.20zM427.2 60.5h1.20v1.20h-1.20zM426.5 60.7h1.20v1.20h-1.20z" fill="#ffff00"/>
<path d="M433.3 59.6h1.20v1.20h-1.20zM432.6 59.3h1.20v1.20h-1.20zM431.3 59.6h1.20v1.20h-1.20zM430.4 59.5h1.20v1.20h-1.20zM430.5 62.4h1.20v1.20h-1.20zM430.1 61.6h1.20v1.20h-1.20zM429.2 60.1h1.20v1.20h-1.20zM429.3 62.8h1.20v1.20h-1.20zM429.0 60.1h1.20v1.20h-1.20zM428.3 60.6h1.20v1.20h-1.20zM427.5 59.9h1.20v1.20h-1.20zM427.3 61.3h1.20v1.20h-1.20zM427.8 60.2h1.20v1.20h-1.20zM427.3 59.3h1.20v1.20h-1.20zM426.7 60.5h1.20v1.20h-1.20z" fill="#ffdf00"/>
<path d="M432.3 59.8h1.20v1.20h-1.20zM431.9 61.0h1.20v1.20h-1.20zM430.1 61.2h1.20v1.20h-1.20z" fill="#dfff20"/>
<path d="M427.6 61.5L427.4 61.8M427.4 61.8L427.2 62.3" stroke="#ffe500" stroke-width="2.25" stroke-linecap="round" fill="none"/>
<path d="M427.2 62.3L426.9 62.8M426.9 62.8L426.6 63.4M426.6 63.4L426.3 64.0" stroke="#ffe500" stroke-width="2.50" stroke-linecap="round" fill="none"/>
<path d="M426.3 64.0L426.0 64.7" stroke="#ffe500" stroke-width="2.75" stroke-linecap="round" fill="none"/>
<path d="M426.0 64.7L425.7 65.3M425.7 65.3L425.4 66.0M425.4 66.0L425.2 66.7M425.2 66.7L424.9 67.4M424.9 67.4L424.7 68.1M424.7 68.1L424.5 68.8M424.5 68.8L424.3 69.6M424.3 69.6L424.1 70.3M424.1 70.3L423.9 71.1" stroke="#ffcc00" stroke-width="2.75" stroke-linecap="round" fill="none"/>
<path d="M423.9 71.1L423.7 71.9M423.7 71.9L423.5 72.7M423.5 72.7L423.3 73.7" stroke="#ffb300" stroke-width="2.75" stroke-linecap="round" fill="none"/>
<path d="M423.3 73.7L423.1 74.6M423.1 74.6L422.9 75.6" stroke="#ffb300" stroke-width="2.50" stroke-linecap="round" fill="none"/>
<path d="M422.9 75.6L422.8 76.5M422.8 76.5L422.6 77.3" stroke="#ffb300" stroke-width="2.25" stroke-linecap="round" fill="none"/>
<path d="M422.6 77.3L422.5 78.0M422.5 78.0L422.4 78.5" stroke="#ffb300" stroke-width="2.00" stroke-linecap="round" fill="none"/>
<path d="M425.6 60.6h1.20v1.20h-1.20zM427.5 61.7h1.20v1.20h-1.20zM427.7 61.7h1.20v1.20h-1.20zM425.3 60.7h1.20v1.20h-1.20zM424.9 60.7h1.20v1.20h-1.20zM425.8 61.5h1.20v1.20h-1.20zM427.0 62.4h1.20v1.20h-1.20zM425.7 62.6h1.20v1.20h-1.20zM427.5 63.5h1.20v1.20h-1.20zM426.7 62.4h1.20v1.20h-1.20zM425.9 62.0h1.20v1.20h-1.20zM426.7 63.1h1.20v1.20h-1.20zM427.1 63.7h1.20v1.20h-1.20zM427.4 63.5h1.20v1.20h-1.20zM427.0 64.0h1.20v1.20h-1.20zM425.6 62.9h1.20v1.20h-1.20zM426.2 64.7h1.20v1.20h-1.20zM424.2 63.4h1.20v1.20h-1.20zM426.4 64.5h1.20v1.20h-1.20zM424.0 63.6h1.20v1.20h-1.20zM424.0 63.5h1.20v1.20h-1.20zM425.4 65.6h1.20v1.20h-1.20zM426.3 65.1h1.20v1.20h-1.20zM426.3 66.8h1.20v1.20h-1.20zM425.4 66.2h1.20v1.20h-1.20zM426.3 67.5h1.20v1.20h-1.20zM426.1 67.8h1.20v1.20h-1.20zM423.1 66.6h1.20v1.20h-1.20zM425.5 68.5h1.20v1.20h-1.20zM425.3 67.6h1.20v1.20h-1.20zM422.5 67.5h1.20v1.20h-1.20zM423.7 68.0h1.20v1.20h-1.20zM424.0 68.9h1.20v1.20h-1.20zM423.5 69.9h1.20v1.20h-1.20zM424.4 69.9h1.20v1.20h-1.20zM423.5 72.4h1.20v1.20h-1.20zM422.0 71.8h1.20v1.20h-1.20zM422.4 72.6h1.20v1.20h-1.20zM424.4 72.9h1.20v1.20h-1.20zM423.9 73.9h1.20v1.20h-1.20z" fill="#ffdf00"/>
<path d="M425.3 61.0h1.20v1.20h-1.20zM426.2 62.8h1.20v1.20h-1.20zM426.6 63.5h1.20v1.20h-1.20z" fill="#ffff00"/>
<path d="M423.4 63.5h1.20v1.20h-1.20zM425.4 64.0h1.20v1.20h-1.20zM423.2 64.5h1.20v1.20h-1.20zM422.9 64.5h1.20v1.20h-1.20zM426.5 65.9h1.20v1.20h-1.20zM423.3 64.2h1.20v1.20h-1.20zM425.5 64.9h1.20v1.20h-1.20zM424.5 65.3h1.20v1.20h-1.20zM424.0 65.5h1.20v1.20h-1.20zM424.3 65.2h1.20v1.20h-1.20zM423.4 65.7h1.20v1.20h-1.20zM426.0 66.3h1.20v1.20h-1.20zM424.7 66.5h1.20v1.20h-1.20zM426.3 67.4h1.20v1.20h-1.20zM421.9 66.0h1.20v1.20h-1.20zM422.8 66.6h1.20v1.20h-1.20zM425.8 68.5h1.20v1.20h-1.20zM425.2 67.7h1.20v1.20h-1.20zM424.0 67.3h1.20v1.20h-1.20zM421.8 66.7h1.20v1.20h-1.20zM425.0 69.4h1.20v1.20h-1.20zM422.7 68.3h1.20v1.20h-1.20zM426.0 69.6h1.20v1.20h-1.20zM421.5 68.3h1.20v1.20h-1.20zM425.5 69.0h1.20v1.20h-1.20zM424.4 68.4h1.20v1.20h-1.20zM423.2 69.4h1.20v1.20h-1.20zM424.8 69.8h1.20v1.20h-1.20zM422.2 69.8h1.20v1.20h-1.20zM422.9 69.1h1.20v1.20h-1.20zM423.8 70.0h1.20v1.20h-1.20zM422.2 69.1h1.20v1.20h-1.20zM422.8 70.3h1.20v1.20h-1.20zM424.5 71.4h1.20v1.20h-1.20zM421.4 69.8h1.20v1.20h-1.20zM421.6 69.8h1.20v1.20h-1.20zM425.2 71.0h1.20v1.20h-1.20zM421.5 70.6h1.20v1.20h-1.20zM423.3 72.0h1.20v1.20h-1.20zM420.7 71.7h1.20v1.20h-1.20zM421.4 71.5h1.20v1.20h-1.20zM422.0 71.6h1.20v1.20h-1.20zM422.1 73.2h1.20v1.20h-1.20zM422.5 72.4h1.20v1.20h-1.20zM421.4 73.2h1.20v1.20h-1.20zM425.1 73.0h1.20v1.20h-1.20zM421.7 73.9h1.20v1.20h-1.20zM422.3 74.9h1.20v1.20h-1.20zM422.9 73.8h1.20v1.20h-1.20zM422.4 75.0h1.20v1.20h-1.20zM422.3 75.2h1.20v1.20h-1.20zM422.2 75.8h1.20v1.20h-1.20zM421.2 74.9h1.20v1.20h-1.20zM422.7 75.8h1.20v1.20h-1.20zM423.0 76.5h1.20v1.20h-1.20zM420.9 76.3h1.20v1.20h-1.20zM421.1 76.5h1.20v1.20h-1.20zM422.5 76.6h1.20v1.20h-1.20zM421.3 76.7h1.20v1.20h-1.20zM421.8 76.9h1.20v1.20h-1.20zM423.1 77.6h1.20v1.20h-1.20z" fill="#ffbf00"/>
<path d="M425.2 68.7h1.20v1.20h-1.20zM423.1 70.2h1.20v1.20h-1.20zM423.3 71.1h1.20v1.20h-1.20zM422.3 71.4h1.20v1.20h-1.20zM424.7 72.7h1.20v1.20h-1.20zM423.9 73.1h1.20v1.20h-1.20zM421.1 73.3h1.20v1.20h-1.20zM421.3 72.9h1.20v1.20h-1.20zM424.3 74.2h1.20v1.20h-1.20zM422.7 74.1h1.20v1.20h-1.20zM421.7 74.0h1.20v1.20h-1.20zM424.2 75.1h1.20v1.20h-1.20zM420.9 75.0h1.20v1.20h-1.20zM423.9 76.4h1.20v1.20h-1.20zM422.5 77.9h1.20v1.20h-1.20zM421.0 77.5h1.20v1.20h-1.20zM422.4 77.5h1.20v1.20h-1.20z" fill="#ff9f00"/>
<path d="M423.0 66.5L422.8 66.8M422.8 66.8L422.6 67.2M422.6 67.2L422.3 67.7" stroke="#ff6600" stroke-width="1.50" stroke-linecap="round" fill="none"/>
<path d="M422.3 67.7L422.0 68.2M422.0 68.2L421.6 68.8M421.6 68.8L421.2 69.3M421.2 69.3L420.9 69.9M420.9 69.9L420.5 70.5M420.5 70.5L420.1 71.1" stroke="#ff4c00" stroke-width="1.50" stroke-linecap="round" fill="none"/>
<path d="M420.1 71.1L419.6 71.8M419.6 71.8L419.1 72.5M419.1 72.5L418.6 73.2M418.6 73.2L418.2 73.9" stroke="#ff4c00" stroke-width="1.75" stroke-linecap="round" fill="none"/>
<path d="M418.2 73.9L417.7 74.5M417.7 74.5L417.4 75.0M417.4 75.0L417.1 75.4" stroke="#ff3300" stroke-width="1.75" stroke-linecap="round" fill="none"/>
<path d="M421.6 65.5h1.20v1.20h-1.20zM421.5 65.9h1.20v1.20h-1.20zM422.9 67.1h1.20v1.20h-1.20zM421.9 66.7h1.20v1.20h-1.20zM421.5 66.9h1.20v1.20h-1.20zM421.6 67.6h1.20v1.20h-1.20zM422.2 67.6h1.20v1.20h-1.20zM420.5 67.9h1.20v1.20h-1.20zM421.2 68.1h1.20v1.20h-1.20zM421.5 67.8h1.20v1.20h-1.20zM421.6 68.4h1.20v1.20h-1.20zM420.8 69.0h1.20v1.20h-1.20zM419.9 68.2h1.20v1.20h-1.20zM420.1 68.0h1.20v1.20h-1.20zM420.2 69.1h1.20v1.20h-1.20zM419.4 68.9h1.20v1.20h-1.20zM419.7 69.1h1.20v1.20h-1.20zM420.1 70.0h1.20v1.20h-1.20zM420.1 70.5h1.20v1.20h-1.20zM419.3 70.6h1.20v1.20h-1.20zM419.6 71.4h1.20v1.20h-1.20zM417.5 72.1h1.20v1.20h-1.20zM417.0 73.0h1.20v1.20h-1.20zM418.5 73.7h1.20v1.20h-1.20zM416.9 73.0h1.20v1.20h-1.20zM416.4 73.5h1.20v1.20h-1.20zM416.6 73.5h1.20v1.20h-1.20z" fill="#ff6000"/>
<path d="M421.8 66.3h1.20v1.20h-1.20zM420.4 68.3h1.20v1.20h-1.20zM419.8 69.3h1.20v1.20h-1.20zM420.6 70.8h1.20v1.20h-1.20zM418.5 71.3h1.20v1.20h-1.20zM418.3 70.3h1.20v1.20h-1.20zM418.1 71.0h1.20v1.20h-1.20zM420.0 71.9h1.20v1.20h-1.20zM418.6 72.8h1.20v1.20h-1.20zM418.9 72.4h1.20v1.20h-1.20zM419.0 72.3h1.20v1.20h-1.20zM418.1 71.8h1.20v1.20h-1.20zM416.3 73.6h1.20v1.20h-1.20zM416.7 74.5h1.20v1.20h-1.20zM416.1 73.7h1.20v1.20h-1.20z" fill="#ff4000"/>
<path d="M418.1 73.5h1.20v1.20h-1.20zM417.3 72.4h1.20v1.20h-1.20zM417.6 74.2h1.20v1.20h-1.20zM417.7 75.2h1.20v1.20h-1.20z" fill="#ff2000"/>
<path d="M415.6 61.9L415.2 61.8M415.2 61.8L414.6 61.7" stroke="#ff8000" stroke-width="2.00" stroke-linecap="round" fill="none"/>
<path d="M414.6 61.7L413.9 61.6M413.9 61.6L413.1 61.5M413.1 61.5L412.3 61.4M412.3 61.4L411.5 61.3" stroke="#ff6600" stroke-width="2.00" stroke-linecap="round" fill="none"/>
<path d="M411.5 61.3L410.7 61.3M410.7 61.3L410.0 61.3M410.0 61.3L409.4 61.4M409.4 61.4L408.7 61.5M408.7 61.5L408.1 61.7M408.1 61.7L407.4 61.9M407.4 61.9L406.9 62.2M406.9 62.2L406.3 62.4M406.3 62.4L405.8 62.7M405.8 62.7L405.4 63.1M405.4 63.1L405.0 63.5M405.0 63.5L404.7 64.0M404.7 64.0L404.4 64.5" stroke="#ff6600" stroke-width="2.25" stroke-linecap="round" fill="none"/>
<path d="M404.4 64.5L404.2 65.1M404.2 65.1L404.0 65.6M404.0 65.6L403.9 66.2M403.9 66.2L403.8 66.7M403.8 66.7L403.8 67.2M403.8 67.2L403.9 67.7M403.9 67.7L404.0 68.2M404.0 68.2L404.2 68.7M404.2 68.7L404.5 69.2M404.5 69.2L404.8 69.6" stroke="#ff4c00" stroke-width="2.25" stroke-linecap="round" fill="none"/>
<path d="M404.8 69.6L405.2 70.0M405.2 70.0L405.6 70.4M405.6 70.4L406.0 70.6M406.0 70.6L406.5 70.7M406.5 70.7L407.1 70.7M407.1 70.7L407.8 70.7M407.8 70.7L408.5 70.6M408.5 70.6L409.2 70.4M409.2 70.4L409.9 70.3M409.9 70.3L410.6 70.3M410.6 70.3L411.2 70.3M411.2 70.3L411.7 70.4M411.7 70.4L412.2 70.5M412.2 70.5L412.7 70.7M412.7 70.7L413.1 70.9M413.1 70.9L413.5 71.1M413.5 71.1L413.9 71.3" stroke="#ff3300" stroke-width="2.25" stroke-linecap="round" fill="none"/>
<path d="M413.9 71.3L414.3 71.6M414.3 71.6L414.7 71.9M414.7 71.9L415.1 72.3M415.1 72.3L415.4 72.7M415.4 72.7L415.8 73.2M415.8 73.2L416.1 73.8M416.1 73.8L416.4 74.3M416.4 74.3L416.7 74.7M416.7 74.7L416.9 75.1" stroke="#ff1a00" stroke-width="2.25" stroke-linecap="round" fill="none"/>
<path d="M416.9 75.1L417.1 75.4" stroke="#ff1a00" stroke-width="2.00" stroke-linecap="round" fill="none"/>
<path d="M414.7 60.3h1.20v1.20h-1.20zM414.2 62.6h1.20v1.20h-1.20zM415.0 60.9h1.20v1.20h-1.20zM414.4 59.7h1.20v1.20h-1.20zM413.3 62.7h1.20v1.20h-1.20zM414.3 60.1h1.20v1.20h-1.20zM413.3 59.3h1.20v1.20h-1.20zM413.1 61.5h1.20v1.20h-1.20zM413.0 60.2h1.20v1.20h-1.20zM412.3 62.1h1.20v1.20h-1.20zM411.9 59.6h1.20v1.20h-1.20zM411.9 60.3h1.20v1.20h-1.20zM410.8 59.5h1.20v1.20h-1.20zM411.2 62.3h1.20v1.20h-1.20zM410.2 62.0h1.20v1.20h-1.20zM410.2 59.4h1.20v1.20h-1.20zM408.9 61.7h1.20v1.20h-1.20zM408.7 60.1h1.20v1.20h-1.20zM408.1 60.2h1.20v1.20h-1.20zM408.0 60.4h1.20v1.20h-1.20zM407.9 59.7h1.20v1.20h-1.20zM407.4 61.8h1.20v1.20h-1.20zM406.9 59.9h1.20v1.20h-1.20zM405.8 60.6h1.20v1.20h-1.20zM405.7 60.4h1.20v1.20h-1.20zM407.2 62.9h1.20v1.20h-1.20zM405.6 63.7h1.20v1.20h-1.20zM402.9 62.7h1.20v1.20h-1.20zM405.2 64.7h1.20v1.20h-1.20zM402.9 63.9h1.20v1.20h-1.20z" fill="#ff8000"/>
<path d="M414.0 60.4h1.20v1.20h-1.20zM413.1 60.8h1.20v1.20h-1.20zM412.6 61.2h1.20v1.20h-1.20zM411.5 60.6h1.20v1.20h-1.20zM411.6 61.8h1.20v1.20h-1.20zM411.5 61.9h1.20v1.20h-1.20zM410.7 59.1h1.20v1.20h-1.20zM410.6 59.7h1.20v1.20h-1.20zM411.1 61.0h1.20v1.20h-1.20zM410.4 60.8h1.20v1.20h-1.20zM409.7 58.8h1.20v1.20h-1.20zM410.0 62.2h1.20v1.20h-1.20zM410.3 62.6h1.20v1.20h-1.20zM408.6 59.4h1.20v1.20h-1.20zM408.9 58.9h1.20v1.20h-1.20zM409.3 60.1h1.20v1.20h-1.20zM408.5 62.4h1.20v1.20h-1.20zM408.1 60.4h1.20v1.20h-1.20zM406.8 60.2h1.20v1.20h-1.20zM406.5 60.1h1.20v1.20h-1.20zM406.7 59.6h1.20v1.20h-1.20zM407.2 62.1h1.20v1.20h-1.20zM405.7 60.3h1.20v1.20h-1.20zM405.4 60.7h1.20v1.20h-1.20zM405.3 61.3h1.20v1.20h-1.20zM405.4 60.8h1.20v1.20h-1.20zM405.4 60.5h1.20v1.20h-1.20zM404.8 60.3h1.20v1.20h-1.20zM404.9 62.0h1.20v1.20h-1.20zM404.8 61.6h1.20v1.20h-1.20zM405.0 62.8h1.20v1.20h-1.20zM405.5 63.8h1.20v1.20h-1.20zM404.4 63.0h1.20v1.20h-1.20zM404.7 63.2h1.20v1.20h-1.20zM405.4 64.6h1.20v1.20h-1.20zM403.0 62.3h1.20v1.20h-1.20zM402.0 63.4h1.20v1.20h-1.20zM405.2 64.5h1.20v1.20h-1.20zM405.0 64.9h1.20v1.20h-1.20zM404.2 65.2h1.20v1.20h-1.20zM402.0 65.0h1.20v1.20h-1.20zM401.4 64.9h1.20v1.20h-1.20zM404.0 65.7h1.20v1.20h-1.20zM403.0 66.4h1.20v1.20h-1.20zM402.0 66.1h1.20v1.20h-1.20zM400.9 67.2h1.20v1.20h-1.20zM404.8 68.6h1.20v1.20h-1.20zM404.9 68.7h1.20v1.20h-1.20zM403.7 69.9h1.20v1.20h-1.20z" fill="#ff6000"/>
<path d="M405.1 62.2h1.20v1.20h-1.20zM402.7 62.8h1.20v1.20h-1.20zM405.0 63.7h1.20v1.20h-1.20zM402.0 63.6h1.20v1.20h-1.20zM404.1 64.7h1.20v1.20h-1.20zM404.5 65.1h1.20v1.20h-1.20zM405.4 65.6h1.20v1.20h-1.20zM402.0 65.6h1.20v1.20h-1.20zM404.4 65.9h1.20v1.20h-1.20zM403.5 66.1h1.20v1.20h-1.20zM403.7 66.5h1.20v1.20h-1.20zM401.6 66.9h1.20v1.20h-1.20zM404.0 66.8h1.20v1.20h-1.20zM404.2 66.5h1.20v1.20h-1.20zM403.4 67.8h1.20v1.20h-1.20zM404.6 67.5h1.20v1.20h-1.20zM402.6 68.6h1.20v1.20h-1.20zM405.0 67.2h1.20v1.20h-1.20zM404.7 67.6h1.20v1.20h-1.20zM405.9 67.6h1.20v1.20h-1.20zM405.3 68.5h1.20v1.20h-1.20zM404.3 69.2h1.20v1.20h-1.20zM403.9 69.9h1.20v1.20h-1.20zM404.0 71.2h1.20v1.20h-1.20zM406.1 69.2h1.20v1.20h-1.20zM406.4 68.7h1.20v1.20h-1.20zM406.9 71.7h1.20v1.20h-1.20zM406.8 70.2h1.20v1.20h-1.20zM407.7 72.1h1.20v1.20h-1.20zM407.9 71.0h1.20v1.20h-1.20zM408.1 71.2h1.20v1.20h-1.20zM408.3 70.3h1.20v1.20h-1.20zM409.0 70.0h1.20v1.20h-1.20zM409.5 70.2h1.20v1.20h-1.20zM410.0 71.3h1.20v1.20h-1.20zM410.7 69.3h1.20v1.20h-1.20zM410.9 68.5h1.20v1.20h-1.20zM410.8 69.2h1.20v1.20h-1.20zM413.4 70.7h1.20v1.20h-1.20zM414.0 72.3h1.20v1.20h-1.20zM414.6 72.4h1.20v1.20h-1.20zM416.1 71.3h1.20v1.20h-1.20zM416.1 71.9h1.20v1.20h-1.20zM416.1 72.9h1.20v1.20h-1.20zM414.3 73.9h1.20v1.20h-1.20zM415.3 74.9h1.20v1.20h-1.20zM416.8 73.9h1.20v1.20h-1.20zM416.9 73.8h1.20v1.20h-1.20z" fill="#ff4000"/>
<path d="M404.4 67.4h1.20v1.20h-1.20zM404.0 67.6h1.20v1.20h-1.20zM403.6 68.6h1.20v1.20h-1.20zM404.5 68.8h1.20v1.20h-1.20zM405.1 69.9h1.20v1.20h-1.20zM405.8 69.2h1.20v1.20h-1.20zM404.5 70.5h1.20v1.20h-1.20zM405.8 70.2h1.20v1.20h-1.20zM405.9 70.7h1.20v1.20h-1.20zM405.8 70.1h1.20v1.20h-1.20zM406.3 70.4h1.20v1.20h-1.20zM406.8 69.6h1.20v1.20h-1.20zM408.1 71.4h1.20v1.20h-1.20zM407.5 69.5h1.20v1.20h-1.20zM407.4 70.1h1.20v1.20h-1.20zM409.0 71.5h1.20v1.20h-1.20zM408.4 68.9h1.20v1.20h-1.20zM408.7 71.5h1.20v1.20h-1.20zM408.4 69.6h1.20v1.20h-1.20zM408.8 69.8h1.20v1.20h-1.20zM409.2 68.7h1.20v1.20h-1.20zM409.1 69.5h1.20v1.20h-1.20zM409.3 69.9h1.20v1.20h-1.20zM410.1 68.9h1.20v1.20h-1.20zM410.1 69.9h1.20v1.20h-1.20zM410.5 68.7h1.20v1.20h-1.20zM410.0 67.8h1.20v1.20h-1.20zM410.7 71.2h1.20v1.20h-1.20zM411.5 70.9h1.20v1.20h-1.20zM411.5 70.9h1.20v1.20h-1.20zM412.4 68.1h1.20v1.20h-1.20zM411.1 71.6h1.20v1.20h-1.20zM411.9 71.5h1.20v1.20h-1.20zM412.3 70.0h1.20v1.20h-1.20zM412.1 70.3h1.20v1.20h-1.20zM411.9 71.4h1.20v1.20h-1.20zM412.9 69.8h1.20v1.20h-1.20zM413.7 68.8h1.20v1.20h-1.20zM412.3 71.8h1.20v1.20h-1.20zM412.2 71.4h1.20v1.20h-1.20zM412.4 72.3h1.20v1.20h-1.20zM413.6 70.5h1.20v1.20h-1.20zM412.3 72.1h1.20v1.20h-1.20zM413.9 70.6h1.20v1.20h-1.20zM412.8 72.4h1.20v1.20h-1.20zM413.5 71.5h1.20v1.20h-1.20zM413.3 71.9h1.20v1.20h-1.20zM414.7 71.6h1.20v1.20h-1.20zM414.3 71.6h1.20v1.20h-1.20zM414.3 72.3h1.20v1.20h-1.20zM414.7 72.6h1.20v1.20h-1.20zM414.7 72.2h1.20v1.20h-1.20zM413.8 73.8h1.20v1.20h-1.20zM416.0 72.6h1.20v1.20h-1.20zM416.2 73.3h1.20v1.20h-1.20zM414.9 74.8h1.20v1.20h-1.20zM415.6 75.0h1.20v1.20h-1.20zM417.5 73.8h1.20v1.20h-1.20zM417.5 73.9h1.20v1.20h-1.20z" fill="#ff2000"/>
<path d="M413.7 72.6h1.20v1.20h-1.20zM416.3 71.8h1.20v1.20h-1.20zM414.6 73.3h1.20v1.20h-1.20zM415.4 73.6h1.20v1.20h-1.20z" fill="#ff0000"/>
<path d="M416.2 74.0L416.0 74.3M416.0 74.3L415.9 74.6M415.9 74.6L415.6 75.0M415.6 75.0L415.4 75.5M415.4 75.5L415.1 76.0M415.1 76.0L414.8 76.5M414.8 76.5L414.4 77.0M414.4 77.0L414.1 77.5M414.1 77.5L413.7 78.0M413.7 78.0L413.3 78.4" stroke="#ff4c00" stroke-width="2.00" stroke-linecap="round" fill="none"/>
<path d="M413.3 78.4L412.9 78.9M412.9 78.9L412.4 79.4M412.4 79.4L411.9 79.9M411.9 79.9L411.5 80.4M411.5 80.4L411.0 80.9M411.0 80.9L410.6 81.3M410.6 81.3L410.2 81.8M410.2 81.8L409.8 82.2M409.8 82.2L409.5 82.7M409.5 82.7L409.1 83.2M409.1 83.2L408.8 83.6M408.8 83.6L408.4 83.9M408.4 83.9L408.1 84.2" stroke="#ff3300" stroke-width="2.00" stroke-linecap="round" fill="none"/>
<path d="M408.1 84.2L407.7 84.4M407.7 84.4L407.3 84.4M407.3 84.4L406.8 84.3M406.8 84.3L406.4 84.0M406.4 84.0L405.9 83.7M405.9 83.7L405.5 83.4M405.5 83.4L405.1 83.2M405.1 83.2L404.7 83.1M404.7 83.1L404.4 83.2M404.4 83.2L404.2 83.5M404.2 83.5L404.0 83.9" stroke="#ff1a00" stroke-width="2.00" stroke-linecap="round" fill="none"/>
<path d="M404.0 83.9L403.8 84.4M403.8 84.4L403.7 85.0M403.7 85.0L403.6 85.6M403.6 85.6L403.6 86.3M403.6 86.3L403.6 86.9M403.6 86.9L403.6 87.5M403.6 87.5L403.6 88.1" stroke="#ff0000" stroke-width="2.00" stroke-linecap="round" fill="none"/>
<path d="M403.6 88.1L403.7 88.7M403.7 88.7L403.8 89.4M403.8 89.4L404.0 90.0M404.0 90.0L404.2 90.6M404.2 90.6L404.3 91.2M404.3 91.2L404.6 91.7" stroke="#ff0000" stroke-width="2.25" stroke-linecap="round" fill="none"/>
<path d="M404.6 91.7L404.8 92.2M404.8 92.2L405.1 92.6M405.1 92.6L405.4 92.9M405.4 92.9L405.8 93.2M405.8 93.2L406.2 93.4M406.2 93.4L406.6 93.6M406.6 93.6L407.0 93.7" stroke="#e50000" stroke-width="2.25" stroke-linecap="round" fill="none"/>
<path d="M407.0 93.7L407.3 93.9M407.3 93.9L407.5 94.0" stroke="#cc0000" stroke-width="2.25" stroke-linecap="round" fill="none"/>
<path d="M416.5 74.1h1.20v1.20h-1.20zM416.2 74.8h1.20v1.20h-1.20zM415.7 75.3h1.20v1.20h-1.20zM413.9 73.9h1.20v1.20h-1.20zM412.7 76.2h1.20v1.20h-1.20zM413.8 77.8h1.20v1.20h-1.20zM411.8 77.7h1.20v1.20h-1.20z" fill="#ff6000"/>
<path d="M416.1 73.9h1.20v1.20h-1.20zM416.7 74.7h1.20v1.20h-1.20zM414.9 73.6h1.20v1.20h-1.20zM415.7 75.0h1.20v1.20h-1.20zM415.7 75.2h1.20v1.20h-1.20zM415.4 75.6h1.20v1.20h-1.20zM415.5 76.1h1.20v1.20h-1.20zM414.0 74.7h1.20v1.20h-1.20zM415.0 75.6h1.20v1.20h-1.20zM413.4 75.2h1.20v1.20h-1.20zM414.2 75.6h1.20v1.20h-1.20zM415.3 76.5h1.20v1.20h-1.20zM413.8 75.3h1.20v1.20h-1.20zM414.3 76.7h1.20v1.20h-1.20zM414.0 76.9h1.20v1.20h-1.20zM414.4 77.3h1.20v1.20h-1.20zM414.1 77.6h1.20v1.20h-1.20zM414.0 77.3h1.20v1.20h-1.20zM412.3 77.9h1.20v1.20h-1.20zM412.3 77.9h1.20v1.20h-1.20zM413.0 79.7h1.20v1.20h-1.20zM412.0 79.0h1.20v1.20h-1.20zM411.1 77.9h1.20v1.20h-1.20zM411.3 78.4h1.20v1.20h-1.20zM410.7 78.7h1.20v1.20h-1.20zM411.9 80.6h1.20v1.20h-1.20zM411.6 80.2h1.20v1.20h-1.20zM410.9 80.4h1.20v1.20h-1.20zM411.0 79.4h1.20v1.20h-1.20zM409.8 80.0h1.20v1.20h-1.20zM410.3 80.6h1.20v1.20h-1.20zM411.0 80.5h1.20v1.20h-1.20zM410.6 81.7h1.20v1.20h-1.20zM409.0 80.9h1.20v1.20h-1.20zM409.4 81.2h1.20v1.20h-1.20zM408.7 81.6h1.20v1.20h-1.20zM408.5 81.7h1.20v1.20h-1.20zM408.1 81.4h1.20v1.20h-1.20zM408.7 82.1h1.20v1.20h-1.20zM409.6 83.7h1.20v1.20h-1.20zM407.6 82.5h1.20v1.20h-1.20zM407.5 83.8h1.20v1.20h-1.20zM406.9 84.0h1.20v1.20h-1.20zM405.9 84.2h1.20v1.20h-1.20z" fill="#ff4000"/>
<path d="M412.7 77.0h1.20v1.20h-1.20zM412.3 77.4h1.20v1.20h-1.20zM411.9 77.5h1.20v1.20h-1.20zM411.3 78.0h1.20v1.20h-1.20zM412.2 80.4h1.20v1.20h-1.20zM410.9 79.1h1.20v1.20h-1.20zM412.1 79.2h1.20v1.20h-1.20zM411.0 80.6h1.20v1.20h-1.20zM410.5 81.5h1.20v1.20h-1.20zM410.1 82.2h1.20v1.20h-1.20zM409.7 82.1h1.20v1.20h-1.20zM408.7 80.7h1.20v1.20h-1.20zM409.8 82.9h1.20v1.20h-1.20zM408.3 82.8h1.20v1.20h-1.20zM409.4 83.8h1.20v1.20h-1.20zM407.1 82.4h1.20v1.20h-1.20zM406.8 82.5h1.20v1.20h-1.20zM407.2 83.2h1.20v1.20h-1.20zM407.6 84.6h1.20v1.20h-1.20zM406.7 81.9h1.20v1.20h-1.20zM405.4 85.0h1.20v1.20h-1.20zM406.5 83.4h1.20v1.20h-1.20zM405.3 84.4h1.20v1.20h-1.20zM406.1 83.1h1.20v1.20h-1.20zM405.7 83.3h1.20v1.20h-1.20zM405.2 84.5h1.20v1.20h-1.20zM404.6 83.6h1.20v1.20h-1.20zM405.3 82.9h1.20v1.20h-1.20zM405.0 81.6h1.20v1.20h-1.20zM403.7 84.0h1.20v1.20h-1.20zM403.8 83.1h1.20v1.20h-1.20zM403.3 82.8h1.20v1.20h-1.20zM402.8 82.8h1.20v1.20h-1.20zM404.5 84.3h1.20v1.20h-1.20zM404.5 83.9h1.20v1.20h-1.20zM402.9 84.5h1.20v1.20h-1.20zM404.2 84.8h1.20v1.20h-1.20zM404.3 85.2h1.20v1.20h-1.20zM403.5 85.3h1.20v1.20h-1.20zM402.8 86.3h1.20v1.20h-1.20zM403.9 87.1h1.20v1.20h-1.20zM404.3 88.4h1.20v1.20h-1.20z" fill="#ff2000"/>
<path d="M408.6 84.1h1.20v1.20h-1.20zM406.8 84.2h1.20v1.20h-1.20zM405.8 82.2h1.20v1.20h-1.20zM404.3 84.0h1.20v1.20h-1.20zM405.1 81.8h1.20v1.20h-1.20zM403.8 82.4h1.20v1.20h-1.20zM404.1 83.8h1.20v1.20h-1.20zM403.6 82.4h1.20v1.20h-1.20zM402.5 83.1h1.20v1.20h-1.20zM401.8 82.9h1.20v1.20h-1.20zM401.8 83.4h1.20v1.20h-1.20zM403.4 83.8h1.20v1.20h-1.20zM404.5 84.9h1.20v1.20h-1.20zM401.8 84.8h1.20v1.20h-1.20zM403.4 85.8h1.20v1.20h-1.20zM403.4 86.0h1.20v1.20h-1.20zM404.3 85.8h1.20v1.20h-1.20zM402.8 85.6h1.20v1.20h-1.20zM401.7 86.5h1.20v1.20h-1.20zM403.7 86.6h1.20v1.20h-1.20zM404.7 87.5h1.20v1.20h-1.20zM402.1 87.7h1.20v1.20h-1.20zM402.5 87.7h1.20v1.20h-1.20zM403.1 88.3h1.20v1.20h-1.20zM403.4 88.1h1.20v1.20h-1.20zM401.5 88.2h1.20v1.20h-1.20zM401.8 87.9h1.20v1.20h-1.20zM404.0 88.6h1.20v1.20h-1.20zM404.0 89.2h1.20v1.20h-1.20zM402.4 89.0h1.20v1.20h-1.20zM403.5 90.4h1.20v1.20h-1.20zM404.7 90.6h1.20v1.20h-1.20zM403.9 90.2h1.20v1.20h-1.20zM405.9 90.3h1.20v1.20h-1.20zM405.7 90.8h1.20v1.20h-1.20zM404.2 92.1h1.20v1.20h-1.20zM405.8 91.4h1.20v1.20h-1.20zM406.1 92.9h1.20v1.20h-1.20z" fill="#ff0000"/>
<path d="M402.7 86.1h1.20v1.20h-1.20zM403.9 87.8h1.20v1.20h-1.20zM403.9 88.9h1.20v1.20h-1.20zM403.5 89.4h1.20v1.20h-1.20zM404.8 89.2h1.20v1.20h-1.20zM404.5 89.7h1.20v1.20h-1.20zM402.2 90.3h1.20v1.20h-1.20zM401.9 90.5h1.20v1.20h-1.20zM402.7 91.3h1.20v1.20h-1.20zM404.1 90.6h1.20v1.20h-1.20zM404.0 91.2h1.20v1.20h-1.20zM405.1 90.6h1.20v1.20h-1.20zM405.8 90.9h1.20v1.20h-1.20zM405.0 91.5h1.20v1.20h-1.20zM403.6 92.6h1.20v1.20h-1.20zM403.9 93.7h1.20v1.20h-1.20zM404.4 92.8h1.20v1.20h-1.20zM405.8 91.6h1.20v1.20h-1.20zM405.6 91.6h1.20v1.20h-1.20zM406.1 91.4h1.20v1.20h-1.20zM406.1 90.9h1.20v1.20h-1.20zM406.1 93.0h1.20v1.20h-1.20zM405.4 93.4h1.20v1.20h-1.20zM405.9 94.1h1.20v1.20h-1.20zM405.6 94.8h1.20v1.20h-1.20zM406.6 92.4h1.20v1.20h-1.20zM407.2 92.2h1.20v1.20h-1.20zM406.0 94.6h1.20v1.20h-1.20z" fill="#df0000"/>
<path d="M404.0 93.3h1.20v1.20h-1.20z" fill="#bf0000"/>
<path d="M409.2 93.4L408.9 93.5M408.9 93.5L408.4 93.7" stroke="#cc0000" stroke-width="2.50" stroke-linecap="round" fill="none"/>
<path d="M408.4 93.7L407.9 93.9M407.9 93.9L407.3 94.1M407.3 94.1L406.7 94.4M406.7 94.4L406.0 94.6" stroke="#cc0000" stroke-width="2.75" stroke-linecap="round" fill="none"/>
<path d="M406.0 94.6L405.4 94.9M405.4 94.9L404.8 95.1M404.8 95.1L404.2 95.3M404.2 95.3L403.6 95.5M403.6 95.5L403.0 95.8M403.0 95.8L402.3 96.0M402.3 96.0L401.7 96.2M401.7 96.2L401.2 96.4M401.2 96.4L400.7 96.7M400.7 96.7L400.3 97.0M400.3 97.0L400.0 97.3M400.0 97.3L399.7 97.7M399.7 97.7L399.4 98.0M399.4 98.0L399.3 98.4M399.3 98.4L399.1 98.8M399.1 98.8L399.1 99.2M399.1 99.2L399.1 99.5M399.1 99.5L399.2 99.9M399.2 99.9L399.4 100.3M399.4 100.3L399.7 100.6M399.7 100.6L400.0 101.0M400.0 101.0L400.5 101.4M400.5 101.4L400.9 101.8M400.9 101.8L401.4 102.1M401.4 102.1L402.0 102.3M402.0 102.3L402.5 102.5M402.5 102.5L403.1 102.6M403.1 102.6L403.7 102.6M403.7 102.6L404.3 102.5M404.3 102.5L405.0 102.4M405.0 102.4L405.7 102.3M405.7 102.3L406.4 102.2M406.4 102.2L407.1 102.1M407.1 102.1L407.7 102.0M407.7 102.0L408.3 101.9M408.3 101.9L408.9 101.8M408.9 101.8L409.6 101.7" stroke="#b30000" stroke-width="3.00" stroke-linecap="round" fill="none"/>
<path d="M409.6 101.7L410.2 101.6M410.2 101.6L410.8 101.6M410.8 101.6L411.3 101.6M411.3 101.6L411.9 101.6M411.9 101.6L412.4 101.7M412.4 101.7L412.9 101.9M412.9 101.9L413.4 102.1" stroke="#b30000" stroke-width="2.75" stroke-linecap="round" fill="none"/>
<path d="M413.4 102.1L413.8 102.5M413.8 102.5L414.3 102.8M414.3 102.8L414.7 103.2M414.7 103.2L415.0 103.6" stroke="#b30000" stroke-width="2.50" stroke-linecap="round" fill="none"/>
<path d="M415.0 103.6L415.4 104.1M415.4 104.1L415.7 104.5M415.7 104.5L416.0 105.0M416.0 105.0L416.2 105.6" stroke="#b30000" stroke-width="2.25" stroke-linecap="round" fill="none"/>
<path d="M416.2 105.6L416.4 106.2M416.4 106.2L416.6 106.8M416.6 106.8L416.7 107.4M416.7 107.4L416.8 108.0" stroke="#b30000" stroke-width="2.00" stroke-linecap="round" fill="none"/>
<path d="M416.8 108.0L416.9 108.5M416.9 108.5L417.0 108.8" stroke="#b30000" stroke-width="1.75" stroke-linecap="round" fill="none"/>
<path d="M407.9 91.2h1.20v1.20h-1.20zM407.8 91.8h1.20v1.20h-1.20zM407.6 95.3h1.20v1.20h-1.20zM406.7 92.1h1.20v1.20h-1.20zM406.7 93.8h1.20v1.20h-1.20zM406.4 93.7h1.20v1.20h-1.20zM405.6 91.3h1.20v1.20h-1.20zM406.6 93.5h1.20v1.20h-1.20zM406.4 96.3h1.20v1.20h-1.20zM404.8 93.3h1.20v1.20h-1.20zM404.7 92.1h1.20v1.20h-1.20zM404.7 92.5h1.20v1.20h-1.20zM404.8 95.2h1.20v1.20h-1.20zM404.1 92.7h1.20v1.20h-1.20zM404.6 93.6h1.20v1.20h-1.20zM404.6 94.9h1.20v1.20h-1.20zM404.0 95.6h1.20v1.20h-1.20zM403.5 93.6h1.20v1.20h-1.20zM404.8 96.5h1.20v1.20h-1.20zM403.5 93.1h1.20v1.20h-1.20zM403.6 95.8h1.20v1.20h-1.20zM402.2 92.4h1.20v1.20h-1.20zM402.6 97.3h1.20v1.20h-1.20zM402.6 95.5h1.20v1.20h-1.20zM403.0 97.2h1.20v1.20h-1.20zM402.3 96.2h1.20v1.20h-1.20zM401.4 96.3h1.20v1.20h-1.20zM401.7 97.4h1.20v1.20h-1.20zM401.4 96.2h1.20v1.20h-1.20zM400.7 94.8h1.20v1.20h-1.20zM401.5 95.7h1.20v1.20h-1.20zM400.7 93.8h1.20v1.20h-1.20zM399.8 94.3h1.20v1.20h-1.20zM401.8 98.1h1.20v1.20h-1.20zM400.3 95.7h1.20v1.20h-1.20zM400.5 96.0h1.20v1.20h-1.20zM399.7 95.7h1.20v1.20h-1.20zM400.7 97.7h1.20v1.20h-1.20zM400.9 97.3h1.20v1.20h-1.20zM400.6 98.0h1.20v1.20h-1.20zM399.7 97.6h1.20v1.20h-1.20zM398.2 96.2h1.20v1.20h-1.20zM397.4 95.8h1.20v1.20h-1.20zM398.4 97.6h1.20v1.20h-1.20zM401.0 98.4h1.20v1.20h-1.20zM398.2 97.2h1.20v1.20h-1.20zM399.9 98.5h1.20v1.20h-1.20zM397.9 98.5h1.20v1.20h-1.20zM395.6 99.9h1.20v1.20h-1.20zM399.4 98.8h1.20v1.20h-1.20zM400.6 98.8h1.20v1.20h-1.20zM401.0 98.5h1.20v1.20h-1.20zM398.9 99.4h1.20v1.20h-1.20zM400.7 98.7h1.20v1.20h-1.20zM399.2 100.0h1.20v1.20h-1.20zM398.5 100.2h1.20v1.20h-1.20zM398.0 101.9h1.20v1.20h-1.20zM401.1 99.3h1.20v1.20h-1.20zM399.5 100.3h1.20v1.20h-1.20zM400.5 99.2h1.20v1.20h-1.20zM399.3 102.2h1.20v1.20h-1.20zM399.3 102.3h1.20v1.20h-1.20zM400.4 104.5h1.20v1.20h-1.20zM401.5 101.8h1.20v1.20h-1.20zM401.5 102.4h1.20v1.20h-1.20zM401.4 102.9h1.20v1.20h-1.20zM402.1 99.8h1.20v1.20h-1.20zM402.4 99.8h1.20v1.20h-1.20zM402.4 103.4h1.20v1.20h-1.20zM402.4 101.6h1.20v1.20h-1.20zM402.7 100.8h1.20v1.20h-1.20zM402.9 99.6h1.20v1.20h-1.20zM402.4 100.6h1.20v1.20h-1.20zM403.3 103.0h1.20v1.20h-1.20zM403.4 103.1h1.20v1.20h-1.20zM402.9 99.8h1.20v1.20h-1.20zM403.0 102.5h1.20v1.20h-1.20zM402.9 100.7h1.20v1.20h-1.20zM404.1 101.6h1.20v1.20h-1.20zM403.7 102.6h1.20v1.20h-1.20zM404.0 103.9h1.20v1.20h-1.20zM404.5 99.7h1.20v1.20h-1.20zM405.2 104.2h1.20v1.20h-1.20zM404.6 102.4h1.20v1.20h-1.20zM406.0 103.4h1.20v1.20h-1.20zM406.0 101.8h1.20v1.20h-1.20zM405.3 99.5h1.20v1.20h-1.20zM407.2 102.2h1.20v1.20h-1.20zM406.9 103.9h1.20v1.20h-1.20zM406.3 99.8h1.20v1.20h-1.20zM407.8 100.4h1.20v1.20h-1.20zM407.7 103.1h1.20v1.20h-1.20zM408.7 101.5h1.20v1.20h-1.20zM408.7 102.0h1.20v1.20h-1.20zM407.9 100.3h1.20v1.20h-1.20zM409.3 100.5h1.20v1.20h-1.20zM409.2 101.2h1.20v1.20h-1.20zM409.9 101.3h1.20v1.20h-1.20zM410.3 102.2h1.20v1.20h-1.20zM410.2 101.0h1.20v1.20h-1.20zM410.3 102.6h1.20v1.20h-1.20zM409.6 99.0h1.20v1.20h-1.20zM410.4 100.7h1.20v1.20h-1.20zM411.0 102.1h1.20v1.20h-1.20zM411.6 101.2h1.20v1.20h-1.20zM412.0 101.5h1.20v1.20h-1.20zM412.3 102.5h1.20v1.20h-1.20zM412.0 103.4h1.20v1.20h-1.20zM413.7 101.1h1.20v1.20h-1.20zM413.9 100.8h1.20v1.20h-1.20zM413.0 103.1h1.20v1.20h-1.20zM413.3 103.5h1.20v1.20h-1.20zM414.3 101.8h1.20v1.20h-1.20zM414.9 102.8h1.20v1.20h-1.20zM416.0 101.6h1.20v1.20h-1.20zM414.8 102.3h1.20v1.20h-1.20zM414.7 104.7h1.20v1.20h-1.20zM415.4 104.3h1.20v1.20h-1.20zM416.5 103.7h1.20v1.20h-1.20zM415.9 104.6h1.20v1.20h-1.20zM414.3 105.2h1.20v1.20h-1.20zM415.4 106.4h1.20v1.20h-1.20zM415.7 105.5h1.20v1.20h-1.20zM414.9 106.4h1.20v1.20h-1.20zM417.8 106.4h1.20v1.20h-1.20zM417.5 107.0h1.20v1.20h-1.20zM417.4 107.8h1.20v1.20h-1.20z" fill="#bf0000"/>
<path d="M407.9 91.7h1.20v1.20h-1.20zM407.8 93.3h1.20v1.20h-1.20zM407.5 91.6h1.20v1.20h-1.20zM408.1 94.7h1.20v1.20h-1.20zM408.5 94.6h1.20v1.20h-1.20zM407.6 91.7h1.20v1.20h-1.20zM406.5 91.5h1.20v1.20h-1.20zM407.3 95.2h1.20v1.20h-1.20zM407.6 94.6h1.20v1.20h-1.20zM405.3 93.8h1.20v1.20h-1.20zM404.3 94.4h1.20v1.20h-1.20zM403.9 94.1h1.20v1.20h-1.20z" fill="#df0000"/>
<path d="M407.9 94.7h1.20v1.20h-1.20zM406.2 92.6h1.20v1.20h-1.20zM406.9 94.8h1.20v1.20h-1.20zM406.2 95.9h1.20v1.20h-1.20zM405.9 94.9h1.20v1.20h-1.20zM403.7 92.9h1.20v1.20h-1.20zM403.7 94.5h1.20v1.20h-1.20zM402.0 92.9h1.20v1.20h-1.20zM402.5 93.1h1.20v1.20h-1.20zM402.7 94.9h1.20v1.20h-1.20zM402.5 93.4h1.20v1.20h-1.20zM403.1 95.6h1.20v1.20h-1.20zM402.5 95.9h1.20v1.20h-1.20zM402.3 94.9h1.20v1.20h-1.20zM402.3 96.2h1.20v1.20h-1.20zM401.2 94.8h1.20v1.20h-1.20zM399.9 95.0h1.20v1.20h-1.20zM400.3 94.6h1.20v1.20h-1.20zM399.0 94.2h1.20v1.20h-1.20zM400.1 96.5h1.20v1.20h-1.20zM398.1 95.5h1.20v1.20h-1.20zM401.2 98.1h1.20v1.20h-1.20zM399.5 96.6h1.20v1.20h-1.20zM400.3 97.1h1.20v1.20h-1.20zM399.5 97.1h1.20v1.20h-1.20zM400.8 98.6h1.20v1.20h-1.20zM398.0 97.3h1.20v1.20h-1.20zM400.6 98.7h1.20v1.20h-1.20zM397.2 97.4h1.20v1.20h-1.20zM399.5 98.4h1.20v1.20h-1.20zM399.5 98.6h1.20v1.20h-1.20zM396.2 98.6h1.20v1.20h-1.20zM398.7 98.4h1.20v1.20h-1.20zM400.7 98.8h1.20v1.20h-1.20zM398.4 99.1h1.20v1.20h-1.20zM396.7 100.6h1.20v1.20h-1.20zM396.6 100.6h1.20v1.20h-1.20zM398.0 100.7h1.20v1.20h-1.20zM399.5 99.5h1.20v1.20h-1.20zM399.8 100.7h1.20v1.20h-1.20zM400.0 100.1h1.20v1.20h-1.20zM399.4 101.8h1.20v1.20h-1.20zM400.2 100.4h1.20v1.20h-1.20zM401.7 99.5h1.20v1.20h-1.20zM399.3 102.4h1.20v1.20h-1.20zM400.4 101.9h1.20v1.20h-1.20zM400.4 102.5h1.20v1.20h-1.20zM401.2 101.4h1.20v1.20h-1.20zM401.3 101.3h1.20v1.20h-1.20zM400.1 102.5h1.20v1.20h-1.20zM401.5 100.1h1.20v1.20h-1.20zM401.9 103.4h1.20v1.20h-1.20zM402.7 102.0h1.20v1.20h-1.20zM403.3 101.5h1.20v1.20h-1.20zM404.0 101.1h1.20v1.20h-1.20zM403.5 100.6h1.20v1.20h-1.20zM403.9 101.9h1.20v1.20h-1.20zM404.2 100.1h1.20v1.20h-1.20zM405.1 103.1h1.20v1.20h-1.20zM404.6 102.1h1.20v1.20h-1.20zM404.9 102.6h1.20v1.20h-1.20zM405.1 102.8h1.20v1.20h-1.20zM406.4 102.8h1.20v1.20h-1.20zM405.5 102.1h1.20v1.20h-1.20zM405.9 102.9h1.20v1.20h-1.20zM405.8 100.5h1.20v1.20h-1.20zM406.8 100.8h1.20v1.20h-1.20zM406.8 99.6h1.20v1.20h-1.20zM406.3 99.6h1.20v1.20h-1.20zM407.3 103.3h1.20v1.20h-1.20zM407.7 100.0h1.20v1.20h-1.20zM407.1 100.3h1.20v1.20h-1.20zM407.1 99.5h1.20v1.20h-1.20zM407.7 102.3h1.20v1.20h-1.20zM408.5 103.2h1.20v1.20h-1.20zM408.2 100.0h1.20v1.20h-1.20zM408.0 100.3h1.20v1.20h-1.20zM409.4 102.1h1.20v1.20h-1.20zM409.7 102.1h1.20v1.20h-1.20zM408.8 100.6h1.20v1.20h-1.20zM409.4 102.9h1.20v1.20h-1.20zM409.8 102.1h1.20v1.20h-1.20zM410.6 99.9h1.20v1.20h-1.20zM410.8 103.4h1.20v1.20h-1.20zM410.9 98.7h1.20v1.20h-1.20zM410.4 101.4h1.20v1.20h-1.20zM410.9 102.1h1.20v1.20h-1.20zM411.7 100.4h1.20v1.20h-1.20zM411.1 101.0h1.20v1.20h-1.20zM411.8 102.2h1.20v1.20h-1.20zM411.8 102.9h1.20v1.20h-1.20zM413.1 99.7h1.20v1.20h-1.20zM411.8 102.0h1.20v1.20h-1.20zM413.3 100.4h1.20v1.20h-1.20zM412.1 102.3h1.20v1.20h-1.20zM412.2 102.1h1.20v1.20h-1.20zM413.2 102.4h1.20v1.20h-1.20zM412.8 102.3h1.20v1.20h-1.20zM413.6 102.0h1.20v1.20h-1.20zM414.8 101.1h1.20v1.20h-1.20zM412.5 104.1h1.20v1.20h-1.20zM415.5 101.8h1.20v1.20h-1.20zM416.0 101.7h1.20v1.20h-1.20zM414.5 103.8h1.20v1.20h-1.20zM415.3 103.6h1.20v1.20h-1.20zM415.6 102.8h1.20v1.20h-1.20zM414.3 104.1h1.20v1.20h-1.20zM416.7 103.7h1.20v1.20h-1.20zM415.0 105.3h1.20v1.20h-1.20zM415.0 105.6h1.20v1.20h-1.20zM415.2 105.5h1.20v1.20h-1.20zM417.5 105.1h1.20v1.20h-1.20zM414.8 106.1h1.20v1.20h-1.20zM415.3 106.9h1.20v1.20h-1.20zM417.3 106.3h1.20v1.20h-1.20zM417.6 107.0h1.20v1.20h-1.20zM417.4 107.4h1.20v1.20h-1.20zM417.5 107.8h1.20v1.20h-1.20z" fill="#9f0000"/>
<path d="M416.7 106.5h1.20v1.20h-1.20z" fill="#800000"/>
<path d="M380.3 84.9L380.6 84.9M380.6 84.9L381.0 84.9M381.0 84.9L381.5 84.9M381.5 84.9L382.1 84.9M391.6 93.3L391.7 93.7M391.7 93.7L391.8 94.0M391.8 94.0L391.9 94.3M391.9 94.3L392.0 94.5" stroke="#cc0000" stroke-width="1.00" stroke-linecap="round" fill="none"/>
<path d="M382.1 84.9L382.7 84.9M382.7 84.9L383.2 84.9M383.2 84.9L383.8 85.0M383.8 85.0L384.3 85.2M384.3 85.2L384.8 85.4M384.8 85.4L385.2 85.7M385.2 85.7L385.7 86.1M385.7 86.1L386.2 86.5M386.2 86.5L386.6 86.9M386.6 86.9L387.1 87.3M387.1 87.3L387.5 87.7M387.5 87.7L387.9 88.1M387.9 88.1L388.3 88.5M388.3 88.5L388.7 88.9M388.7 88.9L389.1 89.4M389.1 89.4L389.5 89.8M389.5 89.8L389.9 90.3M389.9 90.3L390.2 90.8M390.2 90.8L390.5 91.2M390.5 91.2L390.8 91.6M390.8 91.6L391.0 92.0M391.0 92.0L391.2 92.4M391.2 92.4L391.4 92.9M391.4 92.9L391.6 93.3" stroke="#cc0000" stroke-width="1.25" stroke-linecap="round" fill="none"/>
<path d="M380.0 84.5h1.20v1.20h-1.20zM381.8 84.6h1.20v1.20h-1.20zM381.8 84.0h1.20v1.20h-1.20zM382.7 85.4h1.20v1.20h-1.20zM383.2 84.3h1.20v1.20h-1.20zM383.8 85.6h1.20v1.20h-1.20zM383.5 85.2h1.20v1.20h-1.20zM384.5 85.2h1.20v1.20h-1.20zM385.7 86.6h1.20v1.20h-1.20zM385.4 86.1h1.20v1.20h-1.20zM386.5 87.1h1.20v1.20h-1.20zM386.3 87.0h1.20v1.20h-1.20zM386.8 85.8h1.20v1.20h-1.20zM386.6 87.4h1.20v1.20h-1.20zM387.6 87.5h1.20v1.20h-1.20zM388.4 87.2h1.20v1.20h-1.20zM389.1 87.8h1.20v1.20h-1.20zM387.8 89.0h1.20v1.20h-1.20zM388.4 87.6h1.20v1.20h-1.20zM388.6 89.2h1.20v1.20h-1.20zM389.2 88.1h1.20v1.20h-1.20zM388.6 89.1h1.20v1.20h-1.20zM389.7 89.8h1.20v1.20h-1.20zM389.1 90.3h1.20v1.20h-1.20zM390.5 90.6h1.20v1.20h-1.20zM390.2 90.5h1.20v1.20h-1.20zM391.1 90.7h1.20v1.20h-1.20zM390.3 91.9h1.20v1.20h-1.20zM391.1 91.6h1.20v1.20h-1.20zM391.5 91.9h1.20v1.20h-1.20zM390.9 92.7h1.20v1.20h-1.20zM392.0 93.3h1.20v1.20h-1.20zM391.9 93.5h1.20v1.20h-1.20z" fill="#bf0000"/>
<path d="M380.4 84.5h1.20v1.20h-1.20zM380.6 84.9h1.20v1.20h-1.20zM381.3 83.4h1.20v1.20h-1.20zM381.1 84.8h1.20v1.20h-1.20zM382.9 84.7h1.20v1.20h-1.20zM383.4 85.3h1.20v1.20h-1.20zM384.5 85.4h1.20v1.20h-1.20zM384.6 86.3h1.20v1.20h-1.20zM385.3 85.0h1.20v1.20h-1.20zM385.3 84.9h1.20v1.20h-1.20zM385.8 85.8h1.20v1.20h-1.20zM386.8 87.0h1.20v1.20h-1.20zM388.5 89.6h1.20v1.20h-1.20zM388.8 89.7h1.20v1.20h-1.20zM391.3 91.0h1.20v1.20h-1.20zM391.0 93.1h1.20v1.20h-1.20z" fill="#df0000"/>
</g>
<g id="grasp-si">
<path d="M428.7 220.5h1.70v1.70h-1.70z" fill="#0080ff"/>
<path d="M428.0 221.0h1.70v1.70h-1.70z" fill="#009fff"/>
<path d="M427.1 221.9h1.70v1.70h-1.70z" fill="#00dfff"/>
<path d="M427.1 221.9h1.70v1.70h-1.70zM426.1 223.7h1.70v1.70h-1.70z" fill="#bfff40"/>
<path d="M426.2 222.8h1.70v1.70h-1.70z" fill="#00ffff"/>
<path d="M422.0 227.9h1.70v1.70h-1.70z" fill="#0020ff"/>
<path d="M422.1 227.9h1.70v1.70h-1.70zM421.2 230.3h1.70v1.70h-1.70zM421.7 230.9h1.70v1.70h-1.70zM420.0 232.6h1.70v1.70h-1.70z" fill="#00bfff"/>
<path d="M422.9 228.5h1.70v1.70h-1.70z" fill="#00dfff"/>
<path d="M422.2 229.8h1.70v1.70h-1.70z" fill="#ffff00"/>
<path d="M422.7 230.7h1.70v1.70h-1.70zM419.9 233.0h1.70v1.70h-1.70zM420.0 234.6h1.70v1.70h-1.70z" fill="#0000ff"/>
<path d="M421.6 231.6h1.70v1.70h-1.70z" fill="#ffdf00"/>
<path d="M422.3 232.7h1.70v1.70h-1.70z" fill="#0080ff"/>
<path d="M421.8 233.1h1.70v1.70h-1.70zM419.2 233.7h1.70v1.70h-1.70z" fill="#20ffdf"/>
<path d="M420.1 235.1h1.70v1.70h-1.70zM419.7 235.4h1.70v1.70h-1.70z" fill="#009fff"/>
<path d="M420.6 235.6h1.70v1.70h-1.70z" fill="#dfff20"/>
<path d="M420.6 236.1h1.70v1.70h-1.70z" fill="#9fff60"/>
<path d="M446.9 225.6L446.5 225.9M446.5 225.9L446.0 226.2M446.0 226.2L445.3 226.6M445.3 226.6L444.6 227.1M444.6 227.1L443.8 227.6M443.8 227.6L443.1 228.1" stroke="#0000ff" stroke-width="1.75" stroke-linecap="round" fill="none"/>
<path d="M443.1 228.1L442.3 228.6M442.3 228.6L441.6 229.0M441.6 229.0L440.9 229.5M440.9 229.5L440.2 230.0M440.2 230.0L439.5 230.5M439.5 230.5L438.7 231.0M438.7 231.0L438.0 231.5M438.0 231.5L437.3 232.0M437.3 232.0L436.6 232.5M436.6 232.5L435.8 232.9M435.8 232.9L435.1 233.4" stroke="#0000ff" stroke-width="2.00" stroke-linecap="round" fill="none"/>
<path d="M435.1 233.4L434.3 233.9M434.3 233.9L433.6 234.3M433.6 234.3L432.8 234.7M432.8 234.7L432.1 235.2M432.1 235.2L431.4 235.6M431.4 235.6L430.7 235.9M430.7 235.9L430.0 236.3M430.0 236.3L429.3 236.6M429.3 236.6L428.6 236.9M428.6 236.9L427.9 237.2M427.9 237.2L427.3 237.4M427.3 237.4L426.7 237.7M426.7 237.7L426.1 237.9M426.1 237.9L425.7 238.1M425.7 238.1L425.3 238.2" stroke="#0000ff" stroke-width="2.25" stroke-linecap="round" fill="none"/>
<path d="M445.3 224.4h1.70v1.70h-1.70zM430.0 234.2h1.70v1.70h-1.70z" fill="#0060ff"/>
<path d="M445.2 226.2h1.70v1.70h-1.70zM428.6 236.6h1.70v1.70h-1.70z" fill="#9fff60"/>
<path d="M444.2 224.7h1.70v1.70h-1.70zM426.0 235.2h1.70v1.70h-1.70z" fill="#00ffff"/>
<path d="M444.5 226.9h1.70v1.70h-1.70zM437.1 232.8h1.70v1.70h-1.70zM434.1 231.7h1.70v1.70h-1.70zM435.0 233.2h1.70v1.70h-1.70zM431.3 234.5h1.70v1.70h-1.70zM430.4 233.5h1.70v1.70h-1.70zM428.1 236.5h1.70v1.70h-1.70zM425.1 235.5h1.70v1.70h-1.70zM424.7 235.8h1.70v1.70h-1.70z" fill="#0000ff"/>
<path d="M445.2 226.6h1.70v1.70h-1.70zM441.3 228.5h1.70v1.70h-1.70zM440.2 230.0h1.70v1.70h-1.70zM439.1 230.9h1.70v1.70h-1.70zM437.9 231.4h1.70v1.70h-1.70zM436.1 233.3h1.70v1.70h-1.70zM432.3 233.9h1.70v1.70h-1.70z" fill="#0000df"/>
<path d="M442.5 225.4h1.70v1.70h-1.70zM443.8 227.4h1.70v1.70h-1.70zM441.7 226.6h1.70v1.70h-1.70zM442.9 227.9h1.70v1.70h-1.70zM440.8 229.8h1.70v1.70h-1.70zM438.8 231.2h1.70v1.70h-1.70zM436.7 230.0h1.70v1.70h-1.70zM436.6 231.8h1.70v1.70h-1.70zM434.9 232.1h1.70v1.70h-1.70zM432.3 233.2h1.70v1.70h-1.70zM429.6 235.8h1.70v1.70h-1.70zM425.3 238.6h1.70v1.70h-1.70z" fill="#0040ff"/>
<path d="M442.8 227.4h1.70v1.70h-1.70z" fill="#00dfff"/>
<path d="M440.7 227.9h1.70v1.70h-1.70zM439.5 229.0h1.70v1.70h-1.70zM437.7 231.2h1.70v1.70h-1.70zM433.1 232.2h1.70v1.70h-1.70zM432.3 231.8h1.70v1.70h-1.70zM429.8 233.1h1.70v1.70h-1.70zM425.7 234.8h1.70v1.70h-1.70z" fill="#0020ff"/>
<path d="M440.5 229.9h1.70v1.70h-1.70zM436.2 233.1h1.70v1.70h-1.70zM433.6 233.6h1.70v1.70h-1.70zM429.0 233.8h1.70v1.70h-1.70zM427.5 236.6h1.70v1.70h-1.70z" fill="#009fff"/>
<path d="M438.9 228.7h1.70v1.70h-1.70zM434.7 231.2h1.70v1.70h-1.70z" fill="#00bfff"/>
<path d="M438.4 229.1h1.70v1.70h-1.70z" fill="#ffff00"/>
<path d="M435.9 230.6h1.70v1.70h-1.70zM432.5 235.1h1.70v1.70h-1.70z" fill="#80ff80"/>
<path d="M432.7 235.2h1.70v1.70h-1.70z" fill="#60ff9f"/>
<path d="M431.6 235.5h1.70v1.70h-1.70zM428.3 235.6h1.70v1.70h-1.70zM425.8 235.6h1.70v1.70h-1.70z" fill="#20ffdf"/>
<path d="M426.9 235.8h1.70v1.70h-1.70z" fill="#bfff40"/>
<path d="M431.4 237.9h1.70v1.70h-1.70z" fill="#9fff60"/>
<path d="M430.1 236.0h1.70v1.70h-1.70zM425.9 236.2h1.70v1.70h-1.70z" fill="#0020ff"/>
<path d="M430.2 237.3h1.70v1.70h-1.70zM426.1 237.8h1.70v1.70h-1.70zM425.5 239.6h1.70v1.70h-1.70z" fill="#20ffdf"/>
<path d="M430.1 238.7h1.70v1.70h-1.70z" fill="#00dfff"/>
<path d="M429.4 236.1h1.70v1.70h-1.70zM427.9 236.7h1.70v1.70h-1.70zM427.4 237.2h1.70v1.70h-1.70zM424.7 237.7h1.70v1.70h-1.70z" fill="#0000ff"/>
<path d="M428.6 236.0h1.70v1.70h-1.70z" fill="#0060ff"/>
<path d="M429.2 237.3h1.70v1.70h-1.70zM427.1 236.1h1.70v1.70h-1.70z" fill="#009fff"/>
<path d="M427.8 237.1h1.70v1.70h-1.70z" fill="#00bfff"/>
<path d="M427.5 237.4h1.70v1.70h-1.70z" fill="#00ffff"/>
<path d="M424.6 237.4h1.70v1.70h-1.70z" fill="#0000df"/>
<path d="M420.2 242.4h1.70v1.70h-1.70zM418.0 246.0h1.70v1.70h-1.70zM416.8 247.0h1.70v1.70h-1.70z" fill="#0000ff"/>
<path d="M421.3 243.8h1.70v1.70h-1.70z" fill="#bfff40"/>
<path d="M419.4 243.6h1.70v1.70h-1.70zM416.3 248.3h1.70v1.70h-1.70z" fill="#ffff00"/>
<path d="M421.2 245.0h1.70v1.70h-1.70zM419.7 245.2h1.70v1.70h-1.70zM419.6 246.6h1.70v1.70h-1.70zM418.8 247.0h1.70v1.70h-1.70z" fill="#0000df"/>
<path d="M419.1 243.7h1.70v1.70h-1.70zM420.2 245.7h1.70v1.70h-1.70z" fill="#0020ff"/>
<path d="M418.5 243.9h1.70v1.70h-1.70z" fill="#80ff80"/>
<path d="M419.0 245.8h1.70v1.70h-1.70z" fill="#20ffdf"/>
<path d="M417.5 247.9h1.70v1.70h-1.70zM417.6 250.5h1.70v1.70h-1.70z" fill="#00bfff"/>
<path d="M416.7 248.2h1.70v1.70h-1.70zM416.5 250.3h1.70v1.70h-1.70zM416.2 251.1h1.70v1.70h-1.70z" fill="#9fff60"/>
<path d="M416.8 249.6h1.70v1.70h-1.70z" fill="#0060ff"/>
<path d="M416.3 250.8h1.70v1.70h-1.70z" fill="#00dfff"/>
<path d="M413.5 239.5h1.70v1.70h-1.70zM413.7 237.2h1.70v1.70h-1.70zM411.7 239.2h1.70v1.70h-1.70zM411.3 237.3h1.70v1.70h-1.70zM409.2 235.8h1.70v1.70h-1.70zM403.4 242.4h1.70v1.70h-1.70zM405.4 244.5h1.70v1.70h-1.70zM406.6 245.9h1.70v1.70h-1.70zM409.5 245.1h1.70v1.70h-1.70z" fill="#0000df"/>
<path d="M413.6 237.1h1.70v1.70h-1.70zM412.0 238.2h1.70v1.70h-1.70zM410.5 237.1h1.70v1.70h-1.70zM409.7 237.0h1.70v1.70h-1.70zM405.3 239.4h1.70v1.70h-1.70zM401.8 245.0h1.70v1.70h-1.70zM413.7 248.0h1.70v1.70h-1.70zM415.8 249.0h1.70v1.70h-1.70z" fill="#00dfff"/>
<path d="M411.7 239.7h1.70v1.70h-1.70zM406.9 244.8h1.70v1.70h-1.70z" fill="#dfff20"/>
<path d="M411.4 236.9h1.70v1.70h-1.70zM408.5 235.3h1.70v1.70h-1.70zM403.2 243.4h1.70v1.70h-1.70zM402.2 244.8h1.70v1.70h-1.70zM404.3 247.8h1.70v1.70h-1.70zM411.5 245.1h1.70v1.70h-1.70zM412.6 246.3h1.70v1.70h-1.70z" fill="#00bfff"/>
<path d="M411.4 238.6h1.70v1.70h-1.70zM410.0 236.4h1.70v1.70h-1.70zM409.0 238.9h1.70v1.70h-1.70zM404.4 236.7h1.70v1.70h-1.70zM405.9 241.5h1.70v1.70h-1.70zM405.8 242.2h1.70v1.70h-1.70zM403.6 242.9h1.70v1.70h-1.70zM403.7 246.1h1.70v1.70h-1.70zM407.8 245.1h1.70v1.70h-1.70zM414.6 247.8h1.70v1.70h-1.70zM413.8 248.4h1.70v1.70h-1.70zM415.3 249.5h1.70v1.70h-1.70z" fill="#00ffff"/>
<path d="M410.7 238.7h1.70v1.70h-1.70zM406.6 236.3h1.70v1.70h-1.70zM404.9 245.4h1.70v1.70h-1.70zM411.2 247.4h1.70v1.70h-1.70z" fill="#0080ff"/>
<path d="M410.6 236.0h1.70v1.70h-1.70zM405.4 241.2h1.70v1.70h-1.70zM403.1 240.4h1.70v1.70h-1.70z" fill="#ffff00"/>
<path d="M407.4 237.2h1.70v1.70h-1.70zM405.7 244.0h1.70v1.70h-1.70zM406.2 245.0h1.70v1.70h-1.70z" fill="#bfff40"/>
<path d="M407.9 236.3h1.70v1.70h-1.70zM405.8 244.6h1.70v1.70h-1.70zM410.0 245.9h1.70v1.70h-1.70z" fill="#0060ff"/>
<path d="M406.9 235.9h1.70v1.70h-1.70zM406.9 239.9h1.70v1.70h-1.70zM406.1 241.2h1.70v1.70h-1.70zM403.1 239.2h1.70v1.70h-1.70zM405.2 244.3h1.70v1.70h-1.70zM406.1 247.2h1.70v1.70h-1.70zM407.1 245.2h1.70v1.70h-1.70zM408.9 245.1h1.70v1.70h-1.70zM410.3 248.2h1.70v1.70h-1.70zM413.0 247.2h1.70v1.70h-1.70z" fill="#0040ff"/>
<path d="M406.2 237.5h1.70v1.70h-1.70zM403.8 242.1h1.70v1.70h-1.70zM408.7 244.3h1.70v1.70h-1.70zM412.6 247.7h1.70v1.70h-1.70zM412.2 249.5h1.70v1.70h-1.70zM413.6 249.7h1.70v1.70h-1.70z" fill="#009fff"/>
<path d="M405.4 238.0h1.70v1.70h-1.70zM414.5 250.9h1.70v1.70h-1.70z" fill="#9fff60"/>
<path d="M404.9 238.2h1.70v1.70h-1.70zM415.8 250.2h1.70v1.70h-1.70z" fill="#df0000"/>
<path d="M404.1 239.1h1.70v1.70h-1.70zM415.5 248.5h1.70v1.70h-1.70zM414.3 251.4h1.70v1.70h-1.70z" fill="#80ff80"/>
<path d="M401.6 240.9h1.70v1.70h-1.70zM405.3 243.0h1.70v1.70h-1.70zM406.0 245.1h1.70v1.70h-1.70zM407.3 247.4h1.70v1.70h-1.70zM408.0 247.1h1.70v1.70h-1.70zM412.2 249.2h1.70v1.70h-1.70z" fill="#20ffdf"/>
<path d="M404.6 243.1h1.70v1.70h-1.70zM409.0 244.7h1.70v1.70h-1.70zM410.5 248.9h1.70v1.70h-1.70zM411.5 248.0h1.70v1.70h-1.70z" fill="#0020ff"/>
<path d="M406.5 244.4h1.70v1.70h-1.70z" fill="#ff2000"/>
<path d="M406.6 246.9h1.70v1.70h-1.70zM410.5 245.8h1.70v1.70h-1.70z" fill="#ff9f00"/>
<path d="M408.2 245.3h1.70v1.70h-1.70zM412.8 247.9h1.70v1.70h-1.70z" fill="#0000ff"/>
<path d="M411.9 247.9h1.70v1.70h-1.70z" fill="#ff4000"/>
<path d="M413.8 249.4h1.70v1.70h-1.70zM414.1 251.6h1.70v1.70h-1.70zM410.6 256.4h1.70v1.70h-1.70zM406.8 257.7h1.70v1.70h-1.70zM405.6 259.9h1.70v1.70h-1.70zM406.0 265.2h1.70v1.70h-1.70zM406.2 265.7h1.70v1.70h-1.70z" fill="#00bfff"/>
<path d="M415.2 250.7h1.70v1.70h-1.70zM405.9 259.9h1.70v1.70h-1.70zM402.6 265.1h1.70v1.70h-1.70z" fill="#0000df"/>
<path d="M412.6 249.9h1.70v1.70h-1.70zM413.1 252.1h1.70v1.70h-1.70zM409.0 255.1h1.70v1.70h-1.70zM409.6 257.6h1.70v1.70h-1.70zM409.5 257.2h1.70v1.70h-1.70zM404.2 257.4h1.70v1.70h-1.70zM405.0 261.6h1.70v1.70h-1.70zM402.0 262.8h1.70v1.70h-1.70zM405.2 268.4h1.70v1.70h-1.70zM407.0 266.4h1.70v1.70h-1.70z" fill="#0040ff"/>
<path d="M414.2 251.2h1.70v1.70h-1.70zM413.8 251.9h1.70v1.70h-1.70zM411.9 252.5h1.70v1.70h-1.70z" fill="#60ff9f"/>
<path d="M413.9 252.6h1.70v1.70h-1.70zM410.6 255.6h1.70v1.70h-1.70zM408.2 257.4h1.70v1.70h-1.70zM408.0 258.7h1.70v1.70h-1.70zM406.9 258.3h1.70v1.70h-1.70zM404.5 259.6h1.70v1.70h-1.70zM406.3 257.6h1.70v1.70h-1.70zM402.1 259.3h1.70v1.70h-1.70zM403.1 264.9h1.70v1.70h-1.70zM405.9 266.6h1.70v1.70h-1.70zM405.4 269.3h1.70v1.70h-1.70zM406.9 267.4h1.70v1.70h-1.70zM407.2 267.8h1.70v1.70h-1.70z" fill="#009fff"/>
<path d="M412.8 252.7h1.70v1.70h-1.70zM412.7 252.6h1.70v1.70h-1.70zM411.9 255.0h1.70v1.70h-1.70zM412.2 256.1h1.70v1.70h-1.70zM408.4 258.6h1.70v1.70h-1.70zM406.2 259.0h1.70v1.70h-1.70zM404.1 260.1h1.70v1.70h-1.70zM405.4 264.7h1.70v1.70h-1.70zM403.2 267.6h1.70v1.70h-1.70zM404.3 267.4h1.70v1.70h-1.70z" fill="#0000ff"/>
<path d="M412.9 253.5h1.70v1.70h-1.70z" fill="#df0000"/>
<path d="M411.2 253.5h1.70v1.70h-1.70zM412.6 254.0h1.70v1.70h-1.70zM411.0 255.2h1.70v1.70h-1.70zM402.6 261.6h1.70v1.70h-1.70zM403.5 262.8h1.70v1.70h-1.70zM404.5 265.6h1.70v1.70h-1.70zM404.3 269.1h1.70v1.70h-1.70z" fill="#20ffdf"/>
<path d="M411.6 255.0h1.70v1.70h-1.70zM408.3 257.6h1.70v1.70h-1.70zM406.7 258.4h1.70v1.70h-1.70zM403.7 262.5h1.70v1.70h-1.70zM405.2 268.8h1.70v1.70h-1.70z" fill="#0020ff"/>
<path d="M410.3 256.9h1.70v1.70h-1.70zM406.9 258.2h1.70v1.70h-1.70zM403.5 260.7h1.70v1.70h-1.70z" fill="#9fff60"/>
<path d="M408.1 256.9h1.70v1.70h-1.70zM404.8 262.0h1.70v1.70h-1.70zM404.4 265.2h1.70v1.70h-1.70z" fill="#ff8000"/>
<path d="M408.5 257.8h1.70v1.70h-1.70zM404.7 259.2h1.70v1.70h-1.70zM404.4 259.2h1.70v1.70h-1.70z" fill="#bfff40"/>
<path d="M406.6 257.6h1.70v1.70h-1.70z" fill="#ffff00"/>
<path d="M407.0 258.4h1.70v1.70h-1.70z" fill="#0060ff"/>
<path d="M404.6 258.7h1.70v1.70h-1.70z" fill="#ffdf00"/>
<path d="M402.5 260.1h1.70v1.70h-1.70zM405.1 267.3h1.70v1.70h-1.70z" fill="#00dfff"/>
<path d="M403.4 263.9h1.70v1.70h-1.70z" fill="#dfff20"/>
<path d="M403.2 263.6h1.70v1.70h-1.70z" fill="#0080ff"/>
<path d="M408.3 269.3h1.70v1.70h-1.70zM404.5 275.7h1.70v1.70h-1.70zM404.7 274.3h1.70v1.70h-1.70zM411.7 275.4h1.70v1.70h-1.70zM413.3 279.4h1.70v1.70h-1.70z" fill="#dfff20"/>
<path d="M408.3 269.9h1.70v1.70h-1.70zM401.7 268.8h1.70v1.70h-1.70zM401.2 269.5h1.70v1.70h-1.70zM397.8 273.7h1.70v1.70h-1.70zM402.0 273.7h1.70v1.70h-1.70zM401.8 274.9h1.70v1.70h-1.70zM403.1 275.1h1.70v1.70h-1.70zM403.7 277.0h1.70v1.70h-1.70zM407.1 275.3h1.70v1.70h-1.70zM411.5 279.1h1.70v1.70h-1.70zM416.2 280.2h1.70v1.70h-1.70z" fill="#009fff"/>
<path d="M407.3 267.4h1.70v1.70h-1.70zM406.2 266.2h1.70v1.70h-1.70zM407.0 271.4h1.70v1.70h-1.70zM405.2 269.0h1.70v1.70h-1.70zM404.1 271.6h1.70v1.70h-1.70zM404.0 272.7h1.70v1.70h-1.70zM401.9 272.3h1.70v1.70h-1.70zM402.1 273.8h1.70v1.70h-1.70zM408.2 275.2h1.70v1.70h-1.70zM414.6 277.0h1.70v1.70h-1.70z" fill="#0020ff"/>
<path d="M407.9 271.0h1.70v1.70h-1.70zM400.1 274.4h1.70v1.70h-1.70zM412.2 278.5h1.70v1.70h-1.70z" fill="#bfff40"/>
<path d="M407.8 271.4h1.70v1.70h-1.70zM404.8 269.7h1.70v1.70h-1.70zM399.8 271.6h1.70v1.70h-1.70zM398.2 275.7h1.70v1.70h-1.70zM400.1 276.0h1.70v1.70h-1.70zM403.2 275.5h1.70v1.70h-1.70zM403.4 277.4h1.70v1.70h-1.70zM405.6 278.8h1.70v1.70h-1.70zM406.9 276.0h1.70v1.70h-1.70zM409.6 273.3h1.70v1.70h-1.70zM411.0 276.3h1.70v1.70h-1.70zM412.8 279.1h1.70v1.70h-1.70z" fill="#0000ff"/>
<path d="M407.2 270.5h1.70v1.70h-1.70zM405.4 268.8h1.70v1.70h-1.70zM400.9 268.9h1.70v1.70h-1.70zM401.8 272.6h1.70v1.70h-1.70zM402.5 274.3h1.70v1.70h-1.70zM401.2 272.8h1.70v1.70h-1.70zM399.8 272.0h1.70v1.70h-1.70zM401.2 274.4h1.70v1.70h-1.70zM411.5 276.5h1.70v1.70h-1.70zM411.8 276.7h1.70v1.70h-1.70zM416.7 281.3h1.70v1.70h-1.70zM416.8 282.6h1.70v1.70h-1.70z" fill="#0000df"/>
<path d="M406.5 268.9h1.70v1.70h-1.70zM405.2 269.9h1.70v1.70h-1.70zM414.8 280.5h1.70v1.70h-1.70z" fill="#80ff80"/>
<path d="M405.3 268.0h1.70v1.70h-1.70zM400.7 272.8h1.70v1.70h-1.70zM399.4 278.4h1.70v1.70h-1.70z" fill="#ff0000"/>
<path d="M405.7 272.3h1.70v1.70h-1.70zM399.2 272.8h1.70v1.70h-1.70zM399.7 273.5h1.70v1.70h-1.70zM404.8 274.3h1.70v1.70h-1.70zM411.1 275.8h1.70v1.70h-1.70z" fill="#60ff9f"/>
<path d="M404.4 271.6h1.70v1.70h-1.70zM399.1 272.7h1.70v1.70h-1.70zM398.1 272.8h1.70v1.70h-1.70zM400.1 274.6h1.70v1.70h-1.70zM400.3 278.9h1.70v1.70h-1.70zM404.2 274.2h1.70v1.70h-1.70zM407.7 279.3h1.70v1.70h-1.70zM408.4 275.7h1.70v1.70h-1.70zM409.3 278.9h1.70v1.70h-1.70zM410.1 273.7h1.70v1.70h-1.70z" fill="#20ffdf"/>
<path d="M403.7 268.2h1.70v1.70h-1.70zM403.0 269.5h1.70v1.70h-1.70zM402.6 270.2h1.70v1.70h-1.70zM410.3 275.3h1.70v1.70h-1.70zM412.8 279.6h1.70v1.70h-1.70zM414.6 282.5h1.70v1.70h-1.70z" fill="#0060ff"/>
<path d="M403.4 268.3h1.70v1.70h-1.70zM401.7 271.1h1.70v1.70h-1.70zM401.9 273.0h1.70v1.70h-1.70zM402.7 275.5h1.70v1.70h-1.70zM402.6 276.9h1.70v1.70h-1.70zM404.8 278.4h1.70v1.70h-1.70zM406.1 278.5h1.70v1.70h-1.70zM405.7 277.5h1.70v1.70h-1.70zM406.3 276.0h1.70v1.70h-1.70zM408.6 279.0h1.70v1.70h-1.70zM408.9 278.4h1.70v1.70h-1.70zM414.9 278.1h1.70v1.70h-1.70z" fill="#0040ff"/>
<path d="M402.8 270.9h1.70v1.70h-1.70zM398.9 271.2h1.70v1.70h-1.70zM401.9 277.4h1.70v1.70h-1.70zM406.7 278.4h1.70v1.70h-1.70zM413.3 275.9h1.70v1.70h-1.70zM413.7 280.4h1.70v1.70h-1.70z" fill="#00ffff"/>
<path d="M399.4 273.6h1.70v1.70h-1.70zM402.0 273.6h1.70v1.70h-1.70zM401.3 275.6h1.70v1.70h-1.70zM409.6 276.6h1.70v1.70h-1.70zM411.8 277.4h1.70v1.70h-1.70zM415.0 281.3h1.70v1.70h-1.70z" fill="#00bfff"/>
<path d="M398.8 274.5h1.70v1.70h-1.70zM406.0 278.2h1.70v1.70h-1.70z" fill="#ff9f00"/>
<path d="M401.3 276.1h1.70v1.70h-1.70zM407.1 275.6h1.70v1.70h-1.70zM415.6 278.4h1.70v1.70h-1.70z" fill="#00dfff"/>
<path d="M401.1 277.2h1.70v1.70h-1.70zM403.2 275.0h1.70v1.70h-1.70z" fill="#0080ff"/>
<path d="M401.4 278.4h1.70v1.70h-1.70z" fill="#ff2000"/>
<path d="M409.0 278.7h1.70v1.70h-1.70z" fill="#ffdf00"/>
<path d="M409.6 277.4h1.70v1.70h-1.70z" fill="#ffff00"/>
<path d="M414.2 275.0h1.70v1.70h-1.70z" fill="#9fff60"/>
<path d="M413.8 279.8h1.70v1.70h-1.70z" fill="#ff8000"/>
<path d="M428.0 242.0L427.9 242.2" stroke="#0000ff" stroke-width="3.25" stroke-linecap="round" fill="none"/>
<path d="M427.9 242.2L427.8 242.5M421.6 257.1L421.4 257.3" stroke="#0000ff" stroke-width="3.50" stroke-linecap="round" fill="none"/>
<path d="M427.8 242.5L427.6 242.8" stroke="#0000ff" stroke-width="4.00" stroke-linecap="round" fill="none"/>
<path d="M427.6 242.8L427.4 243.2M422.0 256.3L421.8 256.7" stroke="#0000ff" stroke-width="4.25" stroke-linecap="round" fill="none"/>
<path d="M427.4 243.2L427.2 243.6M422.2 255.9L422.0 256.3" stroke="#0000ff" stroke-width="4.50" stroke-linecap="round" fill="none"/>
<path d="M427.2 243.6L427.0 244.0M422.4 255.5L422.2 255.9" stroke="#0000ff" stroke-width="5.00" stroke-linecap="round" fill="none"/>
<path d="M427.0 244.0L426.8 244.5M422.6 255.0L422.4 255.5" stroke="#0000ff" stroke-width="5.25" stroke-linecap="round" fill="none"/>
<path d="M426.8 244.5L426.6 245.0M423.1 253.9L422.8 254.5M422.8 254.5L422.6 255.0" stroke="#0000ff" stroke-width="5.50" stroke-linecap="round" fill="none"/>
<path d="M426.6 245.0L426.4 245.5M423.3 253.3L423.1 253.9" stroke="#0000ff" stroke-width="5.75" stroke-linecap="round" fill="none"/>
<path d="M426.4 245.5L426.1 246.1M426.1 246.1L425.9 246.7M423.8 252.0L423.6 252.6M423.6 252.6L423.3 253.3" stroke="#0000ff" stroke-width="6.00" stroke-linecap="round" fill="none"/>
<path d="M425.9 246.7L425.6 247.4M425.6 247.4L425.4 248.0M425.4 248.0L425.1 248.7M424.1 251.3L423.8 252.0" stroke="#0000ff" stroke-width="6.25" stroke-linecap="round" fill="none"/>
<path d="M425.1 248.7L424.9 249.4M424.9 249.4L424.6 250.0M424.6 250.0L424.3 250.6M424.3 250.6L424.1 251.3" stroke="#0000ff" stroke-width="6.50" stroke-linecap="round" fill="none"/>
<path d="M421.8 256.7L421.6 257.1" stroke="#0000ff" stroke-width="3.75" stroke-linecap="round" fill="none"/>
<path d="M421.4 257.3L421.3 257.6" stroke="#0000ff" stroke-width="3.00" stroke-linecap="round" fill="none"/>
<path d="M421.3 257.6L421.2 257.8" stroke="#001aff" stroke-width="2.75" stroke-linecap="round" fill="none"/>
<path d="M426.8 241.2h1.30v1.30h-1.30zM424.9 248.6h1.30v1.30h-1.30z" fill="#0080ff"/>
<path d="M427.5 242.3h1.30v1.30h-1.30zM426.6 242.6h1.30v1.30h-1.30zM424.8 243.0h1.30v1.30h-1.30zM428.3 248.5h1.30v1.30h-1.30zM422.9 248.8h1.30v1.30h-1.30zM426.9 251.3h1.30v1.30h-1.30zM420.9 252.6h1.30v1.30h-1.30zM422.8 253.3h1.30v1.30h-1.30zM422.5 254.4h1.30v1.30h-1.30zM420.3 254.8h1.30v1.30h-1.30z" fill="#0000ff"/>
<path d="M427.8 242.5h1.30v1.30h-1.30zM428.9 245.6h1.30v1.30h-1.30zM426.6 244.7h1.30v1.30h-1.30zM423.8 250.0h1.30v1.30h-1.30zM424.4 252.3h1.30v1.30h-1.30zM421.1 252.0h1.30v1.30h-1.30zM420.0 251.4h1.30v1.30h-1.30zM419.2 255.0h1.30v1.30h-1.30zM422.5 257.7h1.30v1.30h-1.30zM419.3 256.5h1.30v1.30h-1.30z" fill="#0020ff"/>
<path d="M424.5 242.2h1.30v1.30h-1.30zM427.7 246.0h1.30v1.30h-1.30zM426.4 245.7h1.30v1.30h-1.30zM423.5 245.9h1.30v1.30h-1.30zM426.7 250.4h1.30v1.30h-1.30zM423.8 250.5h1.30v1.30h-1.30z" fill="#0060ff"/>
<path d="M426.8 244.6h1.30v1.30h-1.30zM423.4 246.6h1.30v1.30h-1.30zM420.4 247.1h1.30v1.30h-1.30zM420.1 247.9h1.30v1.30h-1.30zM423.3 250.6h1.30v1.30h-1.30zM424.1 250.7h1.30v1.30h-1.30zM421.2 252.1h1.30v1.30h-1.30zM423.1 254.4h1.30v1.30h-1.30zM420.2 256.1h1.30v1.30h-1.30z" fill="#0000df"/>
<path d="M426.4 245.1h1.30v1.30h-1.30zM424.7 244.9h1.30v1.30h-1.30zM423.2 245.1h1.30v1.30h-1.30zM420.2 246.8h1.30v1.30h-1.30zM423.1 252.0h1.30v1.30h-1.30zM422.1 251.3h1.30v1.30h-1.30z" fill="#0040ff"/>
<path d="M426.8 247.3h1.30v1.30h-1.30z" fill="#ffff00"/>
<path d="M424.2 246.8h1.30v1.30h-1.30z" fill="#00ffff"/>
<path d="M424.1 248.1h1.30v1.30h-1.30zM425.2 256.0h1.30v1.30h-1.30z" fill="#00dfff"/>
<path d="M424.9 255.9h1.30v1.30h-1.30z" fill="#80ff80"/>
<path d="M383.3 261.0L383.6 261.0" stroke="#66ff99" stroke-width="1.25" stroke-linecap="round" fill="none"/>
<path d="M383.6 261.0L383.9 261.0" stroke="#80ff80" stroke-width="1.25" stroke-linecap="round" fill="none"/>
<path d="M383.9 261.0L384.4 261.0" stroke="#99ff66" stroke-width="1.25" stroke-linecap="round" fill="none"/>
<path d="M384.4 261.0L384.9 261.0" stroke="#b3ff4c" stroke-width="1.25" stroke-linecap="round" fill="none"/>
<path d="M384.9 261.0L385.4 261.0" stroke="#e5ff1a" stroke-width="1.25" stroke-linecap="round" fill="none"/>
<path d="M385.4 261.0L385.9 261.0" stroke="#ffff00" stroke-width="1.25" stroke-linecap="round" fill="none"/>
<path d="M385.9 261.0L386.4 261.1" stroke="#ffe500" stroke-width="1.25" stroke-linecap="round" fill="none"/>
<path d="M386.4 261.1L386.9 261.3" stroke="#ffcc00" stroke-width="1.50" stroke-linecap="round" fill="none"/>
<path d="M386.9 261.3L387.3 261.5" stroke="#ffb300" stroke-width="1.50" stroke-linecap="round" fill="none"/>
<path d="M387.3 261.5L387.7 261.8M387.7 261.8L388.1 262.1" stroke="#ff9900" stroke-width="1.50" stroke-linecap="round" fill="none"/>
<path d="M388.1 262.1L388.6 262.5M388.6 262.5L389.0 262.9" stroke="#ff8000" stroke-width="1.50" stroke-linecap="round" fill="none"/>
<path d="M389.0 262.9L389.4 263.3M389.4 263.3L389.7 263.7" stroke="#ff6600" stroke-width="1.50" stroke-linecap="round" fill="none"/>
<path d="M389.7 263.7L390.1 264.0M390.1 264.0L390.5 264.4M390.5 264.4L390.8 264.9" stroke="#ff4c00" stroke-width="1.50" stroke-linecap="round" fill="none"/>
<path d="M390.8 264.9L391.2 265.3M391.2 265.3L391.6 265.7M391.6 265.7L391.9 266.2" stroke="#ff3300" stroke-width="1.50" stroke-linecap="round" fill="none"/>
<path d="M391.9 266.2L392.2 266.6M392.2 266.6L392.5 267.0M392.5 267.0L392.7 267.4M392.7 267.4L392.9 267.8M392.9 267.8L393.1 268.2" stroke="#ff1a00" stroke-width="1.50" stroke-linecap="round" fill="none"/>
<path d="M393.1 268.2L393.3 268.6M393.3 268.6L393.4 269.0M393.4 269.0L393.5 269.3M393.5 269.3L393.6 269.7M393.6 269.7L393.7 269.9M393.7 269.9L393.8 270.2" stroke="#ff0000" stroke-width="1.50" stroke-linecap="round" fill="none"/>
<path d="M382.9 259.9h1.10v1.10h-1.10zM383.2 260.0h1.10v1.10h-1.10z" fill="#80ff80"/>
<path d="M383.3 260.3h1.10v1.10h-1.10z" fill="#60ff9f"/>
<path d="M384.1 260.0h1.10v1.10h-1.10z" fill="#ffff00"/>
<path d="M383.9 260.6h1.10v1.10h-1.10zM384.7 260.7h1.10v1.10h-1.10z" fill="#9fff60"/>
<path d="M384.4 260.5h1.10v1.10h-1.10zM384.7 261.2h1.10v1.10h-1.10z" fill="#bfff40"/>
<path d="M385.5 260.0h1.10v1.10h-1.10zM385.2 260.3h1.10v1.10h-1.10zM385.2 259.9h1.10v1.10h-1.10z" fill="#dfff20"/>
<path d="M385.8 261.1h1.10v1.10h-1.10zM385.8 261.2h1.10v1.10h-1.10zM386.8 260.8h1.10v1.10h-1.10z" fill="#ffdf00"/>
<path d="M386.4 260.2h1.10v1.10h-1.10zM386.8 260.5h1.10v1.10h-1.10zM387.5 260.6h1.10v1.10h-1.10zM387.3 261.4h1.10v1.10h-1.10z" fill="#ffbf00"/>
<path d="M387.0 260.7h1.10v1.10h-1.10zM387.9 260.9h1.10v1.10h-1.10zM389.8 262.4h1.10v1.10h-1.10z" fill="#ff9f00"/>
<path d="M387.2 261.4h1.10v1.10h-1.10zM387.6 262.2h1.10v1.10h-1.10zM387.9 262.7h1.10v1.10h-1.10zM387.5 262.8h1.10v1.10h-1.10zM388.9 263.2h1.10v1.10h-1.10zM391.0 263.6h1.10v1.10h-1.10z" fill="#ff8000"/>
<path d="M387.8 261.3h1.10v1.10h-1.10zM387.5 262.5h1.10v1.10h-1.10zM389.5 263.1h1.10v1.10h-1.10zM390.4 264.9h1.10v1.10h-1.10z" fill="#ff6000"/>
<path d="M388.4 262.7h1.10v1.10h-1.10zM389.1 262.1h1.10v1.10h-1.10zM389.8 263.2h1.10v1.10h-1.10zM390.0 263.2h1.10v1.10h-1.10zM390.3 264.9h1.10v1.10h-1.10zM390.7 264.6h1.10v1.10h-1.10zM392.2 265.7h1.10v1.10h-1.10zM392.3 266.5h1.10v1.10h-1.10zM392.2 268.1h1.10v1.10h-1.10zM393.8 268.4h1.10v1.10h-1.10zM392.5 269.4h1.10v1.10h-1.10z" fill="#ff4000"/>
<path d="M389.9 263.9h1.10v1.10h-1.10zM389.7 263.8h1.10v1.10h-1.10zM390.7 263.7h1.10v1.10h-1.10zM390.4 263.8h1.10v1.10h-1.10zM392.0 266.0h1.10v1.10h-1.10zM392.2 266.7h1.10v1.10h-1.10zM392.5 267.8h1.10v1.10h-1.10zM392.7 268.2h1.10v1.10h-1.10z" fill="#ff2000"/>
<path d="M391.2 265.5h1.10v1.10h-1.10zM391.3 265.0h1.10v1.10h-1.10zM391.0 266.0h1.10v1.10h-1.10zM391.1 266.1h1.10v1.10h-1.10zM392.4 266.6h1.10v1.10h-1.10zM392.7 269.1h1.10v1.10h-1.10z" fill="#ff0000"/>
<path d="M392.2 267.0h1.10v1.10h-1.10zM392.0 267.2h1.10v1.10h-1.10zM392.1 268.3h1.10v1.10h-1.10zM392.6 268.6h1.10v1.10h-1.10zM393.8 269.3h1.10v1.10h-1.10z" fill="#df0000"/>
</g>
</svg>
</div>
</body></html>
